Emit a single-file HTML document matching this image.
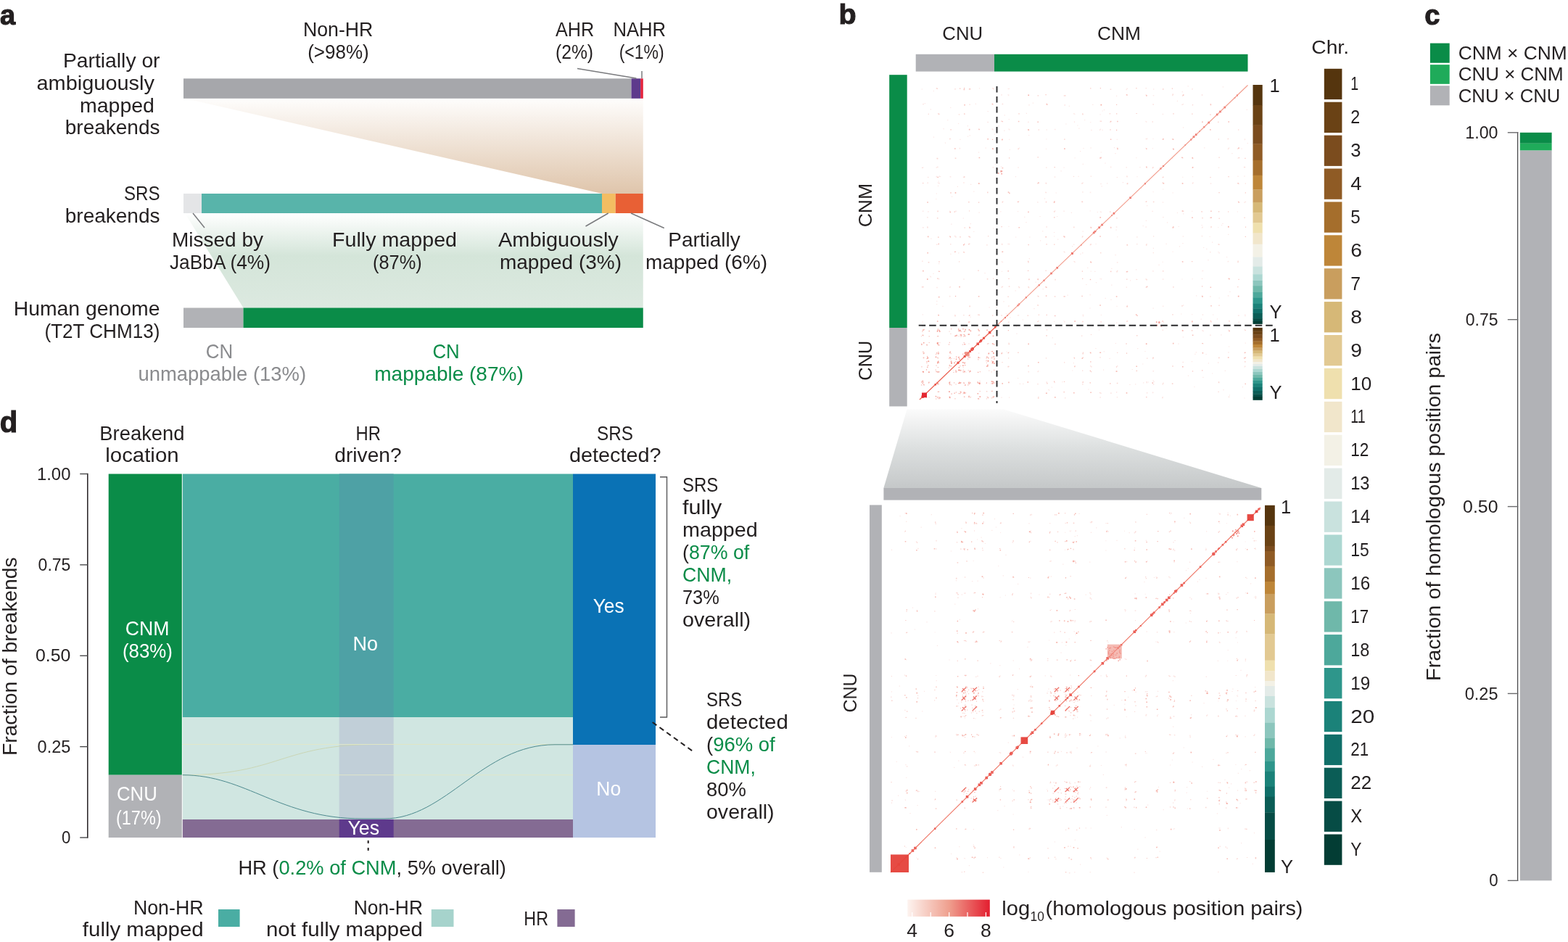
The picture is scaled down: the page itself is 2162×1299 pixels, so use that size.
<!DOCTYPE html>
<html><head><meta charset="utf-8"><title>Figure</title><style>html,body{margin:0;padding:0;background:#fff;width:2162px;height:1299px;overflow:hidden}svg{display:block}text{font-family:"Liberation Sans",Arial,sans-serif}</style></head><body><svg width="2162" height="1299" viewBox="0 0 2162 1299"><rect width="2162" height="1299" fill="#ffffff"/>
<text x="0" y="33.6" text-anchor="start" font-size="38" fill="#231f20" font-weight="bold" stroke="#231f20" stroke-width="1.1">a</text>
<defs><linearGradient id="gBr" x1="0" y1="0" x2="0" y2="1"><stop offset="0" stop-color="#fefdfc"/><stop offset="1" stop-color="#dfc5ab"/></linearGradient><linearGradient id="gGr" x1="0" y1="0" x2="0" y2="1"><stop offset="0" stop-color="#ffffff"/><stop offset="0.45" stop-color="#d4e5d9"/><stop offset="1" stop-color="#dce9e0"/></linearGradient><linearGradient id="gGy" x1="0" y1="0" x2="0" y2="1"><stop offset="0" stop-color="#fbfbfb"/><stop offset="0.5" stop-color="#dcdfdf"/><stop offset="1" stop-color="#c5c8c9"/></linearGradient></defs>
<polygon points="256,136 886.75,136 886.75,267 830,267" fill="url(#gBr)"/>
<polygon points="255,294 886.75,294 886.75,424.5 335.5,424.5" fill="url(#gGr)"/>
<rect x="253.00" y="108.30" width="617.50" height="27.50" fill="#a6a7ab" />
<rect x="870.50" y="108.30" width="12.90" height="27.50" fill="#5e3a8c" />
<rect x="883.25" y="108.30" width="3.50" height="27.50" fill="#e4203a" />
<rect x="253.00" y="267.00" width="25.00" height="27.00" fill="#e4e5e7" />
<rect x="278.00" y="267.00" width="552.00" height="27.00" fill="#58b4aa" />
<rect x="830.00" y="267.00" width="18.75" height="27.00" fill="#f3bd62" />
<rect x="848.75" y="267.00" width="38.00" height="27.00" fill="#e86035" />
<rect x="253.00" y="424.50" width="82.50" height="27.50" fill="#b1b2b6" />
<rect x="335.50" y="424.50" width="551.25" height="27.50" fill="#0a8c48" />
<line x1="796" y1="94.5" x2="877.5" y2="108" stroke="#7a7b7e" stroke-width="1.5" />
<line x1="885" y1="98" x2="885" y2="108" stroke="#7a7b7e" stroke-width="1.5" />
<line x1="838.75" y1="294" x2="807.5" y2="312" stroke="#7a7b7e" stroke-width="1.5" />
<line x1="870" y1="294" x2="915.75" y2="314.5" stroke="#7a7b7e" stroke-width="1.5" />
<line x1="266" y1="294" x2="282" y2="314" stroke="#7a7b7e" stroke-width="1.5" />
<text x="466.2" y="50" text-anchor="middle" font-size="28" fill="#231f20"  textLength="96.40" lengthAdjust="spacingAndGlyphs">Non-HR</text>
<text x="466.4" y="81" text-anchor="middle" font-size="28" fill="#231f20"  textLength="84.54" lengthAdjust="spacingAndGlyphs">(&gt;98%)</text>
<text x="792.5" y="50" text-anchor="middle" font-size="28" fill="#231f20"  textLength="53.11" lengthAdjust="spacingAndGlyphs">AHR</text>
<text x="792" y="81" text-anchor="middle" font-size="28" fill="#231f20"  textLength="52.11" lengthAdjust="spacingAndGlyphs">(2%)</text>
<text x="881.8" y="50" text-anchor="middle" font-size="28" fill="#231f20"  textLength="72.59" lengthAdjust="spacingAndGlyphs">NAHR</text>
<text x="884.7" y="81" text-anchor="middle" font-size="28" fill="#231f20"  textLength="61.98" lengthAdjust="spacingAndGlyphs">(&lt;1%)</text>
<text x="153.75" y="92.5" text-anchor="middle" font-size="28" fill="#231f20"  textLength="133.53" lengthAdjust="spacingAndGlyphs">Partially or</text>
<text x="131.75" y="123.5" text-anchor="middle" font-size="28" fill="#231f20"  textLength="162.46" lengthAdjust="spacingAndGlyphs">ambiguously</text>
<text x="161.5" y="154.5" text-anchor="middle" font-size="28" fill="#231f20"  textLength="102.94" lengthAdjust="spacingAndGlyphs">mapped</text>
<text x="220.5" y="185" text-anchor="end" font-size="28" fill="#231f20" >breakends</text>
<text x="195.75" y="276" text-anchor="middle" font-size="28" fill="#231f20"  textLength="49.56" lengthAdjust="spacingAndGlyphs">SRS</text>
<text x="220.5" y="307" text-anchor="end" font-size="28" fill="#231f20" >breakends</text>
<text x="300" y="340" text-anchor="middle" font-size="28" fill="#231f20" >Missed by</text>
<text x="303.5" y="371" text-anchor="middle" font-size="28" fill="#231f20"  textLength="139.10" lengthAdjust="spacingAndGlyphs">JaBbA (4%)</text>
<text x="544" y="340" text-anchor="middle" font-size="28" fill="#231f20"  textLength="172.10" lengthAdjust="spacingAndGlyphs">Fully mapped</text>
<text x="547.9" y="371" text-anchor="middle" font-size="28" fill="#231f20"  textLength="67.75" lengthAdjust="spacingAndGlyphs">(87%)</text>
<text x="769.9" y="340" text-anchor="middle" font-size="28" fill="#231f20"  textLength="165.87" lengthAdjust="spacingAndGlyphs">Ambiguously</text>
<text x="773" y="371" text-anchor="middle" font-size="28" fill="#231f20" >mapped (3%)</text>
<text x="971" y="340" text-anchor="middle" font-size="28" fill="#231f20" >Partially</text>
<text x="974" y="371" text-anchor="middle" font-size="28" fill="#231f20" >mapped (6%)</text>
<text x="119.6" y="435" text-anchor="middle" font-size="28" fill="#231f20"  textLength="201.75" lengthAdjust="spacingAndGlyphs">Human genome</text>
<text x="140.9" y="466" text-anchor="middle" font-size="28" fill="#231f20"  textLength="158.89" lengthAdjust="spacingAndGlyphs">(T2T CHM13)</text>
<text x="302.5" y="494" text-anchor="middle" font-size="28" fill="#8a8b8e"  textLength="37.45" lengthAdjust="spacingAndGlyphs">CN</text>
<text x="306.25" y="524.5" text-anchor="middle" font-size="28" fill="#8a8b8e"  textLength="231.61" lengthAdjust="spacingAndGlyphs">unmappable (13%)</text>
<text x="615" y="494" text-anchor="middle" font-size="28" fill="#0a8c48"  textLength="37.25" lengthAdjust="spacingAndGlyphs">CN</text>
<text x="619" y="524.5" text-anchor="middle" font-size="28" fill="#0a8c48" >mappable (87%)</text>
<text x="-0.3" y="595.9" text-anchor="start" font-size="40" fill="#231f20" font-weight="bold" stroke="#231f20" stroke-width="1.1">d</text>
<line x1="120.8" y1="652.8" x2="120.8" y2="1155.7" stroke="#231f20" stroke-width="1.5" />
<line x1="110.2" y1="653.5" x2="120.8" y2="653.5" stroke="#4a4a4c" stroke-width="1.4" />
<text x="97.4" y="661.7" text-anchor="end" font-size="23.5" fill="#231f20"  textLength="46.39" lengthAdjust="spacingAndGlyphs">1.00</text>
<line x1="110.2" y1="778.875" x2="120.8" y2="778.875" stroke="#4a4a4c" stroke-width="1.4" />
<text x="97.4" y="787.075" text-anchor="end" font-size="23.5" fill="#231f20"  textLength="44.79" lengthAdjust="spacingAndGlyphs">0.75</text>
<line x1="110.2" y1="904.25" x2="120.8" y2="904.25" stroke="#4a4a4c" stroke-width="1.4" />
<text x="97.4" y="912.45" text-anchor="end" font-size="23.5" fill="#231f20"  textLength="48.39" lengthAdjust="spacingAndGlyphs">0.50</text>
<line x1="110.2" y1="1029.625" x2="120.8" y2="1029.625" stroke="#4a4a4c" stroke-width="1.4" />
<text x="97.4" y="1037.825" text-anchor="end" font-size="23.5" fill="#231f20"  textLength="45.79" lengthAdjust="spacingAndGlyphs">0.25</text>
<line x1="110.2" y1="1155.0" x2="120.8" y2="1155.0" stroke="#4a4a4c" stroke-width="1.4" />
<text x="97.4" y="1163.2" text-anchor="end" font-size="23.5" fill="#231f20"  textLength="12.37" lengthAdjust="spacingAndGlyphs">0</text>
<text x="0" y="0" text-anchor="middle" font-size="28" fill="#231f20" transform="translate(23.4,905.2) rotate(-90)" textLength="273.79" lengthAdjust="spacingAndGlyphs">Fraction of breakends</text>
<rect x="149.70" y="653.50" width="101.10" height="415.20" fill="#0a8c48" />
<rect x="149.70" y="1068.70" width="101.10" height="86.30" fill="#b1b2b6" />
<rect x="251.80" y="653.50" width="538.20" height="335.50" fill="#4aada3" />
<rect x="251.80" y="989.00" width="538.20" height="141.00" fill="#d0e6e1" />
<rect x="251.80" y="1130.00" width="539.80" height="25.00" fill="#846b93" />
<rect x="467.70" y="653.50" width="75.00" height="335.50" fill="#4ea1a5" />
<rect x="467.70" y="989.00" width="75.00" height="141.00" fill="#c1cfd8" />
<rect x="467.70" y="1130.00" width="75.00" height="25.00" fill="#5e3a8c" />
<path d="M251.8,1068.7 C386,1068.7 386,1026.5 520,1026.5 L790,1026.5" fill="none" stroke="#c9d4b0" stroke-width="1" stroke-opacity="0.9"/>
<path d="M251.8,1026.5 L790,1026.5" fill="none" stroke="#e2e8c6" stroke-width="1" stroke-opacity="0.9"/>
<path d="M251.8,1068.7 L790,1068.7" fill="none" stroke="#e2e8c6" stroke-width="1" stroke-opacity="0.9"/>
<path d="M251.8,1068.7 C340,1068.7 385,1129 500,1129 L530,1129 C615,1129 665,1026.8 765,1026.8 L790,1026.8" fill="none" stroke="#4d8a8e" stroke-width="1"/>
<rect x="790.00" y="653.50" width="114.00" height="373.50" fill="#0a72b5" />
<rect x="790.00" y="1027.00" width="114.00" height="128.00" fill="#b5c4e2" />
<text x="195.95" y="606.6" text-anchor="middle" font-size="28" fill="#231f20"  textLength="117.22" lengthAdjust="spacingAndGlyphs">Breakend</text>
<text x="195.95" y="637.2" text-anchor="middle" font-size="28" fill="#231f20"  textLength="101.32" lengthAdjust="spacingAndGlyphs">location</text>
<text x="507.65" y="606.6" text-anchor="middle" font-size="28" fill="#231f20"  textLength="34.45" lengthAdjust="spacingAndGlyphs">HR</text>
<text x="507.5" y="637.2" text-anchor="middle" font-size="28" fill="#231f20"  textLength="92.29" lengthAdjust="spacingAndGlyphs">driven?</text>
<text x="847.9" y="606.6" text-anchor="middle" font-size="28" fill="#231f20"  textLength="49.86" lengthAdjust="spacingAndGlyphs">SRS</text>
<text x="848.3" y="637.2" text-anchor="middle" font-size="28" fill="#231f20"  textLength="126.61" lengthAdjust="spacingAndGlyphs">detected?</text>
<text x="203.15" y="875.5" text-anchor="middle" font-size="28" fill="#ffffff"  textLength="60.72" lengthAdjust="spacingAndGlyphs">CNM</text>
<text x="203.5" y="906.7" text-anchor="middle" font-size="28" fill="#ffffff"  textLength="68.95" lengthAdjust="spacingAndGlyphs">(83%)</text>
<text x="188.9" y="1103.5" text-anchor="middle" font-size="28" fill="#ffffff"  textLength="55.72" lengthAdjust="spacingAndGlyphs">CNU</text>
<text x="191.3" y="1136.5" text-anchor="middle" font-size="28" fill="#ffffff"  textLength="62.55" lengthAdjust="spacingAndGlyphs">(17%)</text>
<text x="503.65" y="897" text-anchor="middle" font-size="28" fill="#ffffff"  textLength="34.55" lengthAdjust="spacingAndGlyphs">No</text>
<text x="839.1" y="845.4" text-anchor="middle" font-size="28" fill="#ffffff"  textLength="42.93" lengthAdjust="spacingAndGlyphs">Yes</text>
<text x="839.2" y="1096.8" text-anchor="middle" font-size="28" fill="#ffffff"  textLength="33.84" lengthAdjust="spacingAndGlyphs">No</text>
<text x="501.3" y="1151" text-anchor="middle" font-size="28" fill="#ffffff"  textLength="43.73" lengthAdjust="spacingAndGlyphs">Yes</text>
<polyline points="910,657.7 919.5,657.7 919.5,989 910,989" fill="none" stroke="#58585a" stroke-width="1.4"/>
<line x1="899.7" y1="996" x2="956" y2="1036.5" stroke="#231f20" stroke-width="2" stroke-dasharray="7,5"/>
<line x1="507.7" y1="1159" x2="507.7" y2="1177" stroke="#231f20" stroke-width="2" stroke-dasharray="4,6"/>
<text x="941" y="677.5" text-anchor="start" font-size="28" fill="#231f20"  textLength="49.26" lengthAdjust="spacingAndGlyphs">SRS</text>
<text x="941" y="708.53" text-anchor="start" font-size="28" fill="#231f20"  textLength="54.36" lengthAdjust="spacingAndGlyphs">fully</text>
<text x="941" y="739.56" text-anchor="start" font-size="28" fill="#231f20"  textLength="103.74" lengthAdjust="spacingAndGlyphs">mapped</text>
<text x="941" y="770.59" text-anchor="start" font-size="28" fill="#231f20"  textLength="92.27" lengthAdjust="spacingAndGlyphs">(<tspan fill="#0a8c48">87% of</tspan></text>
<text x="941" y="801.62" text-anchor="start" font-size="28" fill="#0a8c48"  textLength="68.15" lengthAdjust="spacingAndGlyphs">CNM,</text>
<text x="941" y="832.65" text-anchor="start" font-size="28" fill="#231f20"  textLength="50.74" lengthAdjust="spacingAndGlyphs">73%</text>
<text x="941" y="863.6800000000001" text-anchor="start" font-size="28" fill="#231f20"  textLength="94.07" lengthAdjust="spacingAndGlyphs">overall)</text>
<text x="974" y="973.5" text-anchor="start" font-size="28" fill="#231f20"  textLength="49.36" lengthAdjust="spacingAndGlyphs">SRS</text>
<text x="974" y="1004.5" text-anchor="start" font-size="28" fill="#231f20"  textLength="112.83" lengthAdjust="spacingAndGlyphs">detected</text>
<text x="974" y="1035.5" text-anchor="start" font-size="28" fill="#231f20"  textLength="94.76" lengthAdjust="spacingAndGlyphs">(<tspan fill="#0a8c48">96% of</tspan></text>
<text x="974" y="1066.5" text-anchor="start" font-size="28" fill="#0a8c48"  textLength="67.75" lengthAdjust="spacingAndGlyphs">CNM,</text>
<text x="974" y="1097.5" text-anchor="start" font-size="28" fill="#231f20"  textLength="54.85" lengthAdjust="spacingAndGlyphs">80%</text>
<text x="974" y="1128.5" text-anchor="start" font-size="28" fill="#231f20"  textLength="93.57" lengthAdjust="spacingAndGlyphs">overall)</text>
<text x="513.2" y="1205.8" text-anchor="middle" font-size="28" fill="#231f20"  textLength="369.55" lengthAdjust="spacingAndGlyphs">HR (<tspan fill="#0a8c48">0.2% of CNM</tspan>, 5% overall)</text>
<text x="232.25" y="1260.6" text-anchor="middle" font-size="28" fill="#231f20"  textLength="96.60" lengthAdjust="spacingAndGlyphs">Non-HR</text>
<text x="197.25" y="1291.3" text-anchor="middle" font-size="28" fill="#231f20"  textLength="166.73" lengthAdjust="spacingAndGlyphs">fully mapped</text>
<rect x="301.00" y="1254.00" width="29.60" height="24.00" fill="#4aada3" />
<text x="535.35" y="1260.6" text-anchor="middle" font-size="28" fill="#231f20"  textLength="95.20" lengthAdjust="spacingAndGlyphs">Non-HR</text>
<text x="475" y="1291.3" text-anchor="middle" font-size="28" fill="#231f20"  textLength="215.99" lengthAdjust="spacingAndGlyphs">not fully mapped</text>
<rect x="594.80" y="1254.00" width="30.70" height="24.00" fill="#a6d3cc" />
<text x="739.15" y="1276" text-anchor="middle" font-size="28" fill="#231f20"  textLength="33.65" lengthAdjust="spacingAndGlyphs">HR</text>
<rect x="768.40" y="1254.00" width="24.20" height="24.00" fill="#846b93" />
<text x="1156.6" y="33.4" text-anchor="start" font-size="39.5" fill="#231f20" font-weight="bold" stroke="#231f20" stroke-width="1.1">b</text>
<text x="1327.25" y="55" text-anchor="middle" font-size="26.5" fill="#231f20"  textLength="55.81" lengthAdjust="spacingAndGlyphs">CNU</text>
<text x="1542.9" y="55" text-anchor="middle" font-size="26.5" fill="#231f20"  textLength="59.90" lengthAdjust="spacingAndGlyphs">CNM</text>
<rect x="1262.70" y="74.80" width="108.30" height="23.80" fill="#b1b2b6" />
<rect x="1371.00" y="74.80" width="349.50" height="23.80" fill="#0a8c48" />
<rect x="1226.20" y="103.20" width="24.50" height="348.80" fill="#0a8c48" />
<rect x="1226.20" y="452.00" width="24.50" height="108.40" fill="#b1b2b6" />
<text x="0" y="0" text-anchor="middle" font-size="26.5" fill="#231f20" transform="translate(1201.6,283.15) rotate(-90)" textLength="60.40" lengthAdjust="spacingAndGlyphs">CNM</text>
<text x="0" y="0" text-anchor="middle" font-size="26.5" fill="#231f20" transform="translate(1201.6,497.2) rotate(-90)" textLength="54.91" lengthAdjust="spacingAndGlyphs">CNU</text>
<text x="0" y="0" text-anchor="middle" font-size="26.5" fill="#231f20" transform="translate(1181.3,955.5) rotate(-90)" textLength="54.12" lengthAdjust="spacingAndGlyphs">CNU</text>
<path fill="#e5302e" fill-opacity="0.85" d="M1339.2 480.3h2.5v2.5h-2.5zM1351.9 468.1h2.5v2.5h-2.5zM1288.5 528.9h2.5v2.5h-2.5zM1339.5 479.1h3.5v3.5h-3.5zM1371.0 449.9h2.5v2.5h-2.5zM1351.0 468.5h3v3h-3zM1270.3 545.4h3.5v3.5h-3.5zM1350.0 470.0h2.5v2.5h-2.5zM1346.5 472.4h3.5v3.5h-3.5zM1272.9 542.8h3.5v3.5h-3.5zM1271.9 544.4h3v3h-3zM1350.8 469.3h2.5v2.5h-2.5zM1336.0 482.9h3v3h-3zM1328.7 489.9h3v3h-3zM1338.1 480.4h3.5v3.5h-3.5zM1319.5 498.7h3v3h-3zM1355.0 464.7h3v3h-3zM1362.9 456.7h3.5v3.5h-3.5zM1534.7 293.1h2.5v2.5h-2.5zM1577.9 252.2h2v2h-2zM1506.9 319.7h2.5v2.5h-2.5zM1644.7 187.6h2.5v2.5h-2.5zM1476.9 348.4h2.5v2.5h-2.5zM1557.3 271.4h2.5v2.5h-2.5zM1413.8 409.3h2v2h-2zM1633.6 199.3h1.5v1.5h-1.5zM1456.5 367.9h2.5v2.5h-2.5zM1532.3 296.3h1.5v1.5h-1.5zM1676.9 156.8h2.5v2.5h-2.5zM1687.5 146.7h2.5v2.5h-2.5zM1681.6 153.3h1.5v1.5h-1.5zM1509.3 317.9h2v2h-2zM1647.9 184.6h2.5v2.5h-2.5zM1641.3 191.4h2v2h-2zM1659.3 174.2h2v2h-2zM1701.8 133.9h1.5v1.5h-1.5zM1599.4 231.6h2v2h-2zM1603.1 228.0h2v2h-2zM1648.2 185.3h1.5v1.5h-1.5zM1477.4 347.9h2.5v2.5h-2.5zM1379.7 442.5h1.5v1.5h-1.5zM1677.4 156.8h2v2h-2zM1518.3 308.8h2.5v2.5h-2.5zM1477.6 348.8h1.5v1.5h-1.5zM1490.0 336.9h1.5v1.5h-1.5zM1402.5 420.2h2v2h-2zM1665.5 167.7h2.5v2.5h-2.5zM1385.0 436.9h2v2h-2zM1404.2 418.6h2v2h-2zM1438.5 385.7h2v2h-2zM1514.4 312.5h2.5v2.5h-2.5zM1653.1 180.6h1.5v1.5h-1.5zM1448.3 375.8h2.5v2.5h-2.5zM1388.4 434.2h1.5v1.5h-1.5zM1508.5 318.6h2v2h-2zM1704.9 130.5h2v2h-2zM1431.7 392.2h2v2h-2zM1681.2 152.7h2.5v2.5h-2.5z"/>
<path fill="#e8453a" fill-opacity="0.5" d="M1379.4 235.9h1.6v1.6h-1.6zM1596.9 444.2h1.6v1.6h-1.6zM1379.4 234.9h1.6v1.6h-1.6zM1598.0 444.3h1.6v1.6h-1.6zM1380.4 238.8h1.6v1.6h-1.6zM1593.9 443.3h1.6v1.6h-1.6zM1380.6 235.3h1.6v1.6h-1.6zM1597.5 443.1h1.6v1.6h-1.6zM1375.8 238.1h1.6v1.6h-1.6zM1594.6 447.8h1.6v1.6h-1.6zM1374.3 232.5h1.6v1.6h-1.6zM1600.4 449.2h1.6v1.6h-1.6z"/>
<path fill="#ec5a48" fill-opacity="0.12" d="M1380.9 373.7h1.2v1.2h-1.2zM1453.0 442.8h1.2v1.2h-1.2zM1381.9 361.0h1.2v1.2h-1.2zM1466.3 441.9h1.2v1.2h-1.2zM1380.7 360.2h1.6v1.6h-1.6zM1467.1 443.0h1.6v1.6h-1.6zM1380.9 336.6h1.6v1.6h-1.6zM1491.8 442.8h1.6v1.6h-1.6zM1382.0 277.2h1.6v1.6h-1.6zM1553.8 441.8h1.6v1.6h-1.6zM1380.3 130.1h1.6v1.6h-1.6zM1707.3 443.4h1.6v1.6h-1.6zM1390.2 421.0h1.6v1.6h-1.6zM1403.6 433.9h1.6v1.6h-1.6zM1389.9 421.7h1.6v1.6h-1.6zM1402.9 434.2h1.6v1.6h-1.6zM1390.8 335.8h1.6v1.6h-1.6zM1492.6 433.4h1.6v1.6h-1.6zM1389.3 335.7h1.6v1.6h-1.6zM1492.7 434.8h1.6v1.6h-1.6zM1390.3 311.7h1.2v1.2h-1.2zM1517.8 433.8h1.2v1.2h-1.2zM1391.0 191.7h1.2v1.2h-1.2zM1643.1 433.1h1.2v1.2h-1.2zM1390.3 177.4h1.2v1.2h-1.2zM1658.0 433.9h1.2v1.2h-1.2zM1390.9 177.8h1.6v1.6h-1.6zM1657.6 433.2h1.6v1.6h-1.6zM1389.5 129.9h1.2v1.2h-1.2zM1707.6 434.6h1.2v1.2h-1.2zM1389.8 130.6h1.6v1.6h-1.6zM1706.9 434.3h1.6v1.6h-1.6zM1390.9 121.8h1.2v1.2h-1.2zM1716.1 433.3h1.2v1.2h-1.2zM1389.5 121.7h1.6v1.6h-1.6zM1716.1 434.6h1.6v1.6h-1.6zM1403.0 291.0h1.2v1.2h-1.2zM1539.4 421.7h1.2v1.2h-1.2zM1404.3 277.1h1.2v1.2h-1.2zM1553.9 420.5h1.2v1.2h-1.2zM1403.3 230.2h1.6v1.6h-1.6zM1602.9 421.4h1.6v1.6h-1.6zM1404.6 203.5h1.6v1.6h-1.6zM1630.8 420.2h1.6v1.6h-1.6zM1417.9 395.8h1.6v1.6h-1.6zM1430.1 407.4h1.6v1.6h-1.6zM1418.2 384.3h1.6v1.6h-1.6zM1442.0 407.1h1.6v1.6h-1.6zM1417.1 167.7h1.6v1.6h-1.6zM1668.1 408.2h1.6v1.6h-1.6zM1417.2 167.6h1.2v1.2h-1.2zM1668.2 408.1h1.2v1.2h-1.2zM1418.2 144.0h1.6v1.6h-1.6zM1692.8 407.1h1.6v1.6h-1.6zM1441.4 326.1h1.6v1.6h-1.6zM1502.7 384.9h1.6v1.6h-1.6zM1442.4 311.8h1.6v1.6h-1.6zM1517.7 384.0h1.6v1.6h-1.6zM1442.4 313.0h1.2v1.2h-1.2zM1516.4 383.9h1.2v1.2h-1.2zM1441.9 277.7h1.6v1.6h-1.6zM1553.3 384.4h1.6v1.6h-1.6zM1441.3 264.3h1.2v1.2h-1.2zM1567.3 384.9h1.2v1.2h-1.2zM1442.0 230.3h1.6v1.6h-1.6zM1602.8 384.3h1.6v1.6h-1.6zM1441.9 204.8h1.2v1.2h-1.2zM1629.4 384.4h1.2v1.2h-1.2zM1442.3 191.3h1.2v1.2h-1.2zM1643.5 384.0h1.2v1.2h-1.2zM1453.2 325.3h1.2v1.2h-1.2zM1503.6 373.6h1.2v1.2h-1.2zM1453.0 299.2h1.2v1.2h-1.2zM1530.8 373.8h1.2v1.2h-1.2zM1453.7 243.3h1.6v1.6h-1.6zM1589.1 373.1h1.6v1.6h-1.6zM1453.8 178.1h1.2v1.2h-1.2zM1657.3 373.0h1.2v1.2h-1.2zM1454.1 177.7h1.6v1.6h-1.6zM1657.7 372.7h1.6v1.6h-1.6zM1466.3 290.5h1.6v1.6h-1.6zM1539.9 361.1h1.6v1.6h-1.6zM1466.5 230.5h1.2v1.2h-1.2zM1602.6 360.8h1.2v1.2h-1.2zM1467.4 204.7h1.2v1.2h-1.2zM1629.5 360.0h1.2v1.2h-1.2zM1467.7 143.7h1.2v1.2h-1.2zM1693.2 359.7h1.2v1.2h-1.2zM1467.4 144.4h1.6v1.6h-1.6zM1692.5 359.9h1.6v1.6h-1.6zM1479.9 336.5h1.6v1.6h-1.6zM1491.9 348.0h1.6v1.6h-1.6zM1481.5 217.2h1.2v1.2h-1.2zM1616.5 346.5h1.2v1.2h-1.2zM1481.3 156.9h1.2v1.2h-1.2zM1679.3 346.7h1.2v1.2h-1.2zM1480.0 156.0h1.6v1.6h-1.6zM1680.3 347.9h1.6v1.6h-1.6zM1491.5 326.2h1.6v1.6h-1.6zM1502.6 336.9h1.6v1.6h-1.6zM1491.1 277.3h1.6v1.6h-1.6zM1553.7 337.3h1.6v1.6h-1.6zM1502.7 290.2h1.2v1.2h-1.2zM1540.2 326.1h1.2v1.2h-1.2zM1502.7 264.6h1.6v1.6h-1.6zM1567.0 326.1h1.6v1.6h-1.6zM1504.1 178.7h1.6v1.6h-1.6zM1656.6 324.8h1.6v1.6h-1.6zM1503.1 168.1h1.2v1.2h-1.2zM1667.6 325.7h1.2v1.2h-1.2zM1517.2 299.0h1.2v1.2h-1.2zM1531.0 312.3h1.2v1.2h-1.2zM1517.3 291.7h1.6v1.6h-1.6zM1538.7 312.2h1.6v1.6h-1.6zM1516.6 291.2h1.2v1.2h-1.2zM1539.2 312.8h1.2v1.2h-1.2zM1517.2 252.7h1.6v1.6h-1.6zM1579.4 312.2h1.6v1.6h-1.6zM1516.9 177.5h1.2v1.2h-1.2zM1657.8 312.6h1.2v1.2h-1.2zM1516.5 157.2h1.2v1.2h-1.2zM1679.1 312.9h1.2v1.2h-1.2zM1539.7 191.7h1.2v1.2h-1.2zM1643.1 290.7h1.2v1.2h-1.2zM1539.0 178.0h1.2v1.2h-1.2zM1657.3 291.4h1.2v1.2h-1.2zM1554.0 252.1h1.6v1.6h-1.6zM1580.0 277.0h1.6v1.6h-1.6zM1553.3 242.8h1.6v1.6h-1.6zM1589.7 277.7h1.6v1.6h-1.6zM1552.4 122.7h1.6v1.6h-1.6zM1715.1 278.5h1.6v1.6h-1.6zM1553.4 121.4h1.6v1.6h-1.6zM1716.5 277.6h1.6v1.6h-1.6zM1567.4 243.0h1.2v1.2h-1.2zM1589.5 264.1h1.2v1.2h-1.2zM1566.2 217.0h1.2v1.2h-1.2zM1616.6 265.3h1.2v1.2h-1.2zM1579.4 203.8h1.2v1.2h-1.2zM1630.4 252.7h1.2v1.2h-1.2zM1580.9 190.6h1.6v1.6h-1.6zM1644.2 251.3h1.6v1.6h-1.6zM1579.3 166.7h1.2v1.2h-1.2zM1669.1 252.7h1.2v1.2h-1.2zM1579.9 167.2h1.6v1.6h-1.6zM1668.7 252.2h1.6v1.6h-1.6zM1579.4 130.0h1.6v1.6h-1.6zM1707.4 252.7h1.6v1.6h-1.6zM1588.5 230.8h1.6v1.6h-1.6zM1602.3 243.9h1.6v1.6h-1.6zM1588.7 204.0h1.2v1.2h-1.2zM1630.2 243.7h1.2v1.2h-1.2zM1589.4 190.9h1.2v1.2h-1.2zM1643.9 243.1h1.2v1.2h-1.2zM1590.1 131.2h1.2v1.2h-1.2zM1706.2 242.4h1.2v1.2h-1.2zM1589.7 130.9h1.2v1.2h-1.2zM1706.5 242.8h1.2v1.2h-1.2zM1602.6 156.7h1.6v1.6h-1.6zM1679.6 230.4h1.6v1.6h-1.6zM1603.2 121.4h1.2v1.2h-1.2zM1716.4 229.9h1.2v1.2h-1.2zM1644.1 143.9h1.2v1.2h-1.2zM1692.9 190.7h1.2v1.2h-1.2zM1643.1 122.2h1.6v1.6h-1.6zM1715.6 191.6h1.6v1.6h-1.6zM1643.6 121.8h1.2v1.2h-1.2zM1716.0 191.2h1.2v1.2h-1.2zM1668.5 142.8h1.2v1.2h-1.2zM1694.1 167.4h1.2v1.2h-1.2z"/>
<path fill="#ec5a48" fill-opacity="0.35" d="M1380.8 395.4h1.2v1.2h-1.2zM1430.4 442.9h1.2v1.2h-1.2zM1381.6 346.5h1.6v1.6h-1.6zM1481.5 442.2h1.6v1.6h-1.6zM1380.5 312.0h1.2v1.2h-1.2zM1517.5 443.2h1.2v1.2h-1.2zM1381.6 230.8h1.6v1.6h-1.6zM1602.3 442.2h1.6v1.6h-1.6zM1381.0 191.8h1.6v1.6h-1.6zM1643.0 442.8h1.6v1.6h-1.6zM1380.4 166.5h1.2v1.2h-1.2zM1669.3 443.3h1.2v1.2h-1.2zM1381.8 167.1h1.2v1.2h-1.2zM1668.8 441.9h1.2v1.2h-1.2zM1389.5 408.5h1.2v1.2h-1.2zM1416.7 434.6h1.2v1.2h-1.2zM1390.4 383.7h1.2v1.2h-1.2zM1442.6 433.8h1.2v1.2h-1.2zM1389.4 372.9h1.6v1.6h-1.6zM1453.9 434.7h1.6v1.6h-1.6zM1391.0 265.6h1.6v1.6h-1.6zM1565.9 433.1h1.6v1.6h-1.6zM1389.7 264.3h1.6v1.6h-1.6zM1567.2 434.4h1.6v1.6h-1.6zM1391.0 217.2h1.2v1.2h-1.2zM1616.4 433.2h1.2v1.2h-1.2zM1404.4 313.3h1.2v1.2h-1.2zM1516.1 420.3h1.2v1.2h-1.2zM1404.5 313.0h1.6v1.6h-1.6zM1516.4 420.2h1.6v1.6h-1.6zM1402.9 277.6h1.6v1.6h-1.6zM1553.3 421.8h1.6v1.6h-1.6zM1403.5 204.8h1.2v1.2h-1.2zM1629.4 421.2h1.2v1.2h-1.2zM1403.8 166.7h1.6v1.6h-1.6zM1669.2 420.9h1.6v1.6h-1.6zM1417.0 372.8h1.2v1.2h-1.2zM1454.0 408.3h1.2v1.2h-1.2zM1417.1 359.8h1.2v1.2h-1.2zM1467.6 408.2h1.2v1.2h-1.2zM1417.6 337.0h1.2v1.2h-1.2zM1491.3 407.7h1.2v1.2h-1.2zM1417.5 336.8h1.2v1.2h-1.2zM1491.6 407.8h1.2v1.2h-1.2zM1417.2 291.6h1.6v1.6h-1.6zM1538.8 408.1h1.6v1.6h-1.6zM1417.1 178.1h1.6v1.6h-1.6zM1657.2 408.2h1.6v1.6h-1.6zM1417.4 130.5h1.6v1.6h-1.6zM1706.9 407.8h1.6v1.6h-1.6zM1430.8 385.0h1.2v1.2h-1.2zM1441.3 395.0h1.2v1.2h-1.2zM1430.4 384.3h1.6v1.6h-1.6zM1442.0 395.4h1.6v1.6h-1.6zM1431.2 251.3h1.6v1.6h-1.6zM1580.8 394.6h1.6v1.6h-1.6zM1430.3 252.2h1.2v1.2h-1.2zM1579.8 395.5h1.2v1.2h-1.2zM1430.6 216.3h1.2v1.2h-1.2zM1617.3 395.2h1.2v1.2h-1.2zM1431.7 178.4h1.2v1.2h-1.2zM1657.0 394.2h1.2v1.2h-1.2zM1430.4 167.4h1.6v1.6h-1.6zM1668.5 395.5h1.6v1.6h-1.6zM1430.7 131.2h1.2v1.2h-1.2zM1706.2 395.1h1.2v1.2h-1.2zM1442.5 336.3h1.2v1.2h-1.2zM1492.1 383.8h1.2v1.2h-1.2zM1441.6 326.0h1.2v1.2h-1.2zM1502.9 384.7h1.2v1.2h-1.2zM1442.5 142.7h1.6v1.6h-1.6zM1694.2 383.8h1.6v1.6h-1.6zM1442.9 143.4h1.6v1.6h-1.6zM1693.5 383.4h1.6v1.6h-1.6zM1441.5 130.1h1.2v1.2h-1.2zM1707.4 384.8h1.2v1.2h-1.2zM1453.2 336.6h1.2v1.2h-1.2zM1491.8 373.6h1.2v1.2h-1.2zM1453.1 277.3h1.6v1.6h-1.6zM1553.7 373.7h1.6v1.6h-1.6zM1452.8 278.3h1.6v1.6h-1.6zM1552.7 374.0h1.6v1.6h-1.6zM1453.6 230.0h1.2v1.2h-1.2zM1603.1 373.2h1.2v1.2h-1.2zM1467.0 325.9h1.6v1.6h-1.6zM1503.0 360.4h1.6v1.6h-1.6zM1466.3 325.2h1.6v1.6h-1.6zM1503.7 361.0h1.6v1.6h-1.6zM1467.1 204.3h1.6v1.6h-1.6zM1629.9 360.2h1.6v1.6h-1.6zM1467.3 191.6h1.2v1.2h-1.2zM1643.1 360.1h1.2v1.2h-1.2zM1492.2 325.4h1.2v1.2h-1.2zM1503.5 336.2h1.2v1.2h-1.2zM1503.6 313.2h1.6v1.6h-1.6zM1516.2 325.2h1.6v1.6h-1.6zM1503.4 312.7h1.2v1.2h-1.2zM1516.7 325.4h1.2v1.2h-1.2zM1503.2 121.2h1.2v1.2h-1.2zM1716.7 325.7h1.2v1.2h-1.2zM1516.3 299.1h1.6v1.6h-1.6zM1530.9 313.2h1.6v1.6h-1.6zM1516.3 217.1h1.6v1.6h-1.6zM1616.5 313.1h1.6v1.6h-1.6zM1517.2 216.6h1.6v1.6h-1.6zM1617.0 312.3h1.6v1.6h-1.6zM1517.7 143.8h1.6v1.6h-1.6zM1693.0 311.8h1.6v1.6h-1.6zM1516.8 121.0h1.2v1.2h-1.2zM1716.9 312.6h1.2v1.2h-1.2zM1530.8 191.5h1.6v1.6h-1.6zM1643.2 299.3h1.6v1.6h-1.6zM1530.8 166.7h1.6v1.6h-1.6zM1669.2 299.3h1.6v1.6h-1.6zM1540.2 204.6h1.6v1.6h-1.6zM1629.6 290.2h1.6v1.6h-1.6zM1539.0 179.0h1.2v1.2h-1.2zM1656.3 291.3h1.2v1.2h-1.2zM1540.1 166.7h1.6v1.6h-1.6zM1669.1 290.4h1.6v1.6h-1.6zM1539.1 156.3h1.2v1.2h-1.2zM1680.0 291.3h1.2v1.2h-1.2zM1539.0 143.8h1.2v1.2h-1.2zM1693.0 291.4h1.2v1.2h-1.2zM1553.6 130.5h1.2v1.2h-1.2zM1706.9 277.4h1.2v1.2h-1.2zM1552.7 130.0h1.6v1.6h-1.6zM1707.4 278.2h1.6v1.6h-1.6zM1566.5 155.9h1.2v1.2h-1.2zM1680.4 265.0h1.2v1.2h-1.2zM1566.3 121.1h1.2v1.2h-1.2zM1716.7 265.2h1.2v1.2h-1.2zM1580.5 230.5h1.2v1.2h-1.2zM1602.6 251.6h1.2v1.2h-1.2zM1580.0 229.5h1.6v1.6h-1.6zM1603.6 252.1h1.6v1.6h-1.6zM1580.0 204.5h1.6v1.6h-1.6zM1629.7 252.1h1.6v1.6h-1.6zM1580.1 131.1h1.6v1.6h-1.6zM1706.3 252.0h1.6v1.6h-1.6zM1588.6 167.4h1.2v1.2h-1.2zM1668.4 243.9h1.2v1.2h-1.2zM1589.5 143.4h1.2v1.2h-1.2zM1693.4 243.0h1.2v1.2h-1.2zM1603.2 190.9h1.6v1.6h-1.6zM1643.9 229.9h1.6v1.6h-1.6zM1603.1 122.6h1.2v1.2h-1.2zM1715.2 229.9h1.2v1.2h-1.2zM1617.3 205.1h1.6v1.6h-1.6zM1629.1 216.4h1.6v1.6h-1.6zM1616.8 191.4h1.6v1.6h-1.6zM1643.4 216.8h1.6v1.6h-1.6zM1616.6 129.6h1.2v1.2h-1.2zM1707.8 217.1h1.2v1.2h-1.2zM1615.8 121.6h1.2v1.2h-1.2zM1716.3 217.8h1.2v1.2h-1.2zM1630.9 130.2h1.6v1.6h-1.6zM1707.3 203.3h1.6v1.6h-1.6zM1643.3 156.5h1.2v1.2h-1.2zM1679.8 191.4h1.2v1.2h-1.2zM1657.4 167.6h1.2v1.2h-1.2zM1668.2 178.0h1.2v1.2h-1.2zM1656.9 130.4h1.2v1.2h-1.2zM1707.1 178.4h1.2v1.2h-1.2zM1668.6 143.6h1.6v1.6h-1.6zM1693.3 167.2h1.6v1.6h-1.6z"/>
<path fill="#ec5a48" fill-opacity="0.2" d="M1380.3 434.2h1.6v1.6h-1.6zM1389.9 443.4h1.6v1.6h-1.6zM1381.9 394.6h1.2v1.2h-1.2zM1431.3 441.9h1.2v1.2h-1.2zM1381.3 346.8h1.2v1.2h-1.2zM1481.1 442.5h1.2v1.2h-1.2zM1381.0 335.9h1.2v1.2h-1.2zM1492.5 442.7h1.2v1.2h-1.2zM1381.4 278.0h1.6v1.6h-1.6zM1553.0 442.4h1.6v1.6h-1.6zM1381.7 191.5h1.2v1.2h-1.2zM1643.3 442.0h1.2v1.2h-1.2zM1381.6 142.7h1.6v1.6h-1.6zM1694.2 442.2h1.6v1.6h-1.6zM1382.0 142.8h1.2v1.2h-1.2zM1694.1 441.8h1.2v1.2h-1.2zM1390.8 394.3h1.6v1.6h-1.6zM1431.6 433.4h1.6v1.6h-1.6zM1404.1 394.8h1.2v1.2h-1.2zM1431.1 420.6h1.2v1.2h-1.2zM1404.6 395.7h1.6v1.6h-1.6zM1430.1 420.1h1.6v1.6h-1.6zM1404.2 156.1h1.6v1.6h-1.6zM1680.2 420.5h1.6v1.6h-1.6zM1417.3 394.9h1.6v1.6h-1.6zM1431.0 408.0h1.6v1.6h-1.6zM1418.0 384.6h1.6v1.6h-1.6zM1441.7 407.3h1.6v1.6h-1.6zM1417.2 361.0h1.6v1.6h-1.6zM1466.3 408.0h1.6v1.6h-1.6zM1417.7 178.6h1.6v1.6h-1.6zM1656.8 407.6h1.6v1.6h-1.6zM1417.5 130.6h1.6v1.6h-1.6zM1706.8 407.7h1.6v1.6h-1.6zM1430.3 278.2h1.2v1.2h-1.2zM1552.7 395.5h1.2v1.2h-1.2zM1441.4 372.5h1.6v1.6h-1.6zM1454.3 384.8h1.6v1.6h-1.6zM1441.7 278.1h1.2v1.2h-1.2zM1552.9 384.5h1.2v1.2h-1.2zM1441.6 265.1h1.2v1.2h-1.2zM1566.4 384.7h1.2v1.2h-1.2zM1441.5 251.8h1.6v1.6h-1.6zM1580.3 384.8h1.6v1.6h-1.6zM1442.0 252.6h1.2v1.2h-1.2zM1579.4 384.3h1.2v1.2h-1.2zM1442.6 178.4h1.2v1.2h-1.2zM1656.9 383.7h1.2v1.2h-1.2zM1453.1 299.0h1.6v1.6h-1.6zM1531.0 373.6h1.6v1.6h-1.6zM1454.0 290.2h1.2v1.2h-1.2zM1540.2 372.8h1.2v1.2h-1.2zM1452.9 291.1h1.6v1.6h-1.6zM1539.3 373.8h1.6v1.6h-1.6zM1466.6 346.5h1.2v1.2h-1.2zM1481.4 360.8h1.2v1.2h-1.2zM1467.5 347.4h1.2v1.2h-1.2zM1480.5 359.9h1.2v1.2h-1.2zM1466.7 131.2h1.6v1.6h-1.6zM1706.2 360.6h1.6v1.6h-1.6zM1467.9 131.1h1.6v1.6h-1.6zM1706.3 359.5h1.6v1.6h-1.6zM1480.0 312.6h1.6v1.6h-1.6zM1516.9 347.9h1.6v1.6h-1.6zM1480.1 312.5h1.2v1.2h-1.2zM1517.0 347.8h1.2v1.2h-1.2zM1479.9 242.8h1.2v1.2h-1.2zM1589.7 348.0h1.2v1.2h-1.2zM1480.9 167.6h1.2v1.2h-1.2zM1668.2 347.0h1.2v1.2h-1.2zM1491.6 277.6h1.6v1.6h-1.6zM1553.4 336.8h1.6v1.6h-1.6zM1492.3 264.3h1.2v1.2h-1.2zM1567.2 336.1h1.2v1.2h-1.2zM1492.5 251.6h1.2v1.2h-1.2zM1580.5 335.9h1.2v1.2h-1.2zM1491.2 252.2h1.6v1.6h-1.6zM1579.9 337.1h1.6v1.6h-1.6zM1492.2 156.9h1.6v1.6h-1.6zM1679.4 336.2h1.6v1.6h-1.6zM1492.0 156.3h1.6v1.6h-1.6zM1680.0 336.5h1.6v1.6h-1.6zM1503.7 242.5h1.2v1.2h-1.2zM1590.0 325.2h1.2v1.2h-1.2zM1503.5 203.4h1.2v1.2h-1.2zM1630.8 325.4h1.2v1.2h-1.2zM1516.0 178.5h1.2v1.2h-1.2zM1656.9 313.4h1.2v1.2h-1.2zM1517.5 166.5h1.6v1.6h-1.6zM1669.3 312.0h1.6v1.6h-1.6zM1516.4 166.6h1.2v1.2h-1.2zM1669.3 313.0h1.2v1.2h-1.2zM1517.3 143.8h1.6v1.6h-1.6zM1693.0 312.2h1.6v1.6h-1.6zM1530.0 291.3h1.6v1.6h-1.6zM1539.1 300.0h1.6v1.6h-1.6zM1531.1 229.7h1.2v1.2h-1.2zM1603.3 298.9h1.2v1.2h-1.2zM1530.2 178.1h1.6v1.6h-1.6zM1657.2 299.8h1.6v1.6h-1.6zM1530.2 167.8h1.2v1.2h-1.2zM1668.0 299.8h1.2v1.2h-1.2zM1529.6 155.9h1.6v1.6h-1.6zM1680.4 300.4h1.6v1.6h-1.6zM1530.6 122.5h1.6v1.6h-1.6zM1715.3 299.4h1.6v1.6h-1.6zM1539.7 243.9h1.2v1.2h-1.2zM1588.5 290.8h1.2v1.2h-1.2zM1539.9 203.5h1.6v1.6h-1.6zM1630.8 290.5h1.6v1.6h-1.6zM1553.6 252.6h1.6v1.6h-1.6zM1579.5 277.4h1.6v1.6h-1.6zM1553.2 242.4h1.2v1.2h-1.2zM1590.2 277.8h1.2v1.2h-1.2zM1552.6 230.2h1.2v1.2h-1.2zM1602.9 278.4h1.2v1.2h-1.2zM1579.7 191.1h1.2v1.2h-1.2zM1643.7 252.4h1.2v1.2h-1.2zM1579.6 121.1h1.2v1.2h-1.2zM1716.7 252.5h1.2v1.2h-1.2zM1589.1 230.0h1.6v1.6h-1.6zM1603.1 243.4h1.6v1.6h-1.6zM1590.1 122.4h1.2v1.2h-1.2zM1715.4 242.4h1.2v1.2h-1.2zM1602.5 191.4h1.6v1.6h-1.6zM1643.4 230.5h1.6v1.6h-1.6zM1616.8 204.3h1.6v1.6h-1.6zM1629.9 216.9h1.6v1.6h-1.6zM1615.9 191.0h1.6v1.6h-1.6zM1643.8 217.7h1.6v1.6h-1.6zM1617.2 156.1h1.6v1.6h-1.6zM1680.3 216.5h1.6v1.6h-1.6zM1616.2 131.0h1.2v1.2h-1.2zM1706.4 217.4h1.2v1.2h-1.2zM1630.6 143.0h1.2v1.2h-1.2zM1693.9 203.6h1.2v1.2h-1.2zM1629.4 143.9h1.2v1.2h-1.2zM1692.9 204.8h1.2v1.2h-1.2zM1629.9 131.2h1.6v1.6h-1.6zM1706.2 204.3h1.6v1.6h-1.6zM1643.7 144.3h1.2v1.2h-1.2zM1692.5 191.1h1.2v1.2h-1.2zM1657.0 167.6h1.6v1.6h-1.6zM1668.2 178.3h1.6v1.6h-1.6zM1668.2 157.3h1.6v1.6h-1.6zM1679.0 167.6h1.6v1.6h-1.6z"/>
<path fill="#ec5a48" fill-opacity="0.15" d="M1271.5 443.3h1.2v1.2h-1.2zM1380.4 547.6h1.2v1.2h-1.2zM1271.7 433.2h1.2v1.2h-1.2zM1391.0 547.5h1.2v1.2h-1.2zM1272.4 394.8h1.6v1.6h-1.6zM1431.1 546.7h1.6v1.6h-1.6zM1271.1 359.5h1.6v1.6h-1.6zM1467.9 548.0h1.6v1.6h-1.6zM1272.0 313.0h1.6v1.6h-1.6zM1516.4 547.2h1.6v1.6h-1.6zM1271.9 290.7h1.2v1.2h-1.2zM1539.7 547.3h1.2v1.2h-1.2zM1272.2 290.5h1.2v1.2h-1.2zM1539.9 547.0h1.2v1.2h-1.2zM1272.4 230.4h1.2v1.2h-1.2zM1602.6 546.7h1.2v1.2h-1.2zM1278.1 312.2h1.6v1.6h-1.6zM1517.2 541.4h1.6v1.6h-1.6zM1278.1 298.9h1.6v1.6h-1.6zM1531.1 541.3h1.6v1.6h-1.6zM1279.6 291.3h1.2v1.2h-1.2zM1539.1 539.9h1.2v1.2h-1.2zM1278.9 291.4h1.2v1.2h-1.2zM1539.0 540.5h1.2v1.2h-1.2zM1278.4 251.4h1.6v1.6h-1.6zM1580.8 541.0h1.6v1.6h-1.6zM1278.9 243.7h1.6v1.6h-1.6zM1588.8 540.6h1.6v1.6h-1.6zM1291.2 395.7h1.6v1.6h-1.6zM1430.2 528.8h1.6v1.6h-1.6zM1290.9 336.4h1.6v1.6h-1.6zM1492.0 529.1h1.6v1.6h-1.6zM1290.6 242.8h1.6v1.6h-1.6zM1589.7 529.3h1.6v1.6h-1.6zM1290.7 121.1h1.2v1.2h-1.2zM1716.7 529.2h1.2v1.2h-1.2zM1293.8 383.8h1.6v1.6h-1.6zM1442.5 526.3h1.6v1.6h-1.6zM1293.5 373.4h1.6v1.6h-1.6zM1453.4 526.6h1.6v1.6h-1.6zM1294.6 360.6h1.2v1.2h-1.2zM1466.8 525.5h1.2v1.2h-1.2zM1293.1 336.2h1.2v1.2h-1.2zM1492.2 527.0h1.2v1.2h-1.2zM1294.1 251.8h1.6v1.6h-1.6zM1580.3 526.0h1.6v1.6h-1.6zM1294.4 242.4h1.6v1.6h-1.6zM1590.2 525.7h1.6v1.6h-1.6zM1308.9 407.8h1.6v1.6h-1.6zM1417.5 511.8h1.6v1.6h-1.6zM1309.0 395.5h1.6v1.6h-1.6zM1430.4 511.7h1.6v1.6h-1.6zM1309.8 394.7h1.2v1.2h-1.2zM1431.2 510.9h1.2v1.2h-1.2zM1309.1 290.5h1.2v1.2h-1.2zM1539.9 511.6h1.2v1.2h-1.2zM1309.7 243.0h1.6v1.6h-1.6zM1589.5 511.0h1.6v1.6h-1.6zM1309.2 191.2h1.2v1.2h-1.2zM1643.6 511.5h1.2v1.2h-1.2zM1316.2 433.4h1.2v1.2h-1.2zM1390.7 504.8h1.2v1.2h-1.2zM1317.1 407.7h1.2v1.2h-1.2zM1417.6 503.9h1.2v1.2h-1.2zM1317.1 326.0h1.6v1.6h-1.6zM1502.9 503.9h1.6v1.6h-1.6zM1316.0 324.8h1.6v1.6h-1.6zM1504.1 505.0h1.6v1.6h-1.6zM1317.2 290.6h1.6v1.6h-1.6zM1539.8 503.9h1.6v1.6h-1.6zM1316.6 122.0h1.6v1.6h-1.6zM1715.9 504.4h1.6v1.6h-1.6zM1315.8 122.3h1.2v1.2h-1.2zM1715.5 505.3h1.2v1.2h-1.2zM1322.6 203.8h1.6v1.6h-1.6zM1630.4 498.7h1.6v1.6h-1.6zM1329.0 347.7h1.2v1.2h-1.2zM1480.2 492.6h1.2v1.2h-1.2zM1329.5 313.0h1.2v1.2h-1.2zM1516.4 492.1h1.2v1.2h-1.2zM1329.5 313.3h1.6v1.6h-1.6zM1516.2 492.1h1.6v1.6h-1.6zM1328.2 251.2h1.6v1.6h-1.6zM1580.9 493.3h1.6v1.6h-1.6zM1327.8 243.6h1.6v1.6h-1.6zM1588.8 493.7h1.6v1.6h-1.6zM1336.2 442.9h1.6v1.6h-1.6zM1380.9 485.6h1.6v1.6h-1.6zM1336.0 312.3h1.2v1.2h-1.2zM1517.2 485.8h1.2v1.2h-1.2zM1335.4 122.4h1.2v1.2h-1.2zM1715.4 486.4h1.2v1.2h-1.2zM1349.2 278.5h1.2v1.2h-1.2zM1552.5 473.2h1.2v1.2h-1.2zM1349.1 252.3h1.6v1.6h-1.6zM1579.8 473.3h1.6v1.6h-1.6zM1349.9 121.2h1.2v1.2h-1.2zM1716.6 472.6h1.2v1.2h-1.2zM1361.4 167.7h1.6v1.6h-1.6zM1668.1 461.5h1.6v1.6h-1.6zM1368.4 204.9h1.6v1.6h-1.6zM1629.3 454.8h1.6v1.6h-1.6zM1368.3 178.2h1.2v1.2h-1.2zM1657.2 454.9h1.2v1.2h-1.2zM1367.6 177.3h1.6v1.6h-1.6zM1658.0 455.6h1.6v1.6h-1.6zM1368.6 143.8h1.2v1.2h-1.2zM1693.1 454.6h1.2v1.2h-1.2zM1571.3 230.0h1.2v1.2h-1.2zM1603.1 260.4h1.2v1.2h-1.2zM1449.8 533.4h1.2v1.2h-1.2zM1286.4 376.9h1.2v1.2h-1.2zM1575.6 310.9h1.2v1.2h-1.2zM1518.6 256.3h1.2v1.2h-1.2zM1616.1 217.3h1.2v1.2h-1.2zM1616.4 217.5h1.2v1.2h-1.2zM1321.4 455.3h1.2v1.2h-1.2zM1367.9 499.8h1.2v1.2h-1.2zM1302.9 196.6h1.2v1.2h-1.2zM1637.9 517.6h1.2v1.2h-1.2zM1314.0 512.7h1.2v1.2h-1.2zM1307.9 506.9h1.2v1.2h-1.2zM1608.9 306.3h1.2v1.2h-1.2zM1523.4 224.4h1.2v1.2h-1.2zM1292.9 255.8h1.2v1.2h-1.2zM1576.1 527.2h1.2v1.2h-1.2zM1589.8 341.7h1.2v1.2h-1.2zM1486.5 242.8h1.2v1.2h-1.2zM1292.8 251.4h1.2v1.2h-1.2zM1580.7 527.3h1.2v1.2h-1.2zM1457.1 297.9h1.2v1.2h-1.2zM1532.2 369.8h1.2v1.2h-1.2zM1719.6 196.9h1.2v1.2h-1.2zM1637.6 118.3h1.2v1.2h-1.2zM1662.5 487.9h1.2v1.2h-1.2zM1333.8 173.0h1.2v1.2h-1.2zM1419.3 326.4h1.2v1.2h-1.2zM1502.5 406.1h1.2v1.2h-1.2zM1270.7 122.4h1.2v1.2h-1.2zM1715.4 548.4h1.2v1.2h-1.2zM1392.3 437.3h1.2v1.2h-1.2zM1386.7 431.9h1.2v1.2h-1.2zM1409.7 440.4h1.2v1.2h-1.2zM1383.4 415.3h1.2v1.2h-1.2zM1656.6 310.1h1.2v1.2h-1.2zM1519.5 178.7h1.2v1.2h-1.2zM1499.2 368.8h1.2v1.2h-1.2zM1458.1 329.5h1.2v1.2h-1.2zM1291.1 419.0h1.2v1.2h-1.2zM1405.8 528.8h1.2v1.2h-1.2zM1660.2 203.3h1.2v1.2h-1.2zM1630.9 175.3h1.2v1.2h-1.2zM1655.6 439.6h1.2v1.2h-1.2zM1384.3 179.6h1.2v1.2h-1.2zM1359.4 528.4h1.2v1.2h-1.2zM1291.6 463.4h1.2v1.2h-1.2zM1510.9 389.0h1.2v1.2h-1.2zM1437.1 318.3h1.2v1.2h-1.2zM1478.1 339.0h1.2v1.2h-1.2zM1489.3 349.8h1.2v1.2h-1.2zM1532.2 392.5h1.2v1.2h-1.2zM1433.5 297.9h1.2v1.2h-1.2zM1630.7 464.2h1.2v1.2h-1.2zM1358.6 203.6h1.2v1.2h-1.2zM1684.0 309.9h1.2v1.2h-1.2zM1519.6 152.4h1.2v1.2h-1.2zM1291.2 414.8h1.2v1.2h-1.2zM1410.2 528.8h1.2v1.2h-1.2zM1509.2 373.7h1.2v1.2h-1.2zM1453.0 319.9h1.2v1.2h-1.2zM1523.6 410.7h1.2v1.2h-1.2zM1414.4 306.1h1.2v1.2h-1.2zM1391.8 205.9h1.2v1.2h-1.2zM1628.2 432.4h1.2v1.2h-1.2zM1399.9 243.0h1.2v1.2h-1.2zM1589.5 424.6h1.2v1.2h-1.2zM1631.1 294.3h1.2v1.2h-1.2zM1535.9 203.1h1.2v1.2h-1.2zM1473.7 145.7h1.2v1.2h-1.2zM1691.0 353.9h1.2v1.2h-1.2zM1469.3 170.4h1.2v1.2h-1.2zM1665.3 358.1h1.2v1.2h-1.2zM1294.1 363.0h1.2v1.2h-1.2zM1464.3 526.0h1.2v1.2h-1.2zM1557.3 529.8h1.2v1.2h-1.2zM1290.2 273.9h1.2v1.2h-1.2zM1658.3 519.8h1.2v1.2h-1.2zM1300.5 177.0h1.2v1.2h-1.2zM1537.8 472.9h1.2v1.2h-1.2zM1349.5 292.5h1.2v1.2h-1.2zM1685.4 307.8h1.2v1.2h-1.2zM1521.9 151.1h1.2v1.2h-1.2zM1630.3 335.0h1.2v1.2h-1.2zM1493.4 203.9h1.2v1.2h-1.2zM1572.9 258.4h1.2v1.2h-1.2zM1573.4 258.9h1.2v1.2h-1.2zM1401.4 459.5h1.2v1.2h-1.2zM1363.5 423.2h1.2v1.2h-1.2zM1647.3 487.8h1.2v1.2h-1.2zM1334.0 187.6h1.2v1.2h-1.2zM1683.3 461.3h1.2v1.2h-1.2zM1361.6 153.1h1.2v1.2h-1.2zM1313.6 509.7h1.2v1.2h-1.2zM1311.1 507.3h1.2v1.2h-1.2zM1622.9 138.8h1.2v1.2h-1.2zM1698.3 211.0h1.2v1.2h-1.2zM1455.6 265.4h1.2v1.2h-1.2zM1566.1 371.2h1.2v1.2h-1.2zM1384.6 158.3h1.2v1.2h-1.2zM1677.9 439.3h1.2v1.2h-1.2zM1578.4 483.9h1.2v1.2h-1.2zM1338.1 253.7h1.2v1.2h-1.2zM1293.6 249.4h1.2v1.2h-1.2zM1582.8 526.4h1.2v1.2h-1.2zM1286.9 188.5h1.2v1.2h-1.2zM1646.3 532.9h1.2v1.2h-1.2zM1400.9 450.1h1.2v1.2h-1.2zM1373.3 423.7h1.2v1.2h-1.2zM1531.4 412.8h1.2v1.2h-1.2zM1412.2 298.7h1.2v1.2h-1.2zM1521.7 484.2h1.2v1.2h-1.2zM1337.7 308.0h1.2v1.2h-1.2zM1680.6 410.4h1.2v1.2h-1.2zM1414.8 155.7h1.2v1.2h-1.2zM1648.7 485.2h1.2v1.2h-1.2zM1336.7 186.3h1.2v1.2h-1.2zM1629.7 126.1h1.2v1.2h-1.2zM1711.5 204.5h1.2v1.2h-1.2zM1445.2 536.7h1.2v1.2h-1.2zM1282.9 381.3h1.2v1.2h-1.2zM1439.9 273.2h1.2v1.2h-1.2zM1558.0 386.3h1.2v1.2h-1.2zM1369.1 314.4h1.2v1.2h-1.2zM1514.9 454.2h1.2v1.2h-1.2zM1310.3 349.7h1.2v1.2h-1.2zM1478.2 510.4h1.2v1.2h-1.2zM1597.5 364.7h1.2v1.2h-1.2zM1462.5 235.3h1.2v1.2h-1.2zM1575.2 501.4h1.2v1.2h-1.2zM1319.8 256.7h1.2v1.2h-1.2zM1642.9 498.1h1.2v1.2h-1.2zM1323.3 191.8h1.2v1.2h-1.2zM1685.8 119.2h1.2v1.2h-1.2zM1718.7 150.7h1.2v1.2h-1.2zM1693.1 322.8h1.2v1.2h-1.2zM1506.2 143.8h1.2v1.2h-1.2zM1399.6 400.2h1.2v1.2h-1.2zM1425.4 425.0h1.2v1.2h-1.2zM1607.5 335.7h1.2v1.2h-1.2zM1492.7 225.7h1.2v1.2h-1.2zM1688.7 510.7h1.2v1.2h-1.2zM1310.1 147.9h1.2v1.2h-1.2zM1487.3 176.5h1.2v1.2h-1.2zM1659.0 340.9h1.2v1.2h-1.2zM1538.5 316.6h1.2v1.2h-1.2zM1512.7 291.9h1.2v1.2h-1.2zM1308.0 490.4h1.2v1.2h-1.2zM1331.2 512.7h1.2v1.2h-1.2zM1390.7 163.9h1.2v1.2h-1.2zM1672.1 433.4h1.2v1.2h-1.2zM1650.5 452.5h1.2v1.2h-1.2zM1370.8 184.5h1.2v1.2h-1.2zM1686.4 537.0h1.2v1.2h-1.2zM1282.7 150.2h1.2v1.2h-1.2zM1539.0 131.7h1.2v1.2h-1.2zM1705.7 291.4h1.2v1.2h-1.2zM1423.8 141.6h1.2v1.2h-1.2zM1695.3 401.7h1.2v1.2h-1.2zM1565.1 529.3h1.2v1.2h-1.2zM1290.7 266.4h1.2v1.2h-1.2zM1418.7 356.1h1.2v1.2h-1.2zM1471.5 406.6h1.2v1.2h-1.2zM1379.9 229.2h1.2v1.2h-1.2zM1603.9 443.8h1.2v1.2h-1.2zM1348.9 209.5h1.2v1.2h-1.2zM1624.4 473.5h1.2v1.2h-1.2zM1403.0 520.9h1.2v1.2h-1.2zM1299.4 421.7h1.2v1.2h-1.2zM1521.0 509.5h1.2v1.2h-1.2zM1311.3 308.6h1.2v1.2h-1.2zM1517.6 209.4h1.2v1.2h-1.2zM1624.6 311.9h1.2v1.2h-1.2zM1537.5 351.0h1.2v1.2h-1.2zM1476.8 292.8h1.2v1.2h-1.2zM1283.3 328.5h1.2v1.2h-1.2zM1500.3 536.4h1.2v1.2h-1.2zM1312.0 270.6h1.2v1.2h-1.2zM1560.7 508.9h1.2v1.2h-1.2zM1327.7 300.4h1.2v1.2h-1.2zM1529.5 493.8h1.2v1.2h-1.2zM1427.7 388.6h1.2v1.2h-1.2zM1437.6 398.0h1.2v1.2h-1.2zM1568.1 480.0h1.2v1.2h-1.2zM1342.2 263.5h1.2v1.2h-1.2zM1344.8 142.8h1.2v1.2h-1.2zM1694.0 477.4h1.2v1.2h-1.2zM1418.1 185.9h1.2v1.2h-1.2zM1649.1 407.2h1.2v1.2h-1.2zM1663.2 342.8h1.2v1.2h-1.2zM1485.3 172.4h1.2v1.2h-1.2zM1335.4 510.2h1.2v1.2h-1.2zM1310.5 486.4h1.2v1.2h-1.2zM1665.8 500.2h1.2v1.2h-1.2zM1321.0 169.9h1.2v1.2h-1.2zM1492.5 318.6h1.2v1.2h-1.2zM1510.5 335.9h1.2v1.2h-1.2zM1321.2 348.2h1.2v1.2h-1.2zM1479.7 500.0h1.2v1.2h-1.2zM1342.2 318.9h1.2v1.2h-1.2zM1510.3 479.9h1.2v1.2h-1.2zM1497.3 391.9h1.2v1.2h-1.2zM1434.0 331.3h1.2v1.2h-1.2zM1357.5 376.0h1.2v1.2h-1.2zM1450.7 465.3h1.2v1.2h-1.2zM1360.1 495.9h1.2v1.2h-1.2zM1325.5 462.8h1.2v1.2h-1.2zM1376.5 173.2h1.2v1.2h-1.2zM1662.4 447.0h1.2v1.2h-1.2zM1495.1 164.9h1.2v1.2h-1.2zM1671.0 333.5h1.2v1.2h-1.2zM1274.8 142.1h1.2v1.2h-1.2zM1694.8 544.4h1.2v1.2h-1.2zM1489.0 208.1h1.2v1.2h-1.2zM1625.9 339.3h1.2v1.2h-1.2zM1526.1 252.3h1.2v1.2h-1.2zM1579.8 303.7h1.2v1.2h-1.2zM1371.7 225.9h1.2v1.2h-1.2zM1607.4 451.6h1.2v1.2h-1.2zM1337.5 436.5h1.2v1.2h-1.2zM1387.5 484.4h1.2v1.2h-1.2zM1282.0 380.5h1.2v1.2h-1.2zM1446.0 537.6h1.2v1.2h-1.2zM1502.4 424.4h1.2v1.2h-1.2zM1400.1 326.4h1.2v1.2h-1.2zM1671.0 514.4h1.2v1.2h-1.2zM1306.2 165.0h1.2v1.2h-1.2zM1529.8 449.6h1.2v1.2h-1.2zM1373.8 300.2h1.2v1.2h-1.2zM1537.4 211.1h1.2v1.2h-1.2zM1622.8 292.9h1.2v1.2h-1.2zM1589.6 524.1h1.2v1.2h-1.2zM1296.1 242.9h1.2v1.2h-1.2zM1379.2 291.3h1.2v1.2h-1.2zM1539.1 444.5h1.2v1.2h-1.2zM1712.8 533.1h1.2v1.2h-1.2zM1286.7 124.9h1.2v1.2h-1.2zM1547.8 251.1h1.2v1.2h-1.2zM1581.1 283.0h1.2v1.2h-1.2z"/>
<path fill="#ec5a48" fill-opacity="0.55" d="M1273.0 529.9h1.2v1.2h-1.2zM1290.0 546.3h1.2v1.2h-1.2zM1271.8 528.0h1.2v1.2h-1.2zM1292.0 547.3h1.2v1.2h-1.2zM1272.4 512.1h1.6v1.6h-1.6zM1308.6 546.8h1.6v1.6h-1.6zM1272.9 472.0h1.6v1.6h-1.6zM1350.5 546.3h1.6v1.6h-1.6zM1280.1 512.5h1.6v1.6h-1.6zM1308.2 539.4h1.6v1.6h-1.6zM1276.9 509.3h1.2v1.2h-1.2zM1311.5 542.5h1.2v1.2h-1.2zM1279.0 503.3h1.2v1.2h-1.2zM1317.8 540.4h1.2v1.2h-1.2zM1279.5 497.3h1.6v1.6h-1.6zM1324.0 540.0h1.6v1.6h-1.6zM1277.4 498.1h1.2v1.2h-1.2zM1323.2 542.0h1.2v1.2h-1.2zM1279.0 493.0h1.2v1.2h-1.2zM1328.6 540.5h1.2v1.2h-1.2zM1278.1 491.1h1.2v1.2h-1.2zM1330.6 541.3h1.2v1.2h-1.2zM1278.0 492.9h1.6v1.6h-1.6zM1328.7 541.5h1.6v1.6h-1.6zM1291.2 528.0h1.6v1.6h-1.6zM1292.0 528.7h1.6v1.6h-1.6zM1292.2 527.1h1.2v1.2h-1.2zM1292.9 527.8h1.2v1.2h-1.2zM1292.1 500.2h1.2v1.2h-1.2zM1321.1 528.0h1.2v1.2h-1.2zM1292.4 498.6h1.6v1.6h-1.6zM1322.7 527.6h1.6v1.6h-1.6zM1289.7 491.6h1.6v1.6h-1.6zM1330.0 530.2h1.6v1.6h-1.6zM1292.3 492.9h1.2v1.2h-1.2zM1328.7 527.7h1.2v1.2h-1.2zM1291.0 486.2h1.2v1.2h-1.2zM1335.7 528.9h1.2v1.2h-1.2zM1292.7 472.4h1.2v1.2h-1.2zM1350.0 527.3h1.2v1.2h-1.2zM1292.8 472.1h1.2v1.2h-1.2zM1350.4 527.3h1.2v1.2h-1.2zM1291.9 455.4h1.6v1.6h-1.6zM1367.8 528.1h1.6v1.6h-1.6zM1292.4 512.4h1.2v1.2h-1.2zM1308.3 527.6h1.2v1.2h-1.2zM1292.9 487.0h1.6v1.6h-1.6zM1334.9 527.2h1.6v1.6h-1.6zM1291.9 472.6h1.6v1.6h-1.6zM1349.9 528.1h1.6v1.6h-1.6zM1292.7 463.1h1.2v1.2h-1.2zM1359.8 527.4h1.2v1.2h-1.2zM1294.3 454.7h1.6v1.6h-1.6zM1368.6 525.8h1.6v1.6h-1.6zM1294.9 456.3h1.6v1.6h-1.6zM1366.8 525.3h1.6v1.6h-1.6zM1311.4 499.8h1.6v1.6h-1.6zM1321.5 509.4h1.6v1.6h-1.6zM1309.3 492.3h1.6v1.6h-1.6zM1329.2 511.5h1.6v1.6h-1.6zM1309.5 484.4h1.2v1.2h-1.2zM1337.5 511.3h1.2v1.2h-1.2zM1307.9 474.4h1.2v1.2h-1.2zM1348.0 512.8h1.2v1.2h-1.2zM1315.1 499.6h1.6v1.6h-1.6zM1321.6 505.9h1.6v1.6h-1.6zM1318.0 491.6h1.2v1.2h-1.2zM1330.0 503.1h1.2v1.2h-1.2zM1317.8 494.4h1.6v1.6h-1.6zM1327.1 503.3h1.6v1.6h-1.6zM1316.4 463.0h1.2v1.2h-1.2zM1359.9 504.6h1.2v1.2h-1.2zM1318.4 461.8h1.6v1.6h-1.6zM1361.1 502.7h1.6v1.6h-1.6zM1322.2 494.4h1.6v1.6h-1.6zM1327.0 499.1h1.6v1.6h-1.6zM1324.4 461.3h1.6v1.6h-1.6zM1361.6 497.0h1.6v1.6h-1.6zM1323.2 454.7h1.6v1.6h-1.6zM1368.5 498.1h1.6v1.6h-1.6zM1321.4 455.5h1.6v1.6h-1.6zM1367.7 499.8h1.6v1.6h-1.6zM1320.9 453.2h1.6v1.6h-1.6zM1370.0 500.3h1.6v1.6h-1.6zM1322.9 455.3h1.6v1.6h-1.6zM1367.9 498.4h1.6v1.6h-1.6zM1329.7 487.1h1.2v1.2h-1.2zM1334.7 491.9h1.2v1.2h-1.2zM1327.1 487.8h1.2v1.2h-1.2zM1334.0 494.4h1.2v1.2h-1.2zM1329.5 473.9h1.6v1.6h-1.6zM1348.5 492.1h1.6v1.6h-1.6zM1329.7 462.3h1.2v1.2h-1.2zM1360.6 491.8h1.2v1.2h-1.2zM1328.9 460.9h1.2v1.2h-1.2zM1362.1 492.7h1.2v1.2h-1.2zM1329.9 463.0h1.2v1.2h-1.2zM1359.9 491.7h1.2v1.2h-1.2zM1330.4 453.7h1.6v1.6h-1.6zM1369.5 491.2h1.6v1.6h-1.6zM1334.5 460.6h1.2v1.2h-1.2zM1362.4 487.3h1.2v1.2h-1.2zM1335.3 460.3h1.6v1.6h-1.6zM1362.6 486.6h1.6v1.6h-1.6zM1335.9 454.2h1.6v1.6h-1.6zM1369.0 485.9h1.6v1.6h-1.6zM1337.9 456.0h1.2v1.2h-1.2zM1367.2 484.1h1.2v1.2h-1.2zM1360.3 454.5h1.6v1.6h-1.6zM1368.7 462.6h1.6v1.6h-1.6z"/>
<path fill="#ec5a48" fill-opacity="0.25" d="M1272.0 539.0h1.2v1.2h-1.2zM1280.5 547.2h1.2v1.2h-1.2zM1269.9 530.1h1.6v1.6h-1.6zM1289.9 549.2h1.6v1.6h-1.6zM1272.1 526.7h1.6v1.6h-1.6zM1293.4 547.0h1.6v1.6h-1.6zM1270.1 527.0h1.2v1.2h-1.2zM1293.0 549.0h1.2v1.2h-1.2zM1272.0 525.7h1.6v1.6h-1.6zM1294.4 547.2h1.6v1.6h-1.6zM1270.1 504.9h1.6v1.6h-1.6zM1316.1 549.0h1.6v1.6h-1.6zM1271.6 484.8h1.2v1.2h-1.2zM1337.1 547.5h1.2v1.2h-1.2zM1273.4 486.1h1.2v1.2h-1.2zM1335.8 545.8h1.2v1.2h-1.2zM1272.5 484.5h1.6v1.6h-1.6zM1337.5 546.7h1.6v1.6h-1.6zM1269.9 473.6h1.6v1.6h-1.6zM1348.8 549.2h1.6v1.6h-1.6zM1272.4 462.2h1.2v1.2h-1.2zM1360.7 546.8h1.2v1.2h-1.2zM1269.9 463.1h1.2v1.2h-1.2zM1359.8 549.2h1.2v1.2h-1.2zM1271.8 454.3h1.6v1.6h-1.6zM1368.9 547.4h1.6v1.6h-1.6zM1271.2 456.3h1.6v1.6h-1.6zM1366.8 547.9h1.6v1.6h-1.6zM1270.9 395.0h1.6v1.6h-1.6zM1430.9 548.2h1.6v1.6h-1.6zM1271.1 230.7h1.2v1.2h-1.2zM1602.3 548.0h1.2v1.2h-1.2zM1272.4 143.0h1.2v1.2h-1.2zM1693.9 546.8h1.2v1.2h-1.2zM1279.8 527.6h1.2v1.2h-1.2zM1292.4 539.7h1.2v1.2h-1.2zM1280.6 512.5h1.2v1.2h-1.2zM1308.2 538.9h1.2v1.2h-1.2zM1279.9 512.5h1.2v1.2h-1.2zM1308.2 539.6h1.2v1.2h-1.2zM1280.0 498.1h1.2v1.2h-1.2zM1323.2 539.5h1.2v1.2h-1.2zM1277.1 494.1h1.2v1.2h-1.2zM1327.4 542.3h1.2v1.2h-1.2zM1277.1 474.4h1.2v1.2h-1.2zM1347.9 542.3h1.2v1.2h-1.2zM1280.5 463.0h1.6v1.6h-1.6zM1359.8 539.0h1.6v1.6h-1.6zM1280.4 456.1h1.2v1.2h-1.2zM1367.1 539.1h1.2v1.2h-1.2zM1279.7 360.9h1.6v1.6h-1.6zM1466.4 539.8h1.6v1.6h-1.6zM1278.4 313.4h1.2v1.2h-1.2zM1516.0 541.0h1.2v1.2h-1.2zM1279.7 156.8h1.2v1.2h-1.2zM1679.5 539.8h1.2v1.2h-1.2zM1291.0 511.8h1.6v1.6h-1.6zM1308.9 529.0h1.6v1.6h-1.6zM1289.8 487.8h1.6v1.6h-1.6zM1334.0 530.1h1.6v1.6h-1.6zM1292.6 454.3h1.2v1.2h-1.2zM1368.9 527.4h1.2v1.2h-1.2zM1292.1 383.3h1.6v1.6h-1.6zM1443.1 527.9h1.6v1.6h-1.6zM1291.9 300.0h1.6v1.6h-1.6zM1530.0 528.1h1.6v1.6h-1.6zM1292.3 290.6h1.6v1.6h-1.6zM1539.8 527.7h1.6v1.6h-1.6zM1290.7 230.4h1.2v1.2h-1.2zM1602.7 529.2h1.2v1.2h-1.2zM1292.3 229.8h1.2v1.2h-1.2zM1603.3 527.7h1.2v1.2h-1.2zM1291.8 217.8h1.6v1.6h-1.6zM1615.8 528.2h1.6v1.6h-1.6zM1291.5 217.7h1.6v1.6h-1.6zM1615.9 528.4h1.6v1.6h-1.6zM1291.4 121.4h1.6v1.6h-1.6zM1716.4 528.5h1.6v1.6h-1.6zM1294.4 511.9h1.6v1.6h-1.6zM1308.8 525.7h1.6v1.6h-1.6zM1292.3 499.7h1.2v1.2h-1.2zM1321.5 527.7h1.2v1.2h-1.2zM1293.1 493.4h1.2v1.2h-1.2zM1328.1 527.0h1.2v1.2h-1.2zM1294.1 486.5h1.2v1.2h-1.2zM1335.3 526.0h1.2v1.2h-1.2zM1295.2 471.9h1.2v1.2h-1.2zM1350.5 524.9h1.2v1.2h-1.2zM1292.1 453.7h1.2v1.2h-1.2zM1369.6 527.9h1.2v1.2h-1.2zM1292.7 453.1h1.6v1.6h-1.6zM1370.2 527.3h1.6v1.6h-1.6zM1294.2 360.3h1.2v1.2h-1.2zM1467.1 525.9h1.2v1.2h-1.2zM1293.0 326.4h1.2v1.2h-1.2zM1502.4 527.1h1.2v1.2h-1.2zM1293.0 326.3h1.6v1.6h-1.6zM1502.5 527.1h1.6v1.6h-1.6zM1293.1 243.9h1.2v1.2h-1.2zM1588.5 527.0h1.2v1.2h-1.2zM1293.0 156.2h1.2v1.2h-1.2zM1680.1 527.0h1.2v1.2h-1.2zM1293.9 156.6h1.6v1.6h-1.6zM1679.7 526.2h1.6v1.6h-1.6zM1307.8 506.4h1.2v1.2h-1.2zM1314.5 512.9h1.2v1.2h-1.2zM1311.3 498.0h1.2v1.2h-1.2zM1323.3 509.5h1.2v1.2h-1.2zM1310.8 496.9h1.6v1.6h-1.6zM1324.4 510.0h1.6v1.6h-1.6zM1307.9 494.1h1.2v1.2h-1.2zM1327.4 512.8h1.2v1.2h-1.2zM1309.8 494.2h1.6v1.6h-1.6zM1327.3 510.9h1.6v1.6h-1.6zM1311.6 493.8h1.2v1.2h-1.2zM1327.7 509.2h1.2v1.2h-1.2zM1308.0 492.9h1.6v1.6h-1.6zM1328.6 512.7h1.6v1.6h-1.6zM1310.6 487.1h1.2v1.2h-1.2zM1334.6 510.2h1.2v1.2h-1.2zM1310.3 459.8h1.2v1.2h-1.2zM1363.2 510.5h1.2v1.2h-1.2zM1308.5 456.5h1.2v1.2h-1.2zM1366.6 512.2h1.2v1.2h-1.2zM1310.2 336.3h1.2v1.2h-1.2zM1492.1 510.6h1.2v1.2h-1.2zM1309.0 325.2h1.6v1.6h-1.6zM1503.7 511.7h1.6v1.6h-1.6zM1310.2 265.1h1.6v1.6h-1.6zM1566.5 510.6h1.6v1.6h-1.6zM1309.4 190.8h1.2v1.2h-1.2zM1644.0 511.3h1.2v1.2h-1.2zM1314.9 493.9h1.2v1.2h-1.2zM1327.6 506.1h1.2v1.2h-1.2zM1316.2 434.7h1.6v1.6h-1.6zM1389.4 504.8h1.6v1.6h-1.6zM1316.9 346.5h1.2v1.2h-1.2zM1481.5 504.1h1.2v1.2h-1.2zM1316.8 217.4h1.6v1.6h-1.6zM1616.2 504.2h1.6v1.6h-1.6zM1316.6 217.4h1.2v1.2h-1.2zM1616.2 504.5h1.2v1.2h-1.2zM1321.6 492.6h1.2v1.2h-1.2zM1329.0 499.6h1.2v1.2h-1.2zM1322.2 491.6h1.2v1.2h-1.2zM1330.0 499.1h1.2v1.2h-1.2zM1324.5 460.8h1.2v1.2h-1.2zM1362.2 496.8h1.2v1.2h-1.2zM1321.5 463.0h1.2v1.2h-1.2zM1359.8 499.8h1.2v1.2h-1.2zM1323.2 461.1h1.2v1.2h-1.2zM1361.9 498.1h1.2v1.2h-1.2zM1324.4 456.4h1.6v1.6h-1.6zM1366.7 496.9h1.6v1.6h-1.6zM1322.3 442.4h1.2v1.2h-1.2zM1381.4 499.0h1.2v1.2h-1.2zM1322.0 360.2h1.2v1.2h-1.2zM1467.1 499.3h1.2v1.2h-1.2zM1323.2 325.9h1.6v1.6h-1.6zM1503.0 498.1h1.6v1.6h-1.6zM1321.9 157.2h1.2v1.2h-1.2zM1679.1 499.4h1.2v1.2h-1.2zM1330.4 487.5h1.2v1.2h-1.2zM1334.3 491.2h1.2v1.2h-1.2zM1329.2 486.1h1.2v1.2h-1.2zM1335.8 492.4h1.2v1.2h-1.2zM1326.7 474.4h1.6v1.6h-1.6zM1348.0 494.8h1.6v1.6h-1.6zM1327.4 460.7h1.2v1.2h-1.2zM1362.3 494.1h1.2v1.2h-1.2zM1327.7 453.0h1.6v1.6h-1.6zM1370.3 493.8h1.6v1.6h-1.6zM1330.4 455.8h1.2v1.2h-1.2zM1367.4 491.2h1.2v1.2h-1.2zM1328.3 434.1h1.2v1.2h-1.2zM1390.0 493.3h1.2v1.2h-1.2zM1328.4 384.4h1.2v1.2h-1.2zM1441.9 493.2h1.2v1.2h-1.2zM1329.0 243.2h1.6v1.6h-1.6zM1589.3 492.6h1.6v1.6h-1.6zM1329.0 156.3h1.6v1.6h-1.6zM1680.0 492.6h1.6v1.6h-1.6zM1335.4 473.4h1.2v1.2h-1.2zM1349.0 486.4h1.2v1.2h-1.2zM1335.2 453.8h1.6v1.6h-1.6zM1369.4 486.6h1.6v1.6h-1.6zM1336.7 433.9h1.2v1.2h-1.2zM1390.2 485.2h1.2v1.2h-1.2zM1336.4 421.6h1.6v1.6h-1.6zM1403.1 485.4h1.6v1.6h-1.6zM1336.2 335.6h1.2v1.2h-1.2zM1492.9 485.6h1.2v1.2h-1.2zM1335.0 336.0h1.6v1.6h-1.6zM1492.4 486.8h1.6v1.6h-1.6zM1336.6 326.2h1.6v1.6h-1.6zM1502.7 485.3h1.6v1.6h-1.6zM1336.0 290.3h1.2v1.2h-1.2zM1540.1 485.8h1.2v1.2h-1.2zM1336.5 143.6h1.2v1.2h-1.2zM1693.3 485.4h1.2v1.2h-1.2zM1348.5 462.0h1.2v1.2h-1.2zM1360.9 473.9h1.2v1.2h-1.2zM1349.6 461.2h1.2v1.2h-1.2zM1361.8 472.9h1.2v1.2h-1.2zM1349.4 461.0h1.6v1.6h-1.6zM1362.0 473.0h1.6v1.6h-1.6zM1349.0 461.8h1.2v1.2h-1.2zM1361.2 473.4h1.2v1.2h-1.2zM1349.9 433.7h1.2v1.2h-1.2zM1390.5 472.6h1.2v1.2h-1.2zM1348.9 278.6h1.2v1.2h-1.2zM1552.4 473.5h1.2v1.2h-1.2zM1349.2 177.3h1.2v1.2h-1.2zM1658.0 473.2h1.2v1.2h-1.2zM1360.8 384.0h1.6v1.6h-1.6zM1442.3 462.1h1.6v1.6h-1.6zM1360.3 337.3h1.2v1.2h-1.2zM1491.1 462.5h1.2v1.2h-1.2zM1362.0 325.0h1.2v1.2h-1.2zM1503.9 460.9h1.2v1.2h-1.2zM1361.0 264.6h1.6v1.6h-1.6zM1566.9 461.9h1.6v1.6h-1.6zM1369.0 383.5h1.2v1.2h-1.2zM1442.9 454.2h1.2v1.2h-1.2zM1368.8 230.3h1.2v1.2h-1.2zM1602.8 454.5h1.2v1.2h-1.2zM1368.3 121.1h1.2v1.2h-1.2zM1716.8 454.9h1.2v1.2h-1.2zM1369.1 122.1h1.2v1.2h-1.2zM1715.7 454.2h1.2v1.2h-1.2z"/>
<path fill="#ec5a48" fill-opacity="0.4" d="M1271.2 542.4h1.2v1.2h-1.2zM1277.0 547.9h1.2v1.2h-1.2zM1273.6 530.2h1.2v1.2h-1.2zM1289.7 545.7h1.2v1.2h-1.2zM1270.4 525.6h1.6v1.6h-1.6zM1294.5 548.7h1.6v1.6h-1.6zM1271.5 524.6h1.6v1.6h-1.6zM1295.5 547.7h1.6v1.6h-1.6zM1271.6 511.7h1.6v1.6h-1.6zM1309.0 547.6h1.6v1.6h-1.6zM1272.7 492.6h1.6v1.6h-1.6zM1328.9 546.5h1.6v1.6h-1.6zM1272.6 486.7h1.6v1.6h-1.6zM1335.1 546.6h1.6v1.6h-1.6zM1273.4 486.5h1.2v1.2h-1.2zM1335.3 545.8h1.2v1.2h-1.2zM1270.1 474.4h1.6v1.6h-1.6zM1348.0 549.0h1.6v1.6h-1.6zM1271.6 461.4h1.6v1.6h-1.6zM1361.6 547.6h1.6v1.6h-1.6zM1272.4 454.7h1.2v1.2h-1.2zM1368.5 546.8h1.2v1.2h-1.2zM1273.2 453.7h1.6v1.6h-1.6zM1369.6 546.0h1.6v1.6h-1.6zM1272.1 372.8h1.6v1.6h-1.6zM1454.0 547.1h1.6v1.6h-1.6zM1272.1 251.9h1.2v1.2h-1.2zM1580.2 547.0h1.2v1.2h-1.2zM1280.1 526.6h1.6v1.6h-1.6zM1293.5 539.4h1.6v1.6h-1.6zM1278.0 505.6h1.6v1.6h-1.6zM1315.4 541.4h1.6v1.6h-1.6zM1277.4 499.9h1.2v1.2h-1.2zM1321.3 542.0h1.2v1.2h-1.2zM1278.9 492.7h1.2v1.2h-1.2zM1328.9 540.6h1.2v1.2h-1.2zM1280.6 471.9h1.2v1.2h-1.2zM1350.6 538.9h1.2v1.2h-1.2zM1277.4 474.9h1.6v1.6h-1.6zM1347.5 542.0h1.6v1.6h-1.6zM1280.8 455.9h1.2v1.2h-1.2zM1367.3 538.8h1.2v1.2h-1.2zM1278.0 384.0h1.6v1.6h-1.6zM1442.3 541.4h1.6v1.6h-1.6zM1278.0 384.4h1.6v1.6h-1.6zM1441.9 541.4h1.6v1.6h-1.6zM1278.4 347.9h1.6v1.6h-1.6zM1480.0 541.0h1.6v1.6h-1.6zM1278.9 325.6h1.6v1.6h-1.6zM1503.3 540.5h1.6v1.6h-1.6zM1278.3 278.2h1.6v1.6h-1.6zM1552.7 541.1h1.6v1.6h-1.6zM1290.7 526.4h1.2v1.2h-1.2zM1293.6 529.3h1.2v1.2h-1.2zM1289.6 509.6h1.2v1.2h-1.2zM1311.2 530.3h1.2v1.2h-1.2zM1290.2 511.8h1.2v1.2h-1.2zM1309.0 529.7h1.2v1.2h-1.2zM1290.5 503.5h1.2v1.2h-1.2zM1317.5 529.4h1.2v1.2h-1.2zM1292.8 506.0h1.2v1.2h-1.2zM1315.0 527.2h1.2v1.2h-1.2zM1293.1 497.4h1.6v1.6h-1.6zM1323.9 526.9h1.6v1.6h-1.6zM1292.3 473.4h1.2v1.2h-1.2zM1349.0 527.8h1.2v1.2h-1.2zM1291.6 472.4h1.6v1.6h-1.6zM1350.0 528.4h1.6v1.6h-1.6zM1292.6 474.5h1.6v1.6h-1.6zM1347.9 527.5h1.6v1.6h-1.6zM1291.8 456.7h1.2v1.2h-1.2zM1366.5 528.2h1.2v1.2h-1.2zM1291.9 442.3h1.6v1.6h-1.6zM1381.4 528.1h1.6v1.6h-1.6zM1292.3 243.7h1.2v1.2h-1.2zM1588.7 527.7h1.2v1.2h-1.2zM1292.9 512.1h1.6v1.6h-1.6zM1308.6 527.1h1.6v1.6h-1.6zM1293.6 499.2h1.6v1.6h-1.6zM1322.1 526.5h1.6v1.6h-1.6zM1293.3 485.0h1.2v1.2h-1.2zM1336.9 526.7h1.2v1.2h-1.2zM1292.9 485.0h1.6v1.6h-1.6zM1336.9 527.2h1.6v1.6h-1.6zM1293.8 475.1h1.6v1.6h-1.6zM1347.3 526.3h1.6v1.6h-1.6zM1293.3 433.8h1.2v1.2h-1.2zM1390.4 526.8h1.2v1.2h-1.2zM1293.4 434.0h1.6v1.6h-1.6zM1390.1 526.6h1.6v1.6h-1.6zM1293.9 408.8h1.6v1.6h-1.6zM1416.5 526.2h1.6v1.6h-1.6zM1294.6 373.7h1.2v1.2h-1.2zM1453.0 525.6h1.2v1.2h-1.2zM1293.8 335.7h1.2v1.2h-1.2zM1492.7 526.3h1.2v1.2h-1.2zM1308.6 503.7h1.6v1.6h-1.6zM1317.4 512.1h1.6v1.6h-1.6zM1308.7 502.8h1.2v1.2h-1.2zM1318.3 512.0h1.2v1.2h-1.2zM1310.6 503.9h1.6v1.6h-1.6zM1317.2 510.2h1.6v1.6h-1.6zM1311.0 500.1h1.6v1.6h-1.6zM1321.2 509.8h1.6v1.6h-1.6zM1310.7 498.1h1.6v1.6h-1.6zM1323.2 510.1h1.6v1.6h-1.6zM1309.8 484.9h1.2v1.2h-1.2zM1337.0 511.0h1.2v1.2h-1.2zM1308.8 485.7h1.6v1.6h-1.6zM1336.1 511.9h1.6v1.6h-1.6zM1308.7 471.8h1.2v1.2h-1.2zM1350.7 512.0h1.2v1.2h-1.2zM1311.0 453.1h1.2v1.2h-1.2zM1370.1 509.8h1.2v1.2h-1.2zM1309.9 326.2h1.2v1.2h-1.2zM1502.7 510.8h1.2v1.2h-1.2zM1309.5 291.7h1.6v1.6h-1.6zM1538.6 511.3h1.6v1.6h-1.6zM1310.5 178.2h1.2v1.2h-1.2zM1657.1 510.3h1.2v1.2h-1.2zM1316.9 498.1h1.2v1.2h-1.2zM1323.2 504.1h1.2v1.2h-1.2zM1316.8 462.0h1.6v1.6h-1.6zM1360.9 504.3h1.6v1.6h-1.6zM1316.9 407.9h1.2v1.2h-1.2zM1417.3 504.1h1.2v1.2h-1.2zM1316.0 346.7h1.2v1.2h-1.2zM1481.2 505.0h1.2v1.2h-1.2zM1315.6 291.5h1.2v1.2h-1.2zM1538.9 505.4h1.2v1.2h-1.2zM1316.7 265.1h1.6v1.6h-1.6zM1566.4 504.4h1.6v1.6h-1.6zM1316.0 204.2h1.6v1.6h-1.6zM1630.0 505.0h1.6v1.6h-1.6zM1320.8 491.7h1.2v1.2h-1.2zM1329.9 500.4h1.2v1.2h-1.2zM1321.1 492.4h1.6v1.6h-1.6zM1329.2 500.1h1.6v1.6h-1.6zM1324.4 463.5h1.2v1.2h-1.2zM1359.4 497.0h1.2v1.2h-1.2zM1322.3 394.8h1.6v1.6h-1.6zM1431.0 499.0h1.6v1.6h-1.6zM1323.1 121.6h1.2v1.2h-1.2zM1716.2 498.2h1.2v1.2h-1.2zM1329.8 485.4h1.6v1.6h-1.6zM1336.5 491.8h1.6v1.6h-1.6zM1328.7 472.0h1.2v1.2h-1.2zM1350.4 492.9h1.2v1.2h-1.2zM1328.0 463.3h1.2v1.2h-1.2zM1359.6 493.5h1.2v1.2h-1.2zM1328.9 456.3h1.6v1.6h-1.6zM1366.8 492.7h1.6v1.6h-1.6zM1327.0 453.1h1.2v1.2h-1.2zM1370.2 494.5h1.2v1.2h-1.2zM1328.3 347.0h1.2v1.2h-1.2zM1480.9 493.2h1.2v1.2h-1.2zM1329.1 335.9h1.2v1.2h-1.2zM1492.6 492.5h1.2v1.2h-1.2zM1328.0 336.9h1.6v1.6h-1.6zM1491.5 493.5h1.6v1.6h-1.6zM1329.3 144.0h1.6v1.6h-1.6zM1692.9 492.2h1.6v1.6h-1.6zM1328.6 122.7h1.6v1.6h-1.6zM1715.1 492.9h1.6v1.6h-1.6zM1329.0 121.1h1.2v1.2h-1.2zM1716.8 492.6h1.2v1.2h-1.2zM1337.8 455.3h1.2v1.2h-1.2zM1367.9 484.1h1.2v1.2h-1.2zM1335.1 443.4h1.6v1.6h-1.6zM1380.4 486.7h1.6v1.6h-1.6zM1335.8 434.5h1.2v1.2h-1.2zM1389.6 486.0h1.2v1.2h-1.2zM1335.5 325.6h1.2v1.2h-1.2zM1503.3 486.3h1.2v1.2h-1.2zM1336.4 313.2h1.6v1.6h-1.6zM1516.2 485.5h1.6v1.6h-1.6zM1335.3 278.1h1.2v1.2h-1.2zM1552.9 486.5h1.2v1.2h-1.2zM1335.9 177.8h1.6v1.6h-1.6zM1657.6 485.9h1.6v1.6h-1.6zM1336.5 121.9h1.6v1.6h-1.6zM1715.9 485.4h1.6v1.6h-1.6zM1349.5 455.4h1.6v1.6h-1.6zM1367.8 472.9h1.6v1.6h-1.6zM1348.9 454.7h1.2v1.2h-1.2zM1368.6 473.5h1.2v1.2h-1.2zM1348.7 455.1h1.2v1.2h-1.2zM1368.1 473.7h1.2v1.2h-1.2zM1348.2 453.5h1.6v1.6h-1.6zM1369.8 474.2h1.6v1.6h-1.6zM1348.4 433.6h1.2v1.2h-1.2zM1390.6 473.9h1.2v1.2h-1.2zM1348.8 407.9h1.6v1.6h-1.6zM1417.4 473.6h1.6v1.6h-1.6zM1348.4 372.5h1.2v1.2h-1.2zM1454.3 473.9h1.2v1.2h-1.2zM1348.9 252.2h1.6v1.6h-1.6zM1579.9 473.5h1.6v1.6h-1.6zM1349.6 216.7h1.6v1.6h-1.6zM1616.9 472.8h1.6v1.6h-1.6zM1349.5 178.1h1.2v1.2h-1.2zM1657.2 472.9h1.2v1.2h-1.2zM1361.4 190.9h1.6v1.6h-1.6zM1643.8 461.5h1.6v1.6h-1.6zM1368.1 434.4h1.2v1.2h-1.2zM1389.8 455.1h1.2v1.2h-1.2zM1368.0 204.1h1.6v1.6h-1.6zM1630.1 455.2h1.6v1.6h-1.6zM1367.9 191.7h1.2v1.2h-1.2zM1643.0 455.3h1.2v1.2h-1.2zM1367.6 142.7h1.6v1.6h-1.6zM1694.2 455.6h1.6v1.6h-1.6z"/>
<line x1="1268.0" y1="551.0" x2="1374.8" y2="448.7" stroke="#ea5a4a" stroke-width="1.2"/>
<line x1="1374.8" y1="448.7" x2="1720.5" y2="117.5" stroke="#f29c8c" stroke-width="1.1"/>
<rect x="1271.0" y="541.5" width="7.0" height="6.7" fill="#e4262f" fill-opacity="1.0"/>
<rect x="1330.4" y="485.1" width="6.3" height="6.1" fill="#ec7a6c" fill-opacity="0.8"/>
<line x1="1374.5" y1="119" x2="1374.5" y2="556" stroke="#2a2a2c" stroke-width="1.9" stroke-dasharray="8.5,5.5"/>
<line x1="1266.7" y1="448.7" x2="1759.7" y2="448.7" stroke="#2a2a2c" stroke-width="1.9" stroke-dasharray="9.5,5"/>
<rect x="1727.50" y="117.00" width="13.20" height="28.30" fill="#55350e" />
<rect x="1727.50" y="145.00" width="13.20" height="27.90" fill="#6a4215" />
<rect x="1727.50" y="172.60" width="13.20" height="26.20" fill="#7b4c1e" />
<rect x="1727.50" y="198.50" width="13.20" height="22.60" fill="#8f5b25" />
<rect x="1727.50" y="220.80" width="13.20" height="21.20" fill="#a56e2c" />
<rect x="1727.50" y="241.70" width="13.20" height="19.80" fill="#be8639" />
<rect x="1727.50" y="261.20" width="13.20" height="18.00" fill="#c99e5e" />
<rect x="1727.50" y="278.90" width="13.20" height="14.50" fill="#d6b877" />
<rect x="1727.50" y="293.10" width="13.20" height="14.50" fill="#e2c992" />
<rect x="1727.50" y="307.30" width="13.20" height="14.50" fill="#efe0ae" />
<rect x="1727.50" y="321.50" width="13.20" height="15.50" fill="#f1e6cb" />
<rect x="1727.50" y="336.70" width="13.20" height="18.00" fill="#f3f1e6" />
<rect x="1727.50" y="354.40" width="13.20" height="13.40" fill="#e3ebe8" />
<rect x="1727.50" y="367.50" width="13.20" height="11.00" fill="#c9e2de" />
<rect x="1727.50" y="378.20" width="13.20" height="9.10" fill="#acd7d1" />
<rect x="1727.50" y="387.00" width="13.20" height="7.40" fill="#8cc6bd" />
<rect x="1727.50" y="394.10" width="13.20" height="9.20" fill="#6fb8aa" />
<rect x="1727.50" y="403.00" width="13.20" height="8.10" fill="#4da89b" />
<rect x="1727.50" y="410.80" width="13.20" height="8.40" fill="#2e968b" />
<rect x="1727.50" y="418.90" width="13.20" height="6.70" fill="#1b8279" />
<rect x="1727.50" y="425.30" width="13.20" height="7.00" fill="#106f69" />
<rect x="1727.50" y="432.00" width="13.20" height="7.40" fill="#0b5d56" />
<rect x="1727.50" y="439.10" width="13.20" height="4.20" fill="#064c45" />
<rect x="1727.50" y="443.00" width="13.20" height="3.90" fill="#033d34" />
<rect x="1727.50" y="451.90" width="13.20" height="4.90" fill="#55350e" />
<rect x="1727.50" y="456.50" width="13.20" height="5.30" fill="#6a4215" />
<rect x="1727.50" y="461.50" width="13.20" height="4.80" fill="#7b4c1e" />
<rect x="1727.50" y="466.00" width="13.20" height="4.80" fill="#8f5b25" />
<rect x="1727.50" y="470.50" width="13.20" height="4.80" fill="#a56e2c" />
<rect x="1727.50" y="475.00" width="13.20" height="4.80" fill="#be8639" />
<rect x="1727.50" y="479.50" width="13.20" height="4.30" fill="#c99e5e" />
<rect x="1727.50" y="483.50" width="13.20" height="4.30" fill="#d6b877" />
<rect x="1727.50" y="487.50" width="13.20" height="4.30" fill="#e2c992" />
<rect x="1727.50" y="491.50" width="13.20" height="4.30" fill="#efe0ae" />
<rect x="1727.50" y="495.50" width="13.20" height="3.80" fill="#f1e6cb" />
<rect x="1727.50" y="499.00" width="13.20" height="3.30" fill="#f3f1e6" />
<rect x="1727.50" y="502.00" width="13.20" height="3.30" fill="#e3ebe8" />
<rect x="1727.50" y="505.00" width="13.20" height="4.30" fill="#c9e2de" />
<rect x="1727.50" y="509.00" width="13.20" height="4.30" fill="#acd7d1" />
<rect x="1727.50" y="513.00" width="13.20" height="4.30" fill="#8cc6bd" />
<rect x="1727.50" y="517.00" width="13.20" height="4.30" fill="#6fb8aa" />
<rect x="1727.50" y="521.00" width="13.20" height="4.30" fill="#4da89b" />
<rect x="1727.50" y="525.00" width="13.20" height="4.30" fill="#2e968b" />
<rect x="1727.50" y="529.00" width="13.20" height="5.30" fill="#1b8279" />
<rect x="1727.50" y="534.00" width="13.20" height="5.30" fill="#106f69" />
<rect x="1727.50" y="539.00" width="13.20" height="4.80" fill="#0b5d56" />
<rect x="1727.50" y="543.50" width="13.20" height="3.80" fill="#064c45" />
<rect x="1727.50" y="547.00" width="13.20" height="4.80" fill="#033d34" />
<text x="1750.5" y="127.2" text-anchor="start" font-size="25.5" fill="#231f20" >1</text>
<text x="1750.5" y="438.7" text-anchor="start" font-size="25.5" fill="#231f20" >Y</text>
<text x="1750.5" y="471" text-anchor="start" font-size="25.5" fill="#231f20" >1</text>
<text x="1750.5" y="550" text-anchor="start" font-size="25.5" fill="#231f20" >Y</text>
<polygon points="1250.5,564.4 1384,564.4 1739.3,673 1218.4,673" fill="url(#gGy)"/>
<rect x="1218.40" y="673.00" width="520.90" height="16.60" fill="#b1b2b6" />
<rect x="1199.00" y="696.40" width="16.80" height="506.40" fill="#b1b2b6" />
<path fill="#ec5a48" fill-opacity="0.45" d="M1330.2 1035.7h1.2v1.2h-1.2zM1397.6 1102.2h1.2v1.2h-1.2zM1328.9 1013.5h1.2v1.2h-1.2zM1420.2 1103.5h1.2v1.2h-1.2zM1326.3 1013.0h1.2v1.2h-1.2zM1420.6 1106.0h1.2v1.2h-1.2zM1330.7 1012.0h1.6v1.6h-1.6zM1421.7 1101.7h1.6v1.6h-1.6zM1324.4 987.6h1.6v1.6h-1.6zM1446.4 1107.9h1.6v1.6h-1.6zM1325.8 964.9h1.2v1.2h-1.2zM1469.4 1106.5h1.2v1.2h-1.2zM1327.8 954.8h1.6v1.6h-1.6zM1479.6 1104.6h1.6v1.6h-1.6zM1330.2 882.9h1.2v1.2h-1.2zM1552.6 1102.2h1.2v1.2h-1.2zM1331.2 872.1h1.6v1.6h-1.6zM1563.5 1101.3h1.6v1.6h-1.6zM1325.2 746.6h1.6v1.6h-1.6zM1690.7 1107.1h1.6v1.6h-1.6zM1326.9 747.0h1.2v1.2h-1.2zM1690.3 1105.4h1.2v1.2h-1.2zM1339.8 1181.4h1.6v1.6h-1.6zM1249.9 1092.7h1.6v1.6h-1.6zM1345.1 1103.1h1.6v1.6h-1.6zM1329.3 1087.5h1.6v1.6h-1.6zM1340.6 1089.3h1.2v1.2h-1.2zM1343.3 1092.0h1.2v1.2h-1.2zM1340.5 1015.0h1.6v1.6h-1.6zM1418.6 1092.1h1.6v1.6h-1.6zM1346.6 1012.2h1.2v1.2h-1.2zM1421.4 1086.0h1.2v1.2h-1.2zM1348.5 1013.3h1.2v1.2h-1.2zM1420.4 1084.1h1.2v1.2h-1.2zM1339.0 1012.6h1.2v1.2h-1.2zM1421.0 1093.5h1.2v1.2h-1.2zM1348.2 955.1h1.6v1.6h-1.6zM1479.3 1084.5h1.6v1.6h-1.6zM1345.5 883.4h1.6v1.6h-1.6zM1552.0 1087.1h1.6v1.6h-1.6zM1345.2 884.9h1.2v1.2h-1.2zM1550.5 1087.4h1.2v1.2h-1.2zM1341.4 841.2h1.6v1.6h-1.6zM1594.8 1091.2h1.6v1.6h-1.6zM1339.1 746.6h1.2v1.2h-1.2zM1690.8 1093.4h1.2v1.2h-1.2zM1340.1 706.9h1.2v1.2h-1.2zM1731.0 1092.5h1.2v1.2h-1.2zM1461.1 1088.4h1.2v1.2h-1.2zM1344.2 973.1h1.2v1.2h-1.2zM1458.8 1011.3h1.6v1.6h-1.6zM1422.3 975.4h1.6v1.6h-1.6zM1458.4 1013.1h1.6v1.6h-1.6zM1420.5 975.7h1.6v1.6h-1.6zM1452.9 1011.5h1.6v1.6h-1.6zM1422.2 981.2h1.6v1.6h-1.6zM1459.0 987.8h1.2v1.2h-1.2zM1446.2 975.1h1.2v1.2h-1.2zM1454.2 985.1h1.6v1.6h-1.6zM1449.0 979.9h1.6v1.6h-1.6zM1456.1 885.1h1.6v1.6h-1.6zM1550.3 978.1h1.6v1.6h-1.6zM1456.6 841.1h1.6v1.6h-1.6zM1594.9 977.5h1.6v1.6h-1.6zM1454.5 745.7h1.2v1.2h-1.2zM1691.6 979.6h1.2v1.2h-1.2zM1459.1 706.9h1.6v1.6h-1.6zM1731.0 975.1h1.6v1.6h-1.6zM1470.5 1078.3h1.2v1.2h-1.2zM1354.4 963.8h1.2v1.2h-1.2zM1466.9 855.4h1.6v1.6h-1.6zM1580.4 967.4h1.6v1.6h-1.6zM1471.7 856.3h1.6v1.6h-1.6zM1579.5 962.7h1.6v1.6h-1.6zM1470.2 823.0h1.6v1.6h-1.6zM1613.3 964.1h1.6v1.6h-1.6zM1475.8 755.8h1.2v1.2h-1.2zM1681.4 958.6h1.2v1.2h-1.2zM1472.2 756.7h1.2v1.2h-1.2zM1680.5 962.2h1.2v1.2h-1.2zM1471.5 757.2h1.2v1.2h-1.2zM1680.0 962.8h1.2v1.2h-1.2zM1470.0 745.1h1.6v1.6h-1.6zM1692.3 964.3h1.6v1.6h-1.6zM1470.9 720.2h1.2v1.2h-1.2zM1717.5 963.5h1.2v1.2h-1.2zM1479.7 1168.0h1.6v1.6h-1.6zM1263.5 954.8h1.6v1.6h-1.6zM1487.9 1141.4h1.2v1.2h-1.2zM1290.4 946.7h1.2v1.2h-1.2zM1487.7 1113.0h1.6v1.6h-1.6zM1319.2 946.8h1.6v1.6h-1.6zM1488.5 1101.0h1.2v1.2h-1.2zM1331.4 946.1h1.2v1.2h-1.2zM1479.6 1090.6h1.6v1.6h-1.6zM1342.0 954.8h1.6v1.6h-1.6zM1486.0 1077.4h1.6v1.6h-1.6zM1355.3 948.5h1.6v1.6h-1.6zM1488.3 1013.2h1.2v1.2h-1.2zM1420.4 946.3h1.2v1.2h-1.2zM1488.2 1011.0h1.6v1.6h-1.6zM1422.7 946.4h1.6v1.6h-1.6zM1487.5 964.1h1.6v1.6h-1.6zM1470.2 947.0h1.6v1.6h-1.6zM1486.8 931.1h1.2v1.2h-1.2zM1503.7 947.8h1.2v1.2h-1.2zM1486.6 930.9h1.2v1.2h-1.2zM1503.9 947.9h1.2v1.2h-1.2zM1484.0 872.4h1.6v1.6h-1.6zM1563.2 950.5h1.6v1.6h-1.6zM1486.3 870.7h1.2v1.2h-1.2zM1564.9 948.2h1.2v1.2h-1.2zM1479.1 772.8h1.6v1.6h-1.6zM1664.2 955.4h1.6v1.6h-1.6zM1483.4 746.2h1.6v1.6h-1.6zM1691.2 951.1h1.6v1.6h-1.6zM1480.9 709.3h1.2v1.2h-1.2zM1728.6 953.5h1.2v1.2h-1.2z"/>
<path fill="#ec5a48" fill-opacity="0.2" d="M1325.8 1202.1h1.2v1.2h-1.2zM1228.9 1106.5h1.2v1.2h-1.2zM1326.7 1013.6h1.2v1.2h-1.2zM1420.0 1105.6h1.2v1.2h-1.2zM1327.2 987.3h1.2v1.2h-1.2zM1446.7 1105.1h1.2v1.2h-1.2zM1325.8 819.4h1.2v1.2h-1.2zM1617.0 1106.5h1.2v1.2h-1.2zM1332.3 773.1h1.6v1.6h-1.6zM1663.9 1100.1h1.6v1.6h-1.6zM1342.4 1182.6h1.6v1.6h-1.6zM1248.7 1090.2h1.6v1.6h-1.6zM1344.9 1053.9h1.2v1.2h-1.2zM1379.2 1087.7h1.2v1.2h-1.2zM1343.0 1015.4h1.6v1.6h-1.6zM1418.2 1089.6h1.6v1.6h-1.6zM1347.4 931.8h1.2v1.2h-1.2zM1503.0 1085.2h1.2v1.2h-1.2zM1345.2 932.8h1.2v1.2h-1.2zM1501.9 1087.4h1.2v1.2h-1.2zM1347.4 910.3h1.6v1.6h-1.6zM1524.8 1085.3h1.6v1.6h-1.6zM1342.4 842.6h1.6v1.6h-1.6zM1593.5 1090.2h1.6v1.6h-1.6zM1345.3 720.7h1.6v1.6h-1.6zM1717.0 1087.3h1.6v1.6h-1.6zM1453.8 1181.4h1.6v1.6h-1.6zM1249.9 980.3h1.6v1.6h-1.6zM1455.3 1184.0h1.2v1.2h-1.2zM1247.3 978.8h1.2v1.2h-1.2zM1461.1 1112.1h1.2v1.2h-1.2zM1320.2 973.1h1.2v1.2h-1.2zM1454.3 1088.3h1.6v1.6h-1.6zM1344.3 979.8h1.6v1.6h-1.6zM1455.1 1079.3h1.6v1.6h-1.6zM1353.5 979.0h1.6v1.6h-1.6zM1452.5 1078.2h1.2v1.2h-1.2zM1354.5 981.6h1.2v1.2h-1.2zM1457.0 1054.2h1.6v1.6h-1.6zM1378.9 977.2h1.6v1.6h-1.6zM1455.7 1055.6h1.2v1.2h-1.2zM1377.5 978.5h1.2v1.2h-1.2zM1453.8 960.2h1.2v1.2h-1.2zM1474.2 980.3h1.2v1.2h-1.2zM1456.7 909.3h1.6v1.6h-1.6zM1525.8 977.5h1.6v1.6h-1.6zM1457.2 909.4h1.6v1.6h-1.6zM1525.7 977.0h1.6v1.6h-1.6zM1457.7 885.2h1.2v1.2h-1.2zM1550.2 976.4h1.2v1.2h-1.2zM1457.6 885.3h1.2v1.2h-1.2zM1550.1 976.6h1.2v1.2h-1.2zM1453.2 871.6h1.2v1.2h-1.2zM1564.0 980.8h1.2v1.2h-1.2zM1460.1 855.2h1.6v1.6h-1.6zM1580.6 974.1h1.6v1.6h-1.6zM1460.1 819.7h1.6v1.6h-1.6zM1616.6 974.1h1.6v1.6h-1.6zM1457.2 747.2h1.6v1.6h-1.6zM1690.2 976.9h1.6v1.6h-1.6zM1457.7 732.6h1.6v1.6h-1.6zM1705.0 976.5h1.6v1.6h-1.6zM1455.8 709.1h1.6v1.6h-1.6zM1728.8 978.4h1.6v1.6h-1.6zM1475.6 1166.4h1.2v1.2h-1.2zM1265.1 958.8h1.2v1.2h-1.2zM1467.1 1168.1h1.6v1.6h-1.6zM1263.4 967.1h1.6v1.6h-1.6zM1469.0 1143.8h1.2v1.2h-1.2zM1288.0 965.3h1.2v1.2h-1.2zM1470.2 1113.1h1.2v1.2h-1.2zM1319.1 964.2h1.2v1.2h-1.2zM1470.3 1037.1h1.6v1.6h-1.6zM1396.2 964.0h1.6v1.6h-1.6zM1476.1 1036.7h1.2v1.2h-1.2zM1396.6 958.3h1.2v1.2h-1.2zM1467.9 1013.0h1.6v1.6h-1.6zM1420.7 966.4h1.6v1.6h-1.6zM1470.8 909.0h1.6v1.6h-1.6zM1526.1 963.5h1.6v1.6h-1.6zM1474.4 842.4h1.2v1.2h-1.2zM1593.6 960.0h1.2v1.2h-1.2zM1474.7 823.6h1.6v1.6h-1.6zM1612.7 959.7h1.6v1.6h-1.6zM1467.8 745.9h1.6v1.6h-1.6zM1691.5 966.5h1.6v1.6h-1.6zM1483.8 1143.7h1.6v1.6h-1.6zM1288.1 950.7h1.6v1.6h-1.6zM1488.5 1113.5h1.2v1.2h-1.2zM1318.7 946.0h1.2v1.2h-1.2zM1488.3 1077.6h1.6v1.6h-1.6zM1355.1 946.3h1.6v1.6h-1.6zM1487.9 964.8h1.2v1.2h-1.2zM1469.5 946.6h1.2v1.2h-1.2zM1482.4 965.5h1.6v1.6h-1.6zM1468.8 952.1h1.6v1.6h-1.6zM1485.8 958.1h1.6v1.6h-1.6zM1476.3 948.7h1.6v1.6h-1.6zM1485.4 953.9h1.2v1.2h-1.2zM1480.6 949.2h1.2v1.2h-1.2zM1478.4 954.3h1.2v1.2h-1.2zM1480.1 956.0h1.2v1.2h-1.2zM1479.3 756.8h1.6v1.6h-1.6zM1680.4 955.1h1.6v1.6h-1.6z"/>
<path fill="#ec5a48" fill-opacity="0.3" d="M1328.5 1088.5h1.2v1.2h-1.2zM1344.1 1103.9h1.2v1.2h-1.2zM1335.0 1088.0h1.2v1.2h-1.2zM1344.6 1097.5h1.2v1.2h-1.2zM1334.5 1090.6h1.2v1.2h-1.2zM1342.0 1097.9h1.2v1.2h-1.2zM1332.1 1093.9h1.2v1.2h-1.2zM1338.6 1100.3h1.2v1.2h-1.2zM1331.3 974.9h1.2v1.2h-1.2zM1459.3 1101.1h1.2v1.2h-1.2zM1333.0 978.6h1.2v1.2h-1.2zM1455.5 1099.4h1.2v1.2h-1.2zM1326.2 978.9h1.2v1.2h-1.2zM1455.3 1106.1h1.2v1.2h-1.2zM1329.4 982.9h1.2v1.2h-1.2zM1451.2 1103.0h1.2v1.2h-1.2zM1330.9 966.8h1.2v1.2h-1.2zM1467.5 1101.5h1.2v1.2h-1.2zM1326.7 958.1h1.2v1.2h-1.2zM1476.3 1105.7h1.2v1.2h-1.2zM1334.3 965.6h1.2v1.2h-1.2zM1468.7 1098.2h1.2v1.2h-1.2zM1325.0 967.2h1.2v1.2h-1.2zM1467.1 1107.3h1.2v1.2h-1.2zM1332.6 948.1h1.2v1.2h-1.2zM1486.4 1099.9h1.2v1.2h-1.2zM1326.1 951.1h1.2v1.2h-1.2zM1483.4 1106.3h1.2v1.2h-1.2zM1331.4 956.7h1.2v1.2h-1.2zM1477.7 1101.0h1.2v1.2h-1.2zM1332.9 946.7h1.2v1.2h-1.2zM1487.9 1099.6h1.2v1.2h-1.2zM1346.3 1101.0h1.2v1.2h-1.2zM1331.4 1086.4h1.2v1.2h-1.2zM1341.8 1098.8h1.2v1.2h-1.2zM1333.6 1090.8h1.2v1.2h-1.2zM1340.3 1103.7h1.2v1.2h-1.2zM1328.7 1092.2h1.2v1.2h-1.2zM1341.5 1104.1h1.2v1.2h-1.2zM1328.3 1091.1h1.2v1.2h-1.2zM1344.6 975.8h1.2v1.2h-1.2zM1458.3 1088.0h1.2v1.2h-1.2zM1349.7 980.5h1.2v1.2h-1.2zM1453.6 1082.9h1.2v1.2h-1.2zM1340.4 975.7h1.2v1.2h-1.2zM1458.5 1092.2h1.2v1.2h-1.2zM1339.5 971.5h1.2v1.2h-1.2zM1462.7 1093.0h1.2v1.2h-1.2zM1343.0 963.4h1.2v1.2h-1.2zM1470.9 1089.5h1.2v1.2h-1.2zM1347.8 957.6h1.2v1.2h-1.2zM1476.9 1084.9h1.2v1.2h-1.2zM1345.9 966.5h1.2v1.2h-1.2zM1467.8 1086.7h1.2v1.2h-1.2zM1342.0 960.1h1.2v1.2h-1.2zM1474.3 1090.6h1.2v1.2h-1.2zM1348.5 946.5h1.2v1.2h-1.2zM1488.1 1084.2h1.2v1.2h-1.2zM1340.4 952.6h1.2v1.2h-1.2zM1481.8 1092.1h1.2v1.2h-1.2zM1340.4 948.4h1.2v1.2h-1.2zM1486.2 1092.1h1.2v1.2h-1.2zM1338.2 948.6h1.2v1.2h-1.2zM1485.9 1094.3h1.2v1.2h-1.2zM1461.2 1102.9h1.2v1.2h-1.2zM1329.5 973.0h1.2v1.2h-1.2zM1458.0 1108.3h1.2v1.2h-1.2zM1324.0 976.1h1.2v1.2h-1.2zM1451.4 1105.2h1.2v1.2h-1.2zM1327.2 982.7h1.2v1.2h-1.2zM1462.9 1102.2h1.2v1.2h-1.2zM1330.2 971.3h1.2v1.2h-1.2zM1451.6 1093.6h1.2v1.2h-1.2zM1338.9 982.4h1.2v1.2h-1.2zM1451.1 1086.4h1.2v1.2h-1.2zM1346.2 982.9h1.2v1.2h-1.2zM1453.0 1091.6h1.2v1.2h-1.2zM1341.0 981.1h1.2v1.2h-1.2zM1459.0 1086.5h1.2v1.2h-1.2zM1346.2 975.1h1.2v1.2h-1.2zM1456.6 965.1h1.2v1.2h-1.2zM1469.2 977.5h1.2v1.2h-1.2zM1457.7 964.3h1.2v1.2h-1.2zM1470.0 976.4h1.2v1.2h-1.2zM1455.3 965.6h1.2v1.2h-1.2zM1468.7 978.8h1.2v1.2h-1.2zM1454.4 965.5h1.2v1.2h-1.2zM1468.9 979.7h1.2v1.2h-1.2zM1454.7 949.9h1.2v1.2h-1.2zM1484.6 979.4h1.2v1.2h-1.2zM1454.2 955.7h1.2v1.2h-1.2zM1478.8 979.9h1.2v1.2h-1.2zM1461.2 951.4h1.2v1.2h-1.2zM1483.1 973.0h1.2v1.2h-1.2zM1457.1 953.3h1.2v1.2h-1.2zM1481.2 977.0h1.2v1.2h-1.2zM1474.9 1101.9h1.2v1.2h-1.2zM1330.5 959.5h1.2v1.2h-1.2zM1473.7 1101.1h1.2v1.2h-1.2zM1331.3 960.6h1.2v1.2h-1.2zM1471.8 1104.5h1.2v1.2h-1.2zM1327.9 962.6h1.2v1.2h-1.2zM1470.4 1103.4h1.2v1.2h-1.2zM1329.0 963.9h1.2v1.2h-1.2zM1472.1 1088.4h1.2v1.2h-1.2zM1344.2 962.2h1.2v1.2h-1.2zM1475.3 1084.1h1.2v1.2h-1.2zM1348.6 959.1h1.2v1.2h-1.2zM1468.4 1094.6h1.2v1.2h-1.2zM1337.9 965.9h1.2v1.2h-1.2zM1469.3 1094.5h1.2v1.2h-1.2zM1338.0 965.0h1.2v1.2h-1.2zM1473.3 979.7h1.2v1.2h-1.2zM1454.4 961.1h1.2v1.2h-1.2zM1468.0 972.7h1.2v1.2h-1.2zM1461.5 966.3h1.2v1.2h-1.2zM1475.9 974.9h1.2v1.2h-1.2zM1459.2 958.5h1.2v1.2h-1.2zM1474.1 974.2h1.2v1.2h-1.2zM1460.0 960.3h1.2v1.2h-1.2zM1470.5 950.4h1.2v1.2h-1.2zM1484.2 963.8h1.2v1.2h-1.2zM1476.4 945.1h1.2v1.2h-1.2zM1489.5 958.0h1.2v1.2h-1.2zM1476.9 946.9h1.2v1.2h-1.2zM1487.6 957.5h1.2v1.2h-1.2zM1466.6 954.1h1.2v1.2h-1.2zM1480.4 967.7h1.2v1.2h-1.2zM1484.0 1103.2h1.2v1.2h-1.2zM1329.2 950.5h1.2v1.2h-1.2zM1481.2 1099.0h1.2v1.2h-1.2zM1333.4 953.3h1.2v1.2h-1.2zM1483.7 1097.5h1.2v1.2h-1.2zM1335.0 950.8h1.2v1.2h-1.2zM1478.3 1097.5h1.2v1.2h-1.2zM1335.0 956.1h1.2v1.2h-1.2zM1479.2 1090.2h1.2v1.2h-1.2zM1342.4 955.2h1.2v1.2h-1.2zM1485.2 1093.5h1.2v1.2h-1.2zM1339.0 949.3h1.2v1.2h-1.2zM1484.3 1083.5h1.2v1.2h-1.2zM1349.1 950.2h1.2v1.2h-1.2zM1482.7 1085.7h1.2v1.2h-1.2zM1347.0 951.8h1.2v1.2h-1.2zM1484.5 981.1h1.2v1.2h-1.2zM1453.0 950.0h1.2v1.2h-1.2zM1483.1 972.3h1.2v1.2h-1.2zM1461.9 951.4h1.2v1.2h-1.2zM1485.6 980.6h1.2v1.2h-1.2zM1453.5 948.9h1.2v1.2h-1.2zM1482.9 976.6h1.2v1.2h-1.2zM1457.5 951.6h1.2v1.2h-1.2zM1484.5 961.0h1.2v1.2h-1.2zM1473.4 950.1h1.2v1.2h-1.2zM1477.6 965.9h1.2v1.2h-1.2zM1468.4 956.8h1.2v1.2h-1.2zM1485.4 966.0h1.2v1.2h-1.2zM1468.3 949.1h1.2v1.2h-1.2zM1478.3 959.4h1.2v1.2h-1.2zM1475.0 956.2h1.2v1.2h-1.2zM1329.2 1201.6h1.2v1.2h-1.2zM1229.5 1103.2h1.2v1.2h-1.2zM1326.5 1014.2h1.2v1.2h-1.2zM1419.4 1105.9h1.2v1.2h-1.2zM1327.1 1013.9h1.6v1.6h-1.6zM1419.8 1105.2h1.6v1.6h-1.6zM1330.6 965.1h1.2v1.2h-1.2zM1469.2 1101.8h1.2v1.2h-1.2zM1331.6 930.7h1.2v1.2h-1.2zM1504.1 1100.8h1.2v1.2h-1.2zM1329.1 757.2h1.6v1.6h-1.6zM1680.0 1103.3h1.6v1.6h-1.6zM1324.3 756.5h1.2v1.2h-1.2zM1680.7 1108.0h1.2v1.2h-1.2zM1333.4 757.1h1.6v1.6h-1.6zM1680.1 1099.0h1.6v1.6h-1.6zM1325.0 745.8h1.6v1.6h-1.6zM1691.5 1107.4h1.6v1.6h-1.6zM1343.7 1103.6h1.2v1.2h-1.2zM1328.7 1088.9h1.2v1.2h-1.2zM1343.2 1088.2h1.2v1.2h-1.2zM1344.4 1089.3h1.2v1.2h-1.2zM1345.7 1054.2h1.6v1.6h-1.6zM1378.8 1086.9h1.6v1.6h-1.6zM1348.8 1054.2h1.2v1.2h-1.2zM1378.9 1083.9h1.2v1.2h-1.2zM1347.1 884.6h1.2v1.2h-1.2zM1550.9 1085.6h1.2v1.2h-1.2zM1341.6 870.2h1.6v1.6h-1.6zM1565.4 1091.0h1.6v1.6h-1.6zM1340.8 871.2h1.6v1.6h-1.6zM1564.4 1091.7h1.6v1.6h-1.6zM1343.3 841.3h1.6v1.6h-1.6zM1594.7 1089.3h1.6v1.6h-1.6zM1343.0 719.8h1.2v1.2h-1.2zM1717.9 1089.6h1.2v1.2h-1.2zM1346.1 721.6h1.2v1.2h-1.2zM1716.1 1086.5h1.2v1.2h-1.2zM1461.2 1113.9h1.6v1.6h-1.6zM1318.3 973.0h1.6v1.6h-1.6zM1454.0 1102.0h1.2v1.2h-1.2zM1330.4 980.1h1.2v1.2h-1.2zM1461.3 1101.0h1.2v1.2h-1.2zM1331.4 972.9h1.2v1.2h-1.2zM1455.3 1078.5h1.2v1.2h-1.2zM1354.2 978.8h1.2v1.2h-1.2zM1458.0 1036.7h1.6v1.6h-1.6zM1396.6 976.2h1.6v1.6h-1.6zM1454.3 1035.6h1.6v1.6h-1.6zM1397.8 979.8h1.6v1.6h-1.6zM1453.1 1037.8h1.6v1.6h-1.6zM1395.5 980.9h1.6v1.6h-1.6zM1456.7 987.1h1.6v1.6h-1.6zM1446.9 977.4h1.6v1.6h-1.6zM1452.2 958.6h1.6v1.6h-1.6zM1475.8 981.9h1.6v1.6h-1.6zM1461.6 870.2h1.2v1.2h-1.2zM1565.4 972.6h1.2v1.2h-1.2zM1460.2 855.2h1.2v1.2h-1.2zM1580.7 974.0h1.2v1.2h-1.2zM1461.1 819.1h1.6v1.6h-1.6zM1617.3 973.1h1.6v1.6h-1.6zM1454.0 709.2h1.2v1.2h-1.2zM1728.7 980.1h1.2v1.2h-1.2zM1473.3 1182.2h1.6v1.6h-1.6zM1249.1 961.1h1.6v1.6h-1.6zM1476.5 1184.3h1.6v1.6h-1.6zM1247.0 957.9h1.6v1.6h-1.6zM1472.3 1166.6h1.2v1.2h-1.2zM1264.9 962.1h1.2v1.2h-1.2zM1472.7 1141.6h1.6v1.6h-1.6zM1290.2 961.7h1.6v1.6h-1.6zM1475.5 965.6h1.2v1.2h-1.2zM1468.8 958.9h1.2v1.2h-1.2zM1469.6 966.2h1.6v1.6h-1.6zM1468.1 964.7h1.6v1.6h-1.6zM1469.8 884.8h1.6v1.6h-1.6zM1550.6 964.5h1.6v1.6h-1.6zM1474.9 841.1h1.2v1.2h-1.2zM1595.0 959.5h1.2v1.2h-1.2zM1472.0 825.2h1.2v1.2h-1.2zM1611.1 962.3h1.2v1.2h-1.2zM1485.3 1169.0h1.6v1.6h-1.6zM1262.5 949.3h1.6v1.6h-1.6zM1485.5 959.4h1.2v1.2h-1.2zM1474.9 949.0h1.2v1.2h-1.2zM1482.0 909.7h1.2v1.2h-1.2zM1525.3 952.5h1.2v1.2h-1.2zM1483.4 872.3h1.6v1.6h-1.6zM1563.3 951.1h1.6v1.6h-1.6zM1478.5 854.9h1.6v1.6h-1.6zM1580.9 956.0h1.6v1.6h-1.6zM1482.5 775.4h1.6v1.6h-1.6zM1661.5 952.0h1.6v1.6h-1.6zM1479.0 773.7h1.6v1.6h-1.6zM1663.2 955.4h1.6v1.6h-1.6zM1480.4 746.2h1.2v1.2h-1.2zM1691.2 954.1h1.2v1.2h-1.2zM1478.6 746.9h1.6v1.6h-1.6zM1690.5 955.9h1.6v1.6h-1.6zM1482.6 731.5h1.2v1.2h-1.2zM1706.1 951.9h1.2v1.2h-1.2z"/>
<path fill="#e5302e" fill-opacity="0.85" d="M1617.7 816.7h2v2h-2zM1540.8 892.5h2v2h-2zM1507.9 924.5h2.5v2.5h-2.5zM1627.7 805.3h3.5v3.5h-3.5zM1597.4 836.2h2.5v2.5h-2.5zM1363.0 1066.4h3.5v3.5h-3.5zM1248.2 1181.1h2v2h-2zM1459.6 972.1h2.5v2.5h-2.5zM1724.4 710.9h2.5v2.5h-2.5zM1325.6 1104.2h2.5v2.5h-2.5zM1680.1 755.1h2v2h-2zM1507.7 925.2h2v2h-2zM1363.7 1065.7h3.5v3.5h-3.5zM1540.6 892.7h2v2h-2zM1734.3 701.1h2.5v2.5h-2.5zM1518.6 912.9h3.5v3.5h-3.5zM1351.1 1078.1h3.5v3.5h-3.5zM1348.6 1080.6h3.5v3.5h-3.5zM1435.5 996.3h2v2h-2zM1589.4 844.6h2v2h-2zM1351.3 1077.9h3.5v3.5h-3.5zM1468.6 963.7h2v2h-2zM1421.7 1008.5h3.5v3.5h-3.5zM1426.2 1005.1h2.5v2.5h-2.5zM1542.7 890.6h2v2h-2zM1712.6 721.5h3.5v3.5h-3.5zM1474.4 956.5h3.5v3.5h-3.5zM1671.9 761.7h3.5v3.5h-3.5zM1287.9 1141.4h2.5v2.5h-2.5zM1237.5 1190.2h3.5v3.5h-3.5zM1486.2 945.8h2.5v2.5h-2.5zM1604.0 830.2h2v2h-2zM1358.3 1072.5h2v2h-2zM1587.9 845.6h2.5v2.5h-2.5zM1331.8 1097.1h3.5v3.5h-3.5zM1449.5 982.0h2.5v2.5h-2.5zM1448.9 983.1h2v2h-2zM1544.9 888.0h2.5v2.5h-2.5zM1671.2 762.4h3.5v3.5h-3.5zM1620.9 813.1h2.5v2.5h-2.5zM1601.1 831.5h3.5v3.5h-3.5zM1675.3 759.3h2.5v2.5h-2.5zM1562.5 869.6h3.5v3.5h-3.5zM1684.7 750.1h2.5v2.5h-2.5zM1678.9 756.3h2v2h-2zM1604.6 829.1h2.5v2.5h-2.5zM1342.9 1086.2h3.5v3.5h-3.5zM1710.6 723.5h3.5v3.5h-3.5zM1735.0 700.5h2.5v2.5h-2.5zM1448.2 982.4h3.5v3.5h-3.5zM1378.4 1051.1h3.5v3.5h-3.5zM1619.1 813.8h3.5v3.5h-3.5zM1525.5 906.1h3.5v3.5h-3.5zM1400.5 1029.4h3.5v3.5h-3.5zM1426.3 1004.9h2.5v2.5h-2.5zM1402.4 1028.5h2.5v2.5h-2.5zM1358.6 1070.7h3.5v3.5h-3.5zM1420.4 1010.7h2.5v2.5h-2.5zM1379.8 1051.3h2v2h-2zM1607.9 825.8h2.5v2.5h-2.5zM1256.7 1171.2h3.5v3.5h-3.5zM1253.3 1176.0h2v2h-2zM1653.8 780.6h2.5v2.5h-2.5zM1260.2 1167.8h3.5v3.5h-3.5zM1590.0 843.5h2.5v2.5h-2.5zM1607.0 825.7h3.5v3.5h-3.5zM1470.6 961.2h2.5v2.5h-2.5zM1585.9 846.5h3.5v3.5h-3.5zM1434.9 997.0h2v2h-2zM1730.4 705.5h2v2h-2zM1610.1 822.6h3.5v3.5h-3.5zM1391.9 1037.9h3.5v3.5h-3.5zM1486.6 946.0h2v2h-2zM1366.2 1063.2h3.5v3.5h-3.5zM1401.8 1029.1h2.5v2.5h-2.5zM1393.0 1036.8h3.5v3.5h-3.5zM1631.4 802.7h2.5v2.5h-2.5zM1565.0 868.1h2.5v2.5h-2.5zM1688.9 745.9h2.5v2.5h-2.5zM1571.8 862.0h2v2h-2z"/>
<path fill="#e8453a" fill-opacity="0.45" d="M1527.6 898.2h1.6v1.6h-1.6zM1537.0 907.5h1.6v1.6h-1.6zM1537.8 892.3h1.6v1.6h-1.6zM1543.0 897.5h1.6v1.6h-1.6zM1530.5 892.6h1.6v1.6h-1.6zM1542.7 904.6h1.6v1.6h-1.6zM1542.4 905.4h1.6v1.6h-1.6zM1529.7 892.9h1.6v1.6h-1.6zM1543.2 898.8h1.6v1.6h-1.6zM1536.4 892.1h1.6v1.6h-1.6zM1543.4 895.7h1.6v1.6h-1.6zM1539.6 891.9h1.6v1.6h-1.6zM1530.6 905.6h1.6v1.6h-1.6zM1529.5 904.6h1.6v1.6h-1.6zM1534.5 901.4h1.6v1.6h-1.6zM1533.8 900.7h1.6v1.6h-1.6zM1524.5 893.9h1.6v1.6h-1.6zM1541.4 910.5h1.6v1.6h-1.6zM1534.7 901.7h1.6v1.6h-1.6zM1533.4 900.5h1.6v1.6h-1.6zM1539.0 906.2h1.6v1.6h-1.6zM1528.9 896.3h1.6v1.6h-1.6zM1527.9 899.6h1.6v1.6h-1.6zM1535.6 907.3h1.6v1.6h-1.6zM1528.7 904.7h1.6v1.6h-1.6zM1530.5 906.4h1.6v1.6h-1.6zM1525.2 910.2h1.6v1.6h-1.6zM1524.9 909.9h1.6v1.6h-1.6zM1531.0 900.7h1.6v1.6h-1.6zM1534.5 904.1h1.6v1.6h-1.6zM1543.2 898.4h1.6v1.6h-1.6zM1536.8 892.2h1.6v1.6h-1.6zM1532.3 903.1h1.6v1.6h-1.6zM1532.1 902.9h1.6v1.6h-1.6zM1528.6 901.7h1.6v1.6h-1.6zM1533.5 906.5h1.6v1.6h-1.6zM1543.4 908.8h1.6v1.6h-1.6zM1526.3 892.0h1.6v1.6h-1.6zM1532.6 897.5h1.6v1.6h-1.6zM1537.8 902.5h1.6v1.6h-1.6zM1539.4 900.1h1.6v1.6h-1.6zM1535.1 895.9h1.6v1.6h-1.6zM1536.9 892.4h1.6v1.6h-1.6zM1542.9 898.4h1.6v1.6h-1.6zM1542.2 906.2h1.6v1.6h-1.6zM1528.9 893.1h1.6v1.6h-1.6zM1534.8 891.2h1.6v1.6h-1.6zM1544.1 900.4h1.6v1.6h-1.6zM1534.6 907.4h1.6v1.6h-1.6zM1527.7 900.6h1.6v1.6h-1.6z"/>
<path fill="#e8453a" fill-opacity="0.6" d="M1706.8 732.0h1.6v1.6h-1.6zM1705.6 730.8h1.6v1.6h-1.6zM1705.8 730.7h1.6v1.6h-1.6zM1706.9 731.8h1.6v1.6h-1.6zM1703.1 729.9h1.6v1.6h-1.6zM1707.7 734.4h1.6v1.6h-1.6zM1704.0 735.3h1.6v1.6h-1.6zM1702.2 733.5h1.6v1.6h-1.6zM1700.9 737.0h1.6v1.6h-1.6zM1700.5 736.6h1.6v1.6h-1.6zM1696.5 739.3h1.6v1.6h-1.6zM1698.2 741.0h1.6v1.6h-1.6zM1705.9 738.5h1.6v1.6h-1.6zM1699.0 731.6h1.6v1.6h-1.6zM1704.2 731.9h1.6v1.6h-1.6zM1705.7 733.4h1.6v1.6h-1.6zM1704.7 735.0h1.6v1.6h-1.6zM1702.5 732.9h1.6v1.6h-1.6zM1700.0 738.0h1.6v1.6h-1.6zM1699.5 737.4h1.6v1.6h-1.6z"/>
<path fill="#ec5a48" fill-opacity="0.4" d="M1247.0 1166.4h1v1h-1zM1265.1 1184.3h1v1h-1zM1247.3 1113.0h1.6v1.6h-1.6zM1319.2 1184.0h1.6v1.6h-1.6zM1248.7 1113.6h1v1h-1zM1318.6 1182.5h1v1h-1zM1249.9 1088.8h1.6v1.6h-1.6zM1343.7 1181.4h1.6v1.6h-1.6zM1248.0 1016.3h1.6v1.6h-1.6zM1417.3 1183.3h1.6v1.6h-1.6zM1249.0 931.5h1.3v1.3h-1.3zM1503.3 1182.3h1.3v1.3h-1.3zM1248.7 931.4h1v1h-1zM1503.3 1182.6h1v1h-1zM1247.8 908.7h1v1h-1zM1526.4 1183.5h1v1h-1zM1248.4 854.9h1v1h-1zM1580.9 1182.9h1v1h-1zM1249.7 840.3h1.3v1.3h-1.3zM1595.7 1181.6h1.3v1.3h-1.3zM1247.7 746.0h1.6v1.6h-1.6zM1691.4 1183.5h1.6v1.6h-1.6zM1247.8 731.8h1v1h-1zM1705.7 1183.5h1v1h-1zM1248.9 707.1h1v1h-1zM1730.8 1182.4h1v1h-1zM1249.1 707.3h1.6v1.6h-1.6zM1730.6 1182.2h1.6v1.6h-1.6zM1263.0 1143.1h1.6v1.6h-1.6zM1288.7 1168.5h1.6v1.6h-1.6zM1263.8 842.0h1.6v1.6h-1.6zM1594.0 1167.7h1.6v1.6h-1.6zM1263.1 757.9h1.6v1.6h-1.6zM1679.3 1168.4h1.6v1.6h-1.6zM1264.0 747.7h1v1h-1zM1689.6 1167.5h1v1h-1zM1289.0 1101.4h1.3v1.3h-1.3zM1331.0 1142.8h1.3v1.3h-1.3zM1288.4 1036.4h1.3v1.3h-1.3zM1396.9 1143.5h1.3v1.3h-1.3zM1289.0 822.4h1.6v1.6h-1.6zM1613.9 1142.8h1.6v1.6h-1.6zM1287.7 756.0h1.6v1.6h-1.6zM1681.2 1144.1h1.6v1.6h-1.6zM1318.9 1102.8h1v1h-1zM1329.6 1113.4h1v1h-1zM1320.3 1012.6h1.3v1.3h-1.3zM1421.0 1112.0h1.3v1.3h-1.3zM1318.1 957.9h1.6v1.6h-1.6zM1476.5 1114.2h1.6v1.6h-1.6zM1319.3 954.0h1v1h-1zM1480.4 1112.9h1v1h-1zM1320.0 932.1h1.3v1.3h-1.3zM1502.7 1112.2h1.3v1.3h-1.3zM1319.4 884.1h1.6v1.6h-1.6zM1551.4 1112.8h1.6v1.6h-1.6zM1320.3 885.3h1.3v1.3h-1.3zM1550.1 1111.9h1.3v1.3h-1.3zM1318.9 869.6h1.3v1.3h-1.3zM1566.0 1113.3h1.3v1.3h-1.3zM1319.8 855.7h1.3v1.3h-1.3zM1580.1 1112.5h1.3v1.3h-1.3zM1319.2 733.4h1.6v1.6h-1.6zM1704.1 1113.1h1.6v1.6h-1.6zM1330.0 1089.9h1.6v1.6h-1.6zM1342.7 1102.4h1.6v1.6h-1.6zM1330.0 1054.2h1v1h-1zM1378.9 1102.4h1v1h-1zM1328.5 1037.7h1v1h-1zM1395.6 1103.9h1v1h-1zM1330.1 1016.2h1v1h-1zM1417.4 1102.3h1v1h-1zM1329.7 987.3h1v1h-1zM1446.7 1102.7h1v1h-1zM1331.0 985.9h1.3v1.3h-1.3zM1448.1 1101.4h1.3v1.3h-1.3zM1330.3 930.8h1.3v1.3h-1.3zM1504.0 1102.1h1.3v1.3h-1.3zM1330.1 795.4h1v1h-1zM1641.3 1102.3h1v1h-1zM1328.5 756.4h1v1h-1zM1680.8 1103.8h1v1h-1zM1330.5 732.7h1.6v1.6h-1.6zM1704.8 1101.9h1.6v1.6h-1.6zM1344.5 1055.4h1v1h-1zM1377.7 1088.1h1v1h-1zM1342.3 990.1h1v1h-1zM1443.9 1090.3h1v1h-1zM1344.5 959.3h1.3v1.3h-1.3zM1475.1 1088.1h1.3v1.3h-1.3zM1344.2 840.5h1v1h-1zM1595.5 1088.4h1v1h-1zM1343.1 842.1h1.3v1.3h-1.3zM1593.9 1089.5h1.3v1.3h-1.3zM1343.7 816.7h1.3v1.3h-1.3zM1619.7 1088.9h1.3v1.3h-1.3zM1343.6 756.8h1.3v1.3h-1.3zM1680.5 1089.0h1.3v1.3h-1.3zM1343.2 755.5h1.6v1.6h-1.6zM1681.8 1089.4h1.6v1.6h-1.6zM1343.8 721.4h1v1h-1zM1716.3 1088.8h1v1h-1zM1342.9 708.2h1v1h-1zM1729.7 1089.6h1v1h-1zM1343.1 707.0h1.6v1.6h-1.6zM1731.0 1089.5h1.6v1.6h-1.6zM1355.5 966.8h1v1h-1zM1467.5 1077.3h1v1h-1zM1354.8 871.6h1v1h-1zM1564.0 1077.9h1v1h-1zM1354.0 823.3h1v1h-1zM1613.0 1078.7h1v1h-1zM1354.0 818.8h1v1h-1zM1617.5 1078.8h1v1h-1zM1354.6 818.6h1.6v1.6h-1.6zM1617.7 1078.1h1.6v1.6h-1.6zM1353.6 794.3h1.6v1.6h-1.6zM1642.4 1079.2h1.6v1.6h-1.6zM1355.5 796.5h1v1h-1zM1640.2 1077.2h1v1h-1zM1353.5 745.5h1.3v1.3h-1.3zM1691.8 1079.3h1.3v1.3h-1.3zM1354.1 721.1h1.6v1.6h-1.6zM1716.6 1078.7h1.6v1.6h-1.6zM1355.5 706.8h1.6v1.6h-1.6zM1731.1 1077.2h1.6v1.6h-1.6zM1378.8 989.3h1.3v1.3h-1.3zM1444.7 1054.3h1.3v1.3h-1.3zM1377.7 883.1h1v1h-1zM1552.4 1055.4h1v1h-1zM1378.2 755.9h1v1h-1zM1681.3 1054.9h1v1h-1zM1378.5 758.0h1.6v1.6h-1.6zM1679.2 1054.6h1.6v1.6h-1.6zM1379.4 720.4h1.3v1.3h-1.3zM1717.3 1053.7h1.3v1.3h-1.3zM1397.5 1013.8h1.6v1.6h-1.6zM1419.8 1035.8h1.6v1.6h-1.6zM1395.3 958.0h1v1h-1zM1476.5 1038.0h1v1h-1zM1395.9 930.9h1v1h-1zM1503.9 1037.4h1v1h-1zM1396.3 929.9h1v1h-1zM1504.9 1037.0h1v1h-1zM1397.2 857.0h1v1h-1zM1578.8 1036.1h1v1h-1zM1395.8 818.3h1v1h-1zM1618.1 1037.6h1v1h-1zM1396.6 794.8h1v1h-1zM1641.9 1036.7h1v1h-1zM1396.6 707.7h1.3v1.3h-1.3zM1730.2 1036.7h1.3v1.3h-1.3zM1417.3 986.8h1.6v1.6h-1.6zM1447.2 1016.3h1.6v1.6h-1.6zM1420.2 932.5h1.3v1.3h-1.3zM1502.3 1013.4h1.3v1.3h-1.3zM1419.9 932.5h1.3v1.3h-1.3zM1502.3 1013.7h1.3v1.3h-1.3zM1420.1 907.8h1.6v1.6h-1.6zM1527.3 1013.6h1.6v1.6h-1.6zM1417.9 796.0h1v1h-1zM1640.6 1015.7h1v1h-1zM1418.9 746.5h1v1h-1zM1690.8 1014.8h1v1h-1zM1418.8 732.5h1.6v1.6h-1.6zM1705.1 1014.8h1.6v1.6h-1.6zM1420.5 960.4h1v1h-1zM1473.9 1013.2h1v1h-1zM1421.1 958.9h1v1h-1zM1475.5 1012.6h1v1h-1zM1420.4 910.6h1v1h-1zM1524.4 1013.2h1v1h-1zM1421.8 910.6h1v1h-1zM1524.5 1011.9h1v1h-1zM1446.1 966.0h1.6v1.6h-1.6zM1468.3 987.9h1.6v1.6h-1.6zM1444.3 907.8h1v1h-1zM1527.3 989.6h1v1h-1zM1444.3 822.6h1.3v1.3h-1.3zM1613.7 989.7h1.3v1.3h-1.3zM1444.5 796.0h1.6v1.6h-1.6zM1640.7 989.5h1.6v1.6h-1.6zM1448.5 954.8h1.6v1.6h-1.6zM1479.7 985.6h1.6v1.6h-1.6zM1447.5 773.6h1v1h-1zM1663.4 986.5h1v1h-1zM1446.7 734.2h1.3v1.3h-1.3zM1703.3 987.3h1.3v1.3h-1.3zM1468.4 960.4h1.6v1.6h-1.6zM1474.0 965.9h1.6v1.6h-1.6zM1470.1 957.9h1.3v1.3h-1.3zM1476.5 964.3h1.3v1.3h-1.3zM1468.4 817.6h1.3v1.3h-1.3zM1618.8 965.9h1.3v1.3h-1.3zM1468.7 796.2h1.3v1.3h-1.3zM1640.4 965.6h1.3v1.3h-1.3zM1468.2 707.3h1v1h-1zM1730.6 966.1h1v1h-1zM1475.4 910.7h1.6v1.6h-1.6zM1524.3 959.0h1.6v1.6h-1.6zM1475.7 854.8h1.6v1.6h-1.6zM1581.1 958.7h1.6v1.6h-1.6zM1475.4 824.1h1.6v1.6h-1.6zM1612.2 959.0h1.6v1.6h-1.6zM1474.0 822.5h1.6v1.6h-1.6zM1613.8 960.4h1.6v1.6h-1.6zM1475.6 794.3h1v1h-1zM1642.4 958.8h1v1h-1zM1481.6 885.0h1.3v1.3h-1.3zM1550.4 952.9h1.3v1.3h-1.3zM1480.8 825.2h1.6v1.6h-1.6zM1611.1 953.7h1.6v1.6h-1.6zM1479.5 747.4h1.6v1.6h-1.6zM1689.9 955.0h1.6v1.6h-1.6zM1482.0 707.5h1.6v1.6h-1.6zM1730.4 952.5h1.6v1.6h-1.6zM1504.2 910.2h1v1h-1zM1524.9 930.6h1v1h-1zM1503.4 882.8h1.3v1.3h-1.3zM1552.7 931.4h1.3v1.3h-1.3zM1526.3 883.2h1v1h-1zM1552.2 908.8h1v1h-1zM1524.3 854.5h1.6v1.6h-1.6zM1581.3 910.7h1.6v1.6h-1.6zM1527.4 732.5h1v1h-1zM1705.0 907.7h1v1h-1zM1525.0 732.2h1.6v1.6h-1.6zM1705.3 910.0h1.6v1.6h-1.6zM1551.1 796.8h1.3v1.3h-1.3zM1639.8 884.4h1.3v1.3h-1.3zM1550.8 774.0h1.6v1.6h-1.6zM1663.0 884.6h1.6v1.6h-1.6zM1566.0 824.1h1.6v1.6h-1.6zM1612.1 869.6h1.6v1.6h-1.6zM1564.2 824.3h1.6v1.6h-1.6zM1611.9 871.4h1.6v1.6h-1.6zM1563.9 773.0h1.3v1.3h-1.3zM1663.9 871.7h1.3v1.3h-1.3zM1565.7 774.2h1.3v1.3h-1.3zM1662.7 869.9h1.3v1.3h-1.3zM1563.5 757.9h1.3v1.3h-1.3zM1679.3 872.1h1.3v1.3h-1.3zM1564.8 745.0h1.6v1.6h-1.6zM1692.4 870.9h1.6v1.6h-1.6zM1565.4 732.5h1v1h-1zM1705.1 870.3h1v1h-1zM1579.6 823.2h1.6v1.6h-1.6zM1613.1 856.2h1.6v1.6h-1.6zM1579.9 774.0h1.6v1.6h-1.6zM1663.0 855.9h1.6v1.6h-1.6zM1580.4 757.2h1.6v1.6h-1.6zM1680.0 855.5h1.6v1.6h-1.6zM1580.8 708.8h1v1h-1zM1729.1 855.0h1v1h-1zM1593.4 824.7h1.3v1.3h-1.3zM1611.6 842.7h1.3v1.3h-1.3zM1595.5 824.9h1.3v1.3h-1.3zM1611.3 840.6h1.3v1.3h-1.3zM1595.5 746.0h1.3v1.3h-1.3zM1691.3 840.5h1.3v1.3h-1.3zM1596.1 732.0h1.3v1.3h-1.3zM1705.5 840.0h1.3v1.3h-1.3zM1612.1 819.2h1.3v1.3h-1.3zM1617.1 824.2h1.3v1.3h-1.3zM1613.6 756.5h1.6v1.6h-1.6zM1680.7 822.7h1.6v1.6h-1.6zM1611.5 756.1h1.6v1.6h-1.6zM1681.1 824.8h1.6v1.6h-1.6zM1612.0 706.9h1v1h-1zM1731.0 824.3h1v1h-1zM1618.4 772.5h1.6v1.6h-1.6zM1664.5 818.0h1.6v1.6h-1.6zM1617.7 756.8h1v1h-1zM1680.4 818.6h1v1h-1zM1619.1 718.6h1.6v1.6h-1.6zM1719.1 817.3h1.6v1.6h-1.6zM1642.1 756.3h1.6v1.6h-1.6zM1680.9 794.6h1.6v1.6h-1.6zM1640.4 707.8h1.6v1.6h-1.6zM1730.1 796.3h1.6v1.6h-1.6zM1679.6 733.3h1.3v1.3h-1.3zM1704.2 757.6h1.3v1.3h-1.3zM1681.1 732.2h1v1h-1zM1705.4 756.2h1v1h-1zM1680.1 718.6h1.3v1.3h-1.3zM1719.1 757.1h1.3v1.3h-1.3zM1705.5 708.8h1.6v1.6h-1.6zM1729.0 732.1h1.6v1.6h-1.6z"/>
<path fill="#ec5a48" fill-opacity="0.15" d="M1229.0 1016.2h1v1h-1zM1417.4 1202.0h1v1h-1zM1228.0 960.5h1.6v1.6h-1.6zM1473.9 1203.0h1.6v1.6h-1.6zM1228.4 872.2h1.3v1.3h-1.3zM1563.4 1202.6h1.3v1.3h-1.3zM1248.7 1168.0h1v1h-1zM1263.5 1182.6h1v1h-1zM1248.4 1112.9h1.6v1.6h-1.6zM1319.4 1182.9h1.6v1.6h-1.6zM1248.1 1103.2h1v1h-1zM1329.2 1183.1h1v1h-1zM1247.7 1102.3h1v1h-1zM1330.1 1183.5h1v1h-1zM1248.7 1090.4h1v1h-1zM1342.2 1182.6h1v1h-1zM1249.8 1056.1h1.6v1.6h-1.6zM1377.0 1181.5h1.6v1.6h-1.6zM1248.3 1053.9h1.3v1.3h-1.3zM1379.2 1182.9h1.3v1.3h-1.3zM1248.7 988.9h1v1h-1zM1445.1 1182.6h1v1h-1zM1248.9 871.9h1.3v1.3h-1.3zM1563.7 1182.4h1.3v1.3h-1.3zM1247.5 707.1h1.3v1.3h-1.3zM1730.8 1183.8h1.3v1.3h-1.3zM1262.6 1089.5h1.6v1.6h-1.6zM1343.1 1168.9h1.6v1.6h-1.6zM1264.8 1036.1h1.6v1.6h-1.6zM1397.2 1166.7h1.6v1.6h-1.6zM1265.1 755.7h1.6v1.6h-1.6zM1681.5 1166.4h1.6v1.6h-1.6zM1262.8 746.2h1.6v1.6h-1.6zM1691.2 1168.7h1.6v1.6h-1.6zM1289.0 1090.7h1.3v1.3h-1.3zM1341.8 1142.9h1.3v1.3h-1.3zM1289.2 1014.9h1.6v1.6h-1.6zM1418.7 1142.6h1.6v1.6h-1.6zM1290.3 1014.5h1.6v1.6h-1.6zM1419.1 1141.6h1.6v1.6h-1.6zM1290.3 931.0h1v1h-1zM1503.7 1141.6h1v1h-1zM1288.6 871.6h1v1h-1zM1564.0 1143.2h1v1h-1zM1288.1 842.1h1.6v1.6h-1.6zM1593.9 1143.7h1.6v1.6h-1.6zM1289.6 817.3h1v1h-1zM1619.1 1142.3h1v1h-1zM1289.4 818.6h1.3v1.3h-1.3zM1617.7 1142.4h1.3v1.3h-1.3zM1290.2 755.9h1.3v1.3h-1.3zM1681.3 1141.6h1.3v1.3h-1.3zM1290.4 756.9h1v1h-1zM1680.3 1141.4h1v1h-1zM1290.2 744.8h1.6v1.6h-1.6zM1692.6 1141.6h1.6v1.6h-1.6zM1289.1 720.1h1.3v1.3h-1.3zM1717.6 1142.7h1.3v1.3h-1.3zM1289.5 721.6h1.6v1.6h-1.6zM1716.1 1142.3h1.6v1.6h-1.6zM1318.6 1013.5h1.6v1.6h-1.6zM1420.1 1113.6h1.6v1.6h-1.6zM1318.1 954.3h1.6v1.6h-1.6zM1480.1 1114.1h1.6v1.6h-1.6zM1319.8 869.6h1.3v1.3h-1.3zM1566.0 1112.5h1.3v1.3h-1.3zM1320.1 823.5h1.6v1.6h-1.6zM1612.8 1112.1h1.6v1.6h-1.6zM1317.9 816.7h1.3v1.3h-1.3zM1619.6 1114.3h1.3v1.3h-1.3zM1319.0 731.9h1.6v1.6h-1.6zM1705.7 1113.2h1.6v1.6h-1.6zM1330.6 1054.4h1.6v1.6h-1.6zM1378.6 1101.8h1.6v1.6h-1.6zM1330.4 1053.9h1v1h-1zM1379.2 1102.0h1v1h-1zM1330.0 990.3h1v1h-1zM1443.6 1102.4h1v1h-1zM1329.6 955.2h1.3v1.3h-1.3zM1479.2 1102.8h1.3v1.3h-1.3zM1331.0 954.1h1v1h-1zM1480.3 1101.4h1v1h-1zM1330.8 931.9h1v1h-1zM1502.9 1101.6h1v1h-1zM1329.6 930.7h1.3v1.3h-1.3zM1504.1 1102.8h1.3v1.3h-1.3zM1331.4 883.4h1.6v1.6h-1.6zM1552.0 1101.0h1.6v1.6h-1.6zM1330.1 817.2h1.6v1.6h-1.6zM1619.2 1102.3h1.6v1.6h-1.6zM1329.0 817.4h1.3v1.3h-1.3zM1618.9 1103.4h1.3v1.3h-1.3zM1328.7 756.1h1.3v1.3h-1.3zM1681.1 1103.7h1.3v1.3h-1.3zM1344.0 1037.6h1v1h-1zM1395.7 1088.6h1v1h-1zM1344.5 990.6h1v1h-1zM1443.3 1088.1h1v1h-1zM1344.5 884.6h1.6v1.6h-1.6zM1550.9 1088.1h1.6v1.6h-1.6zM1343.2 884.9h1v1h-1zM1550.5 1089.4h1v1h-1zM1342.2 817.0h1.6v1.6h-1.6zM1619.4 1090.4h1.6v1.6h-1.6zM1341.7 773.0h1v1h-1zM1664.0 1090.8h1v1h-1zM1353.1 959.2h1.6v1.6h-1.6zM1475.2 1079.7h1.6v1.6h-1.6zM1354.0 953.0h1.6v1.6h-1.6zM1481.4 1078.7h1.6v1.6h-1.6zM1355.0 794.7h1v1h-1zM1641.9 1077.8h1v1h-1zM1354.4 758.0h1.6v1.6h-1.6zM1679.2 1078.4h1.6v1.6h-1.6zM1355.4 720.3h1.3v1.3h-1.3zM1717.5 1077.3h1.3v1.3h-1.3zM1355.3 718.8h1.6v1.6h-1.6zM1718.9 1077.4h1.6v1.6h-1.6zM1354.9 707.3h1v1h-1zM1730.6 1077.8h1v1h-1zM1377.5 1037.0h1.3v1.3h-1.3zM1396.4 1055.6h1.3v1.3h-1.3zM1378.7 1037.5h1.6v1.6h-1.6zM1395.8 1054.4h1.6v1.6h-1.6zM1379.2 884.7h1.6v1.6h-1.6zM1550.7 1053.9h1.6v1.6h-1.6zM1378.6 823.3h1v1h-1zM1613.0 1054.5h1v1h-1zM1379.2 756.6h1v1h-1zM1680.6 1053.9h1v1h-1zM1379.1 734.1h1v1h-1zM1703.4 1053.9h1v1h-1zM1395.2 1014.0h1.3v1.3h-1.3zM1419.6 1038.1h1.3v1.3h-1.3zM1395.4 1013.8h1.6v1.6h-1.6zM1419.8 1037.9h1.6v1.6h-1.6zM1397.8 1013.3h1.6v1.6h-1.6zM1420.4 1035.5h1.6v1.6h-1.6zM1397.7 958.2h1.3v1.3h-1.3zM1476.2 1035.6h1.3v1.3h-1.3zM1396.9 959.7h1.6v1.6h-1.6zM1474.6 1036.4h1.6v1.6h-1.6zM1395.0 856.6h1v1h-1zM1579.2 1038.3h1v1h-1zM1395.3 855.2h1v1h-1zM1580.6 1038.0h1v1h-1zM1396.9 795.5h1.6v1.6h-1.6zM1641.2 1036.5h1.6v1.6h-1.6zM1395.6 747.2h1.6v1.6h-1.6zM1690.2 1037.7h1.6v1.6h-1.6zM1419.8 1013.8h1v1h-1zM1419.9 1013.8h1v1h-1zM1419.0 1012.2h1.6v1.6h-1.6zM1421.4 1014.7h1.6v1.6h-1.6zM1419.3 964.6h1.3v1.3h-1.3zM1469.7 1014.3h1.3v1.3h-1.3zM1418.2 965.7h1.6v1.6h-1.6zM1468.6 1015.4h1.6v1.6h-1.6zM1419.8 884.3h1v1h-1zM1551.1 1013.8h1v1h-1zM1418.3 884.6h1.6v1.6h-1.6zM1550.8 1015.3h1.6v1.6h-1.6zM1417.3 884.4h1.6v1.6h-1.6zM1551.0 1016.3h1.6v1.6h-1.6zM1420.1 796.4h1.3v1.3h-1.3zM1640.2 1013.6h1.3v1.3h-1.3zM1420.2 745.7h1.3v1.3h-1.3zM1691.6 1013.4h1.3v1.3h-1.3zM1418.3 721.2h1.3v1.3h-1.3zM1716.5 1015.3h1.3v1.3h-1.3zM1420.5 964.4h1.6v1.6h-1.6zM1469.9 1013.1h1.6v1.6h-1.6zM1420.8 817.6h1.6v1.6h-1.6zM1618.8 1012.8h1.6v1.6h-1.6zM1420.7 731.4h1.3v1.3h-1.3zM1706.1 1012.9h1.3v1.3h-1.3zM1421.5 708.8h1.6v1.6h-1.6zM1729.1 1012.2h1.6v1.6h-1.6zM1446.1 964.8h1.6v1.6h-1.6zM1469.6 987.9h1.6v1.6h-1.6zM1444.4 952.8h1v1h-1zM1481.7 989.6h1v1h-1zM1443.8 910.1h1.6v1.6h-1.6zM1525.0 990.2h1.6v1.6h-1.6zM1446.1 882.6h1v1h-1zM1552.8 987.9h1v1h-1zM1443.9 824.1h1v1h-1zM1612.2 990.1h1v1h-1zM1447.8 958.5h1v1h-1zM1475.9 986.2h1v1h-1zM1448.2 959.3h1.3v1.3h-1.3zM1475.1 985.8h1.3v1.3h-1.3zM1448.9 932.3h1.6v1.6h-1.6zM1502.5 985.1h1.6v1.6h-1.6zM1448.0 931.6h1.6v1.6h-1.6zM1503.2 986.0h1.6v1.6h-1.6zM1448.2 856.6h1.6v1.6h-1.6zM1579.3 985.8h1.6v1.6h-1.6zM1449.3 856.0h1.6v1.6h-1.6zM1579.8 984.8h1.6v1.6h-1.6zM1449.1 839.9h1v1h-1zM1596.2 984.9h1v1h-1zM1446.9 818.6h1.6v1.6h-1.6zM1617.7 987.1h1.6v1.6h-1.6zM1448.7 772.9h1.3v1.3h-1.3zM1664.1 985.3h1.3v1.3h-1.3zM1446.9 732.5h1.6v1.6h-1.6zM1705.0 987.1h1.6v1.6h-1.6zM1469.2 958.7h1.3v1.3h-1.3zM1475.7 965.1h1.3v1.3h-1.3zM1470.1 909.1h1.6v1.6h-1.6zM1526.0 964.2h1.6v1.6h-1.6zM1469.1 796.0h1.3v1.3h-1.3zM1640.7 965.2h1.3v1.3h-1.3zM1468.0 757.7h1v1h-1zM1679.5 966.3h1v1h-1zM1468.3 733.7h1v1h-1zM1703.9 966.0h1v1h-1zM1468.4 720.7h1.6v1.6h-1.6zM1717.1 965.9h1.6v1.6h-1.6zM1475.1 854.5h1v1h-1zM1581.3 959.3h1v1h-1zM1475.3 732.5h1v1h-1zM1705.0 959.1h1v1h-1zM1476.1 731.5h1v1h-1zM1706.1 958.3h1v1h-1zM1474.4 731.4h1v1h-1zM1706.1 960.0h1v1h-1zM1480.6 870.2h1.3v1.3h-1.3zM1565.5 953.8h1.3v1.3h-1.3zM1481.5 855.1h1.6v1.6h-1.6zM1580.7 952.9h1.6v1.6h-1.6zM1481.4 857.0h1.3v1.3h-1.3zM1578.8 953.1h1.3v1.3h-1.3zM1479.6 773.6h1.6v1.6h-1.6zM1663.4 954.9h1.6v1.6h-1.6zM1480.6 772.4h1.3v1.3h-1.3zM1664.5 953.8h1.3v1.3h-1.3zM1502.2 857.1h1.3v1.3h-1.3zM1578.7 932.5h1.3v1.3h-1.3zM1503.9 825.2h1.6v1.6h-1.6zM1611.0 930.9h1.6v1.6h-1.6zM1503.2 818.7h1.6v1.6h-1.6zM1617.7 931.6h1.6v1.6h-1.6zM1502.1 774.4h1.3v1.3h-1.3zM1662.6 932.6h1.3v1.3h-1.3zM1502.8 719.6h1.6v1.6h-1.6zM1718.1 931.9h1.6v1.6h-1.6zM1504.4 719.7h1.6v1.6h-1.6zM1718.1 930.4h1.6v1.6h-1.6zM1527.3 885.0h1.3v1.3h-1.3zM1550.5 907.8h1.3v1.3h-1.3zM1524.4 745.2h1v1h-1zM1692.2 910.7h1v1h-1zM1524.5 721.0h1.3v1.3h-1.3zM1716.7 910.6h1.3v1.3h-1.3zM1550.3 839.9h1.6v1.6h-1.6zM1596.1 885.1h1.6v1.6h-1.6zM1551.1 841.0h1.6v1.6h-1.6zM1595.0 884.4h1.6v1.6h-1.6zM1551.1 842.8h1v1h-1zM1593.2 884.4h1v1h-1zM1552.7 773.7h1.6v1.6h-1.6zM1663.2 882.8h1.6v1.6h-1.6zM1550.0 731.7h1v1h-1zM1705.9 885.5h1v1h-1zM1564.7 841.3h1.6v1.6h-1.6zM1594.8 871.0h1.6v1.6h-1.6zM1564.6 818.2h1.3v1.3h-1.3zM1618.2 871.0h1.3v1.3h-1.3zM1563.9 755.3h1.3v1.3h-1.3zM1681.9 871.7h1.3v1.3h-1.3zM1564.5 733.2h1.6v1.6h-1.6zM1704.3 871.1h1.6v1.6h-1.6zM1563.6 734.0h1.6v1.6h-1.6zM1703.6 872.0h1.6v1.6h-1.6zM1578.7 818.7h1v1h-1zM1617.6 857.1h1v1h-1zM1581.0 773.1h1.3v1.3h-1.3zM1663.9 854.9h1.3v1.3h-1.3zM1580.2 746.4h1.6v1.6h-1.6zM1691.0 855.7h1.6v1.6h-1.6zM1579.8 744.8h1.3v1.3h-1.3zM1692.6 856.0h1.3v1.3h-1.3zM1594.6 823.8h1v1h-1zM1612.5 841.5h1v1h-1zM1593.5 794.7h1v1h-1zM1642.0 842.6h1v1h-1zM1611.1 794.7h1.6v1.6h-1.6zM1642.0 825.2h1.6v1.6h-1.6zM1612.7 733.2h1v1h-1zM1704.4 823.5h1v1h-1zM1613.3 708.6h1v1h-1zM1729.2 823.0h1v1h-1zM1618.3 774.1h1.6v1.6h-1.6zM1662.8 818.1h1.6v1.6h-1.6zM1616.9 757.9h1v1h-1zM1679.3 819.4h1v1h-1zM1618.7 758.3h1.6v1.6h-1.6zM1678.9 817.6h1.6v1.6h-1.6zM1617.4 747.1h1.3v1.3h-1.3zM1690.2 818.9h1.3v1.3h-1.3zM1619.4 720.7h1v1h-1zM1717.0 817.0h1v1h-1zM1639.9 774.6h1.3v1.3h-1.3zM1662.4 796.7h1.3v1.3h-1.3zM1639.8 719.2h1.3v1.3h-1.3zM1718.5 796.9h1.3v1.3h-1.3zM1662.6 756.4h1.3v1.3h-1.3zM1680.8 774.4h1.3v1.3h-1.3zM1662.2 755.6h1v1h-1zM1681.7 774.8h1v1h-1zM1681.2 720.9h1v1h-1zM1716.8 756.0h1v1h-1zM1679.9 718.9h1.3v1.3h-1.3zM1718.9 757.3h1.3v1.3h-1.3zM1681.6 707.9h1.6v1.6h-1.6zM1730.0 755.6h1.6v1.6h-1.6zM1680.3 707.1h1v1h-1zM1730.8 756.9h1v1h-1zM1690.9 721.2h1v1h-1zM1716.6 746.5h1v1h-1zM1692.5 706.7h1.3v1.3h-1.3zM1731.2 744.9h1.3v1.3h-1.3zM1417.9 1142.6h1.2v1.2h-1.2zM1289.3 1015.7h1.2v1.2h-1.2zM1367.2 730.7h1.2v1.2h-1.2zM1706.8 1065.7h1.2v1.2h-1.2zM1264.5 1110.0h1.2v1.2h-1.2zM1322.3 1167.0h1.2v1.2h-1.2zM1405.2 1178.2h1.2v1.2h-1.2zM1253.1 1028.2h1.2v1.2h-1.2zM1384.5 1111.0h1.2v1.2h-1.2zM1321.2 1048.6h1.2v1.2h-1.2zM1290.6 938.0h1.2v1.2h-1.2zM1496.7 1141.2h1.2v1.2h-1.2zM1503.6 917.4h1.2v1.2h-1.2zM1517.5 931.2h1.2v1.2h-1.2zM1616.8 938.1h1.2v1.2h-1.2zM1496.6 819.6h1.2v1.2h-1.2zM1711.0 1162.0h1.2v1.2h-1.2zM1269.6 726.6h1.2v1.2h-1.2zM1341.7 1164.4h1.2v1.2h-1.2zM1267.1 1090.9h1.2v1.2h-1.2zM1385.8 820.4h1.2v1.2h-1.2zM1615.9 1047.4h1.2v1.2h-1.2zM1699.3 949.6h1.2v1.2h-1.2zM1484.9 738.1h1.2v1.2h-1.2zM1309.8 1036.8h1.2v1.2h-1.2zM1396.5 1122.4h1.2v1.2h-1.2zM1517.9 1054.9h1.2v1.2h-1.2zM1378.2 917.1h1.2v1.2h-1.2zM1632.3 713.8h1.2v1.2h-1.2zM1724.0 804.2h1.2v1.2h-1.2zM1462.5 899.6h1.2v1.2h-1.2zM1535.6 971.7h1.2v1.2h-1.2zM1659.5 969.1h1.2v1.2h-1.2zM1465.2 777.5h1.2v1.2h-1.2zM1325.3 728.1h1.2v1.2h-1.2zM1709.5 1107.0h1.2v1.2h-1.2zM1726.7 1190.7h1.2v1.2h-1.2zM1240.5 711.1h1.2v1.2h-1.2zM1617.0 1001.5h1.2v1.2h-1.2zM1432.3 819.4h1.2v1.2h-1.2zM1254.5 1121.1h1.2v1.2h-1.2zM1311.0 1176.9h1.2v1.2h-1.2zM1316.2 832.6h1.2v1.2h-1.2zM1603.6 1116.0h1.2v1.2h-1.2zM1335.9 1193.1h1.2v1.2h-1.2zM1238.0 1096.6h1.2v1.2h-1.2zM1340.1 801.0h1.2v1.2h-1.2zM1635.6 1092.5h1.2v1.2h-1.2zM1482.6 874.6h1.2v1.2h-1.2zM1560.9 951.9h1.2v1.2h-1.2zM1465.2 1111.2h1.2v1.2h-1.2zM1321.1 969.1h1.2v1.2h-1.2zM1235.7 1049.9h1.2v1.2h-1.2zM1383.2 1195.4h1.2v1.2h-1.2zM1249.2 1071.9h1.2v1.2h-1.2zM1360.9 1182.1h1.2v1.2h-1.2zM1543.6 1017.2h1.2v1.2h-1.2zM1416.4 891.8h1.2v1.2h-1.2zM1469.2 889.2h1.2v1.2h-1.2zM1546.2 965.1h1.2v1.2h-1.2zM1389.7 1023.6h1.2v1.2h-1.2zM1409.9 1043.5h1.2v1.2h-1.2zM1678.8 910.8h1.2v1.2h-1.2zM1524.3 758.4h1.2v1.2h-1.2zM1440.7 931.3h1.2v1.2h-1.2zM1503.5 993.3h1.2v1.2h-1.2zM1462.8 1035.8h1.2v1.2h-1.2zM1397.5 971.4h1.2v1.2h-1.2zM1694.0 1085.6h1.2v1.2h-1.2zM1347.0 743.4h1.2v1.2h-1.2zM1705.3 774.0h1.2v1.2h-1.2zM1663.0 732.3h1.2v1.2h-1.2zM1677.8 1121.2h1.2v1.2h-1.2zM1310.9 759.4h1.2v1.2h-1.2zM1487.5 707.8h1.2v1.2h-1.2zM1730.1 947.0h1.2v1.2h-1.2zM1375.2 1117.0h1.2v1.2h-1.2zM1315.2 1057.8h1.2v1.2h-1.2zM1596.9 1084.7h1.2v1.2h-1.2zM1347.9 839.1h1.2v1.2h-1.2zM1525.7 1123.7h1.2v1.2h-1.2zM1308.4 909.4h1.2v1.2h-1.2zM1711.2 1060.1h1.2v1.2h-1.2zM1372.9 726.4h1.2v1.2h-1.2zM1277.4 857.3h1.2v1.2h-1.2zM1578.5 1154.2h1.2v1.2h-1.2zM1405.0 921.7h1.2v1.2h-1.2zM1513.3 1028.4h1.2v1.2h-1.2zM1481.6 739.0h1.2v1.2h-1.2zM1698.5 952.9h1.2v1.2h-1.2zM1490.2 1012.4h1.2v1.2h-1.2zM1421.3 944.4h1.2v1.2h-1.2zM1228.8 953.3h1.2v1.2h-1.2zM1481.2 1202.2h1.2v1.2h-1.2zM1365.2 914.2h1.2v1.2h-1.2zM1520.8 1067.7h1.2v1.2h-1.2zM1550.3 970.5h1.2v1.2h-1.2zM1463.8 885.2h1.2v1.2h-1.2zM1273.9 952.8h1.2v1.2h-1.2zM1481.7 1157.8h1.2v1.2h-1.2zM1473.7 880.4h1.2v1.2h-1.2zM1555.1 960.7h1.2v1.2h-1.2zM1722.8 1062.1h1.2v1.2h-1.2zM1370.9 715.0h1.2v1.2h-1.2zM1453.8 1160.4h1.2v1.2h-1.2zM1271.2 980.3h1.2v1.2h-1.2zM1636.0 1085.1h1.2v1.2h-1.2zM1347.6 800.6h1.2v1.2h-1.2zM1650.8 801.6h1.2v1.2h-1.2zM1635.0 786.0h1.2v1.2h-1.2zM1357.9 748.9h1.2v1.2h-1.2zM1688.4 1074.9h1.2v1.2h-1.2zM1485.0 988.6h1.2v1.2h-1.2zM1445.4 949.5h1.2v1.2h-1.2zM1511.1 727.2h1.2v1.2h-1.2zM1710.4 923.7h1.2v1.2h-1.2zM1477.8 960.5h1.2v1.2h-1.2zM1473.9 956.6h1.2v1.2h-1.2zM1376.2 779.9h1.2v1.2h-1.2zM1657.0 1056.8h1.2v1.2h-1.2zM1484.5 1030.7h1.2v1.2h-1.2zM1402.7 950.0h1.2v1.2h-1.2zM1328.2 1094.8h1.2v1.2h-1.2zM1337.7 1104.2h1.2v1.2h-1.2zM1653.4 798.8h1.2v1.2h-1.2zM1637.8 783.4h1.2v1.2h-1.2zM1727.1 741.7h1.2v1.2h-1.2zM1695.7 710.7h1.2v1.2h-1.2zM1577.4 801.9h1.2v1.2h-1.2zM1634.7 858.4h1.2v1.2h-1.2zM1590.9 795.8h1.2v1.2h-1.2zM1640.9 845.0h1.2v1.2h-1.2zM1636.7 1114.4h1.2v1.2h-1.2zM1317.9 800.0h1.2v1.2h-1.2zM1643.5 1050.4h1.2v1.2h-1.2zM1382.7 793.2h1.2v1.2h-1.2zM1352.5 740.5h1.2v1.2h-1.2zM1697.0 1080.2h1.2v1.2h-1.2zM1239.7 945.6h1.2v1.2h-1.2zM1489.0 1191.5h1.2v1.2h-1.2zM1403.0 804.7h1.2v1.2h-1.2zM1631.8 1030.4h1.2v1.2h-1.2zM1539.4 744.7h1.2v1.2h-1.2zM1692.6 895.9h1.2v1.2h-1.2zM1703.6 878.9h1.2v1.2h-1.2zM1556.6 734.0h1.2v1.2h-1.2zM1260.9 867.4h1.2v1.2h-1.2zM1568.3 1170.6h1.2v1.2h-1.2zM1283.8 709.0h1.2v1.2h-1.2zM1728.9 1148.0h1.2v1.2h-1.2zM1672.4 1046.8h1.2v1.2h-1.2zM1386.4 764.7h1.2v1.2h-1.2zM1322.8 853.8h1.2v1.2h-1.2zM1582.1 1109.5h1.2v1.2h-1.2zM1614.6 707.5h1.2v1.2h-1.2zM1730.4 821.7h1.2v1.2h-1.2zM1545.7 1140.0h1.2v1.2h-1.2zM1291.9 889.7h1.2v1.2h-1.2zM1598.6 1173.5h1.2v1.2h-1.2zM1257.9 837.5h1.2v1.2h-1.2z"/>
<path fill="#ec5a48" fill-opacity="0.25" d="M1228.4 1078.0h1.3v1.3h-1.3zM1354.8 1202.6h1.3v1.3h-1.3zM1229.0 965.5h1.6v1.6h-1.6zM1468.8 1202.0h1.6v1.6h-1.6zM1228.9 932.1h1v1h-1zM1502.7 1202.2h1v1h-1zM1229.1 757.8h1v1h-1zM1679.4 1201.9h1v1h-1zM1249.0 1014.0h1.3v1.3h-1.3zM1419.6 1182.3h1.3v1.3h-1.3zM1247.1 1015.0h1v1h-1zM1418.7 1184.1h1v1h-1zM1248.6 988.8h1.3v1.3h-1.3zM1445.1 1182.7h1.3v1.3h-1.3zM1247.1 930.6h1v1h-1zM1504.2 1184.1h1v1h-1zM1248.9 909.3h1v1h-1zM1525.8 1182.4h1v1h-1zM1247.4 908.0h1.6v1.6h-1.6zM1527.1 1183.9h1.6v1.6h-1.6zM1249.6 871.4h1.6v1.6h-1.6zM1564.2 1181.7h1.6v1.6h-1.6zM1249.4 842.5h1.3v1.3h-1.3zM1593.5 1181.9h1.3v1.3h-1.3zM1247.3 732.8h1v1h-1zM1704.7 1184.0h1v1h-1zM1249.3 718.7h1v1h-1zM1719.1 1182.0h1v1h-1zM1264.9 1090.6h1.6v1.6h-1.6zM1342.0 1166.6h1.6v1.6h-1.6zM1263.3 1089.1h1.6v1.6h-1.6zM1343.5 1168.2h1.6v1.6h-1.6zM1262.8 1035.8h1v1h-1zM1397.5 1168.7h1v1h-1zM1263.8 1036.1h1.3v1.3h-1.3zM1397.2 1167.7h1.3v1.3h-1.3zM1262.3 989.7h1.3v1.3h-1.3zM1444.3 1169.2h1.3v1.3h-1.3zM1263.5 967.0h1.6v1.6h-1.6zM1467.3 1168.0h1.6v1.6h-1.6zM1263.9 840.8h1v1h-1zM1595.3 1167.6h1v1h-1zM1289.8 1114.3h1.6v1.6h-1.6zM1318.0 1142.1h1.6v1.6h-1.6zM1288.5 1102.5h1v1h-1zM1329.9 1143.3h1v1h-1zM1289.8 1013.7h1v1h-1zM1419.9 1142.0h1v1h-1zM1289.1 719.3h1.3v1.3h-1.3zM1718.4 1142.8h1.3v1.3h-1.3zM1318.3 1102.4h1v1h-1zM1330.0 1114.0h1v1h-1zM1318.3 1012.1h1.3v1.3h-1.3zM1421.5 1113.9h1.3v1.3h-1.3zM1318.3 958.1h1.3v1.3h-1.3zM1476.3 1113.9h1.3v1.3h-1.3zM1317.9 959.7h1.6v1.6h-1.6zM1474.7 1114.3h1.6v1.6h-1.6zM1319.0 955.0h1v1h-1zM1479.5 1113.2h1v1h-1zM1319.7 910.7h1.3v1.3h-1.3zM1524.3 1112.5h1.3v1.3h-1.3zM1319.6 872.4h1.3v1.3h-1.3zM1563.2 1112.6h1.3v1.3h-1.3zM1319.6 856.3h1.3v1.3h-1.3zM1579.5 1112.7h1.3v1.3h-1.3zM1319.0 817.0h1.6v1.6h-1.6zM1619.4 1113.3h1.6v1.6h-1.6zM1320.2 819.0h1.6v1.6h-1.6zM1617.3 1112.1h1.6v1.6h-1.6zM1317.9 796.8h1.6v1.6h-1.6zM1639.9 1114.3h1.6v1.6h-1.6zM1319.6 775.1h1.6v1.6h-1.6zM1661.9 1112.7h1.6v1.6h-1.6zM1318.9 747.3h1.3v1.3h-1.3zM1690.0 1113.4h1.3v1.3h-1.3zM1330.4 1012.7h1.3v1.3h-1.3zM1420.9 1102.0h1.3v1.3h-1.3zM1329.8 988.3h1v1h-1zM1445.7 1102.6h1v1h-1zM1330.1 954.2h1.6v1.6h-1.6zM1480.2 1102.3h1.6v1.6h-1.6zM1330.2 908.0h1.6v1.6h-1.6zM1527.1 1102.2h1.6v1.6h-1.6zM1329.8 908.3h1.3v1.3h-1.3zM1526.8 1102.6h1.3v1.3h-1.3zM1328.7 883.1h1v1h-1zM1552.3 1103.7h1v1h-1zM1330.1 756.0h1v1h-1zM1681.3 1102.3h1v1h-1zM1329.1 731.9h1.6v1.6h-1.6zM1705.7 1103.2h1.6v1.6h-1.6zM1330.8 733.0h1.3v1.3h-1.3zM1704.5 1101.6h1.3v1.3h-1.3zM1331.3 720.4h1.6v1.6h-1.6zM1717.3 1101.1h1.6v1.6h-1.6zM1331.1 719.2h1v1h-1zM1718.5 1101.3h1v1h-1zM1331.4 719.7h1.6v1.6h-1.6zM1718.0 1101.0h1.6v1.6h-1.6zM1342.9 1055.6h1v1h-1zM1377.4 1089.7h1v1h-1zM1342.6 1035.8h1.3v1.3h-1.3zM1397.5 1090.0h1.3v1.3h-1.3zM1344.6 840.2h1.3v1.3h-1.3zM1595.9 1088.0h1.3v1.3h-1.3zM1343.0 731.4h1v1h-1zM1706.1 1089.6h1v1h-1zM1343.0 720.1h1.3v1.3h-1.3zM1717.6 1089.6h1.3v1.3h-1.3zM1342.7 721.4h1.3v1.3h-1.3zM1716.3 1089.9h1.3v1.3h-1.3zM1343.2 708.7h1v1h-1zM1729.2 1089.4h1v1h-1zM1354.1 986.1h1.3v1.3h-1.3zM1447.9 1078.6h1.3v1.3h-1.3zM1355.3 986.0h1v1h-1zM1448.0 1077.5h1v1h-1zM1353.5 986.6h1v1h-1zM1447.4 1079.2h1v1h-1zM1354.7 964.9h1.3v1.3h-1.3zM1469.4 1078.1h1.3v1.3h-1.3zM1354.9 960.0h1v1h-1zM1474.4 1077.9h1v1h-1zM1353.3 960.5h1v1h-1zM1473.9 1079.5h1v1h-1zM1355.8 870.6h1.6v1.6h-1.6zM1565.0 1077.0h1.6v1.6h-1.6zM1355.1 818.9h1.6v1.6h-1.6zM1617.4 1077.6h1.6v1.6h-1.6zM1354.0 755.5h1.3v1.3h-1.3zM1681.7 1078.8h1.3v1.3h-1.3zM1354.6 746.1h1.6v1.6h-1.6zM1691.3 1078.1h1.6v1.6h-1.6zM1353.4 745.0h1v1h-1zM1692.4 1079.3h1v1h-1zM1354.2 709.5h1.6v1.6h-1.6zM1728.4 1078.5h1.6v1.6h-1.6zM1379.7 989.0h1.3v1.3h-1.3zM1444.9 1053.4h1.3v1.3h-1.3zM1377.3 932.5h1.6v1.6h-1.6zM1502.2 1055.8h1.6v1.6h-1.6zM1378.5 931.6h1v1h-1zM1503.2 1054.5h1v1h-1zM1379.7 883.4h1.6v1.6h-1.6zM1552.0 1053.4h1.6v1.6h-1.6zM1378.7 721.5h1v1h-1zM1716.2 1054.4h1v1h-1zM1396.8 989.8h1.3v1.3h-1.3zM1444.2 1036.6h1.3v1.3h-1.3zM1396.7 910.5h1v1h-1zM1524.6 1036.6h1v1h-1zM1394.8 870.8h1.6v1.6h-1.6zM1564.9 1038.5h1.6v1.6h-1.6zM1395.0 819.5h1.6v1.6h-1.6zM1616.8 1038.3h1.6v1.6h-1.6zM1396.1 795.1h1.6v1.6h-1.6zM1641.6 1037.2h1.6v1.6h-1.6zM1396.4 745.2h1.6v1.6h-1.6zM1692.2 1036.9h1.6v1.6h-1.6zM1418.8 986.9h1.6v1.6h-1.6zM1447.1 1014.8h1.6v1.6h-1.6zM1417.7 966.3h1v1h-1zM1468.0 1015.9h1v1h-1zM1419.5 932.8h1v1h-1zM1502.0 1014.1h1v1h-1zM1419.5 908.5h1v1h-1zM1526.6 1014.1h1v1h-1zM1418.6 746.9h1.3v1.3h-1.3zM1690.5 1015.0h1.3v1.3h-1.3zM1419.1 732.6h1.6v1.6h-1.6zM1704.9 1014.5h1.6v1.6h-1.6zM1422.3 965.7h1.3v1.3h-1.3zM1468.6 1011.3h1.3v1.3h-1.3zM1421.6 960.5h1.3v1.3h-1.3zM1473.9 1012.1h1.3v1.3h-1.3zM1421.1 931.8h1v1h-1zM1503.0 1012.5h1v1h-1zM1421.4 931.5h1v1h-1zM1503.2 1012.3h1v1h-1zM1421.3 931.8h1v1h-1zM1503.0 1012.3h1v1h-1zM1421.7 909.0h1.6v1.6h-1.6zM1526.0 1012.0h1.6v1.6h-1.6zM1420.6 822.8h1v1h-1zM1613.5 1013.1h1v1h-1zM1421.3 823.8h1.3v1.3h-1.3zM1612.5 1012.4h1.3v1.3h-1.3zM1421.3 824.4h1v1h-1zM1611.9 1012.4h1v1h-1zM1420.9 734.0h1.3v1.3h-1.3zM1703.5 1012.8h1.3v1.3h-1.3zM1419.9 732.7h1.6v1.6h-1.6zM1704.8 1013.7h1.6v1.6h-1.6zM1420.0 709.5h1.3v1.3h-1.3zM1728.4 1013.7h1.3v1.3h-1.3zM1443.4 955.3h1.3v1.3h-1.3zM1479.1 990.5h1.3v1.3h-1.3zM1445.9 823.2h1.3v1.3h-1.3zM1613.1 988.1h1.3v1.3h-1.3zM1445.3 794.6h1.3v1.3h-1.3zM1642.0 988.7h1.3v1.3h-1.3zM1444.7 795.1h1.3v1.3h-1.3zM1641.5 989.2h1.3v1.3h-1.3zM1447.8 953.1h1.3v1.3h-1.3zM1481.4 986.2h1.3v1.3h-1.3zM1447.6 840.9h1.3v1.3h-1.3zM1595.1 986.5h1.3v1.3h-1.3zM1448.8 794.5h1v1h-1zM1642.2 985.2h1v1h-1zM1446.9 757.5h1v1h-1zM1679.7 987.1h1v1h-1zM1446.8 758.0h1.3v1.3h-1.3zM1679.2 987.2h1.3v1.3h-1.3zM1447.6 757.9h1v1h-1zM1679.3 986.4h1v1h-1zM1447.5 733.2h1v1h-1zM1704.3 986.5h1v1h-1zM1447.3 721.2h1v1h-1zM1716.5 986.7h1v1h-1zM1469.5 884.7h1.6v1.6h-1.6zM1550.8 964.8h1.6v1.6h-1.6zM1467.4 871.4h1.6v1.6h-1.6zM1564.2 966.9h1.6v1.6h-1.6zM1469.7 817.4h1v1h-1zM1619.0 964.6h1v1h-1zM1467.3 818.0h1v1h-1zM1618.4 967.0h1v1h-1zM1468.9 745.7h1v1h-1zM1691.6 965.4h1v1h-1zM1475.3 930.5h1v1h-1zM1504.3 959.0h1v1h-1zM1476.7 909.8h1v1h-1zM1525.3 957.7h1v1h-1zM1476.4 855.4h1.3v1.3h-1.3zM1580.5 958.0h1.3v1.3h-1.3zM1481.1 910.0h1.3v1.3h-1.3zM1525.1 953.4h1.3v1.3h-1.3zM1481.8 840.0h1v1h-1zM1596.1 952.7h1v1h-1zM1481.4 773.3h1.6v1.6h-1.6zM1663.6 953.1h1.6v1.6h-1.6zM1479.7 720.6h1.6v1.6h-1.6zM1717.1 954.7h1.6v1.6h-1.6zM1502.7 909.6h1.6v1.6h-1.6zM1525.5 932.1h1.6v1.6h-1.6zM1503.9 856.1h1.3v1.3h-1.3zM1579.8 930.8h1.3v1.3h-1.3zM1502.5 856.2h1v1h-1zM1579.6 932.3h1v1h-1zM1502.7 823.9h1.3v1.3h-1.3zM1612.4 932.0h1.3v1.3h-1.3zM1502.3 817.0h1.3v1.3h-1.3zM1619.4 932.5h1.3v1.3h-1.3zM1503.9 733.7h1v1h-1zM1703.8 930.9h1v1h-1zM1504.8 718.7h1.3v1.3h-1.3zM1719.1 930.0h1.3v1.3h-1.3zM1526.0 731.3h1v1h-1zM1706.3 909.1h1v1h-1zM1526.7 720.9h1.3v1.3h-1.3zM1716.8 908.4h1.3v1.3h-1.3zM1551.7 795.9h1.3v1.3h-1.3zM1640.8 883.7h1.3v1.3h-1.3zM1552.6 795.4h1v1h-1zM1641.2 882.9h1v1h-1zM1550.6 756.5h1v1h-1zM1680.7 884.8h1v1h-1zM1550.1 756.0h1.3v1.3h-1.3zM1681.3 885.4h1.3v1.3h-1.3zM1565.1 855.3h1v1h-1zM1580.6 870.5h1v1h-1zM1566.0 825.2h1.6v1.6h-1.6zM1611.0 869.6h1.6v1.6h-1.6zM1565.2 775.2h1v1h-1zM1661.8 870.5h1v1h-1zM1565.1 719.2h1.3v1.3h-1.3zM1718.5 870.5h1.3v1.3h-1.3zM1565.8 719.4h1v1h-1zM1718.3 869.8h1v1h-1zM1579.8 797.0h1.3v1.3h-1.3zM1639.7 856.0h1.3v1.3h-1.3zM1579.0 795.0h1.3v1.3h-1.3zM1641.7 856.8h1.3v1.3h-1.3zM1580.5 747.1h1.3v1.3h-1.3zM1690.3 855.3h1.3v1.3h-1.3zM1594.2 796.6h1.3v1.3h-1.3zM1640.1 841.8h1.3v1.3h-1.3zM1594.7 795.7h1.3v1.3h-1.3zM1640.9 841.4h1.3v1.3h-1.3zM1612.7 796.3h1v1h-1zM1640.4 823.6h1v1h-1zM1613.4 757.6h1v1h-1zM1679.6 822.9h1v1h-1zM1611.7 732.8h1.3v1.3h-1.3zM1704.7 824.5h1.3v1.3h-1.3zM1613.2 731.4h1.6v1.6h-1.6zM1706.2 823.0h1.6v1.6h-1.6zM1613.9 706.7h1v1h-1zM1731.3 822.4h1v1h-1zM1619.6 744.9h1v1h-1zM1692.5 816.8h1v1h-1zM1640.8 720.6h1.3v1.3h-1.3zM1717.1 795.8h1.3v1.3h-1.3zM1662.1 757.7h1.3v1.3h-1.3zM1679.5 774.8h1.3v1.3h-1.3zM1681.2 708.5h1v1h-1zM1729.3 756.0h1v1h-1zM1692.4 709.1h1.6v1.6h-1.6zM1728.7 745.0h1.6v1.6h-1.6z"/>
<line x1="1228.0" y1="1203.0" x2="1738.0" y2="700.0" stroke="#ee7262" stroke-width="1.1"/>
<path d="M1325.8 1092.0L1332.2 1085.6M1325.8 980.4L1332.2 974.0M1327.1 975.2L1330.9 979.1M1325.8 965.8L1332.2 959.4M1327.1 960.6L1330.9 964.5M1325.8 954.2L1332.2 947.8M1327.1 949.1L1330.9 952.9M1340.6 1106.6L1347.0 1100.2M1341.8 1101.5L1345.7 1105.3M1340.6 980.4L1347.0 974.0M1340.6 965.8L1347.0 959.4M1341.8 960.6L1345.7 964.5M1340.6 954.2L1347.0 947.8M1341.8 949.1L1345.7 952.9M1453.8 1106.6L1460.2 1100.2M1455.1 1101.5L1458.9 1105.3M1453.8 1092.0L1460.2 1085.6M1453.8 965.8L1460.2 959.4M1455.1 960.6L1458.9 964.5M1453.8 954.2L1460.2 947.8M1455.1 949.1L1458.9 952.9M1468.6 1106.6L1475.0 1100.2M1468.6 1092.0L1475.0 1085.6M1469.9 1086.9L1473.7 1090.7M1468.6 980.4L1475.0 974.0M1468.6 954.2L1475.0 947.8M1469.9 949.1L1473.7 952.9M1480.3 1106.6L1486.7 1100.2M1480.3 1092.0L1486.7 1085.6M1481.6 1086.9L1485.4 1090.7M1480.3 980.4L1486.7 974.0M1481.6 975.2L1485.4 979.1M1480.3 965.8L1486.7 959.4M1481.6 960.6L1485.4 964.5" stroke="#e8453a" stroke-width="1.3" stroke-opacity="0.75" fill="none"/>
<rect x="1228.0" y="1178.4" width="25.0" height="24.6" fill="#e5413a" fill-opacity="0.95"/>
<rect x="1407.5" y="1016.4" width="9.7" height="9.6" fill="#e5413a" fill-opacity="0.95"/>
<rect x="1448.8" y="979.7" width="5.6" height="5.5" fill="#e5413a" fill-opacity="0.95"/>
<rect x="1526.9" y="888.6" width="19.9" height="19.6" fill="#ef8e82" fill-opacity="0.6"/>
<rect x="1719.6" y="709.1" width="9.2" height="9.1" fill="#e5413a" fill-opacity="0.95"/>
<rect x="1730.9" y="703.5" width="3.6" height="3.5" fill="#e5413a" fill-opacity="0.95"/>
<rect x="1744.00" y="696.80" width="13.80" height="28.30" fill="#55350e" />
<rect x="1744.00" y="724.80" width="13.80" height="28.40" fill="#6a4215" />
<rect x="1744.00" y="752.90" width="13.80" height="7.40" fill="#7b4c1e" />
<rect x="1744.00" y="760.00" width="13.80" height="21.00" fill="#8f5b25" />
<rect x="1744.00" y="780.70" width="13.80" height="21.60" fill="#a56e2c" />
<rect x="1744.00" y="802.00" width="13.80" height="17.20" fill="#be8639" />
<rect x="1744.00" y="818.90" width="13.80" height="27.70" fill="#c99e5e" />
<rect x="1744.00" y="846.30" width="13.80" height="28.40" fill="#d6b877" />
<rect x="1744.00" y="874.40" width="13.80" height="36.50" fill="#e2c992" />
<rect x="1744.00" y="910.60" width="13.80" height="14.90" fill="#efe0ae" />
<rect x="1744.00" y="925.20" width="13.80" height="14.10" fill="#f1e6cb" />
<rect x="1744.00" y="939.00" width="13.80" height="7.30" fill="#f3f1e6" />
<rect x="1744.00" y="946.00" width="13.80" height="14.30" fill="#e3ebe8" />
<rect x="1744.00" y="960.00" width="13.80" height="16.30" fill="#c9e2de" />
<rect x="1744.00" y="976.00" width="13.80" height="21.10" fill="#acd7d1" />
<rect x="1744.00" y="996.80" width="13.80" height="21.50" fill="#8cc6bd" />
<rect x="1744.00" y="1018.00" width="13.80" height="13.90" fill="#6fb8aa" />
<rect x="1744.00" y="1031.60" width="13.80" height="18.10" fill="#4da89b" />
<rect x="1744.00" y="1049.40" width="13.80" height="14.10" fill="#2e968b" />
<rect x="1744.00" y="1063.20" width="13.80" height="21.90" fill="#1b8279" />
<rect x="1744.00" y="1084.80" width="13.80" height="14.20" fill="#106f69" />
<rect x="1744.00" y="1098.70" width="13.80" height="21.90" fill="#0b5d56" />
<rect x="1744.00" y="1120.30" width="13.80" height="38.00" fill="#064c45" />
<rect x="1744.00" y="1158.00" width="13.80" height="44.90" fill="#033d34" />
<text x="1766" y="707.8" text-anchor="start" font-size="25.5" fill="#231f20" >1</text>
<text x="1766" y="1204" text-anchor="start" font-size="25.5" fill="#231f20" >Y</text>
<defs><linearGradient id="gRd" x1="0" y1="0" x2="1" y2="0"><stop offset="0" stop-color="#fdf3ef"/><stop offset="0.5" stop-color="#efa08f"/><stop offset="1" stop-color="#e31e2f"/></linearGradient></defs>
<rect x="1251.30" y="1240.60" width="113.50" height="23.30" fill="url(#gRd)" />
<line x1="1257.7" y1="1258" x2="1257.7" y2="1263.9" stroke="#ffffff" stroke-width="1.2" />
<line x1="1283.2" y1="1258" x2="1283.2" y2="1263.9" stroke="#ffffff" stroke-width="1.2" />
<line x1="1308.7" y1="1258" x2="1308.7" y2="1263.9" stroke="#ffffff" stroke-width="1.2" />
<line x1="1334" y1="1258" x2="1334" y2="1263.9" stroke="#ffffff" stroke-width="1.2" />
<line x1="1359.4" y1="1258" x2="1359.4" y2="1263.9" stroke="#ffffff" stroke-width="1.2" />
<text x="1257.7" y="1292" text-anchor="middle" font-size="26.5" fill="#231f20" >4</text>
<text x="1308.7" y="1292" text-anchor="middle" font-size="26.5" fill="#231f20" >6</text>
<text x="1359.4" y="1292" text-anchor="middle" font-size="26.5" fill="#231f20" >8</text>
<text x="1381.3" y="1262" text-anchor="start" font-size="28" fill="#231f20"  textLength="38.83" lengthAdjust="spacingAndGlyphs">log</text>
<text x="1420.6" y="1270" text-anchor="start" font-size="19" fill="#231f20"  textLength="19.29" lengthAdjust="spacingAndGlyphs">10</text>
<text x="1441.6" y="1262" text-anchor="start" font-size="28" fill="#231f20"  textLength="354.90" lengthAdjust="spacingAndGlyphs">(homologous position pairs)</text>
<text x="1808.3" y="74" text-anchor="start" font-size="25.5" fill="#231f20"  textLength="51.72" lengthAdjust="spacingAndGlyphs">Chr.</text>
<rect x="1825.80" y="94.80" width="24.60" height="42.30" fill="#55350e" />
<text x="1862.2" y="124.4" text-anchor="start" font-size="25.5" fill="#231f20"  textLength="10.95" lengthAdjust="spacingAndGlyphs">1</text>
<rect x="1825.80" y="140.70" width="24.60" height="42.30" fill="#6a4215" />
<text x="1862.2" y="170.29999999999998" text-anchor="start" font-size="25.5" fill="#231f20"  textLength="12.94" lengthAdjust="spacingAndGlyphs">2</text>
<rect x="1825.80" y="186.60" width="24.60" height="42.30" fill="#7b4c1e" />
<text x="1862.2" y="216.2" text-anchor="start" font-size="25.5" fill="#231f20"  textLength="14.23" lengthAdjust="spacingAndGlyphs">3</text>
<rect x="1825.80" y="232.50" width="24.60" height="42.30" fill="#8f5b25" />
<text x="1862.2" y="262.1" text-anchor="start" font-size="25.5" fill="#231f20"  textLength="15.23" lengthAdjust="spacingAndGlyphs">4</text>
<rect x="1825.80" y="278.40" width="24.60" height="42.30" fill="#a56e2c" />
<text x="1862.2" y="308.0" text-anchor="start" font-size="25.5" fill="#231f20"  textLength="13.44" lengthAdjust="spacingAndGlyphs">5</text>
<rect x="1825.80" y="324.30" width="24.60" height="42.30" fill="#be8639" />
<text x="1862.2" y="353.90000000000003" text-anchor="start" font-size="25.5" fill="#231f20"  textLength="15.73" lengthAdjust="spacingAndGlyphs">6</text>
<rect x="1825.80" y="370.20" width="24.60" height="42.30" fill="#c99e5e" />
<text x="1862.2" y="399.8" text-anchor="start" font-size="25.5" fill="#231f20"  textLength="13.84" lengthAdjust="spacingAndGlyphs">7</text>
<rect x="1825.80" y="416.10" width="24.60" height="42.30" fill="#d6b877" />
<text x="1862.2" y="445.70000000000005" text-anchor="start" font-size="25.5" fill="#231f20"  textLength="15.73" lengthAdjust="spacingAndGlyphs">8</text>
<rect x="1825.80" y="462.00" width="24.60" height="42.30" fill="#e2c992" />
<text x="1862.2" y="491.6" text-anchor="start" font-size="25.5" fill="#231f20"  textLength="15.73" lengthAdjust="spacingAndGlyphs">9</text>
<rect x="1825.80" y="507.90" width="24.60" height="42.30" fill="#efe0ae" />
<text x="1862.2" y="537.5" text-anchor="start" font-size="25.5" fill="#231f20"  textLength="29.02" lengthAdjust="spacingAndGlyphs">10</text>
<rect x="1825.80" y="553.80" width="24.60" height="42.30" fill="#f1e6cb" />
<text x="1862.2" y="583.4" text-anchor="start" font-size="25.5" fill="#231f20"  textLength="20.38" lengthAdjust="spacingAndGlyphs">11</text>
<rect x="1825.80" y="599.70" width="24.60" height="42.30" fill="#f3f1e6" />
<text x="1862.2" y="629.3" text-anchor="start" font-size="25.5" fill="#231f20"  textLength="25.10" lengthAdjust="spacingAndGlyphs">12</text>
<rect x="1825.80" y="645.60" width="24.60" height="42.30" fill="#e3ebe8" />
<text x="1862.2" y="675.1999999999999" text-anchor="start" font-size="25.5" fill="#231f20"  textLength="26.31" lengthAdjust="spacingAndGlyphs">13</text>
<rect x="1825.80" y="691.50" width="24.60" height="42.30" fill="#c9e2de" />
<text x="1862.2" y="721.0999999999999" text-anchor="start" font-size="25.5" fill="#231f20"  textLength="27.11" lengthAdjust="spacingAndGlyphs">14</text>
<rect x="1825.80" y="737.40" width="24.60" height="42.30" fill="#acd7d1" />
<text x="1862.2" y="767.0" text-anchor="start" font-size="25.5" fill="#231f20"  textLength="25.51" lengthAdjust="spacingAndGlyphs">15</text>
<rect x="1825.80" y="783.30" width="24.60" height="42.30" fill="#8cc6bd" />
<text x="1862.2" y="812.9" text-anchor="start" font-size="25.5" fill="#231f20"  textLength="26.91" lengthAdjust="spacingAndGlyphs">16</text>
<rect x="1825.80" y="829.20" width="24.60" height="42.30" fill="#6fb8aa" />
<text x="1862.2" y="858.8" text-anchor="start" font-size="25.5" fill="#231f20"  textLength="24.90" lengthAdjust="spacingAndGlyphs">17</text>
<rect x="1825.80" y="875.10" width="24.60" height="42.30" fill="#4da89b" />
<text x="1862.2" y="904.6999999999999" text-anchor="start" font-size="25.5" fill="#231f20"  textLength="26.11" lengthAdjust="spacingAndGlyphs">18</text>
<rect x="1825.80" y="921.00" width="24.60" height="42.30" fill="#2e968b" />
<text x="1862.2" y="950.5999999999999" text-anchor="start" font-size="25.5" fill="#231f20"  textLength="26.91" lengthAdjust="spacingAndGlyphs">19</text>
<rect x="1825.80" y="966.90" width="24.60" height="42.30" fill="#1b8279" />
<text x="1862.2" y="996.5" text-anchor="start" font-size="25.5" fill="#231f20"  textLength="32.94" lengthAdjust="spacingAndGlyphs">20</text>
<rect x="1825.80" y="1012.80" width="24.60" height="42.30" fill="#106f69" />
<text x="1862.2" y="1042.3999999999999" text-anchor="start" font-size="25.5" fill="#231f20"  textLength="24.90" lengthAdjust="spacingAndGlyphs">21</text>
<rect x="1825.80" y="1058.70" width="24.60" height="42.30" fill="#0b5d56" />
<text x="1862.2" y="1088.3" text-anchor="start" font-size="25.5" fill="#231f20"  textLength="28.92" lengthAdjust="spacingAndGlyphs">22</text>
<rect x="1825.80" y="1104.60" width="24.60" height="42.30" fill="#064c45" />
<text x="1862.2" y="1134.1999999999998" text-anchor="start" font-size="25.5" fill="#231f20"  textLength="16.01" lengthAdjust="spacingAndGlyphs">X</text>
<rect x="1825.80" y="1150.50" width="24.60" height="42.30" fill="#033d34" />
<text x="1862.2" y="1180.1" text-anchor="start" font-size="25.5" fill="#231f20"  textLength="15.21" lengthAdjust="spacingAndGlyphs">Y</text>
<text x="1964.2" y="33.5" text-anchor="start" font-size="38" fill="#231f20" font-weight="bold" stroke="#231f20" stroke-width="1.1">c</text>
<rect x="1971.90" y="59.60" width="26.80" height="27.10" fill="#0a8c48" />
<rect x="1971.90" y="89.20" width="26.80" height="26.60" fill="#1fab5a" />
<rect x="1971.90" y="118.20" width="26.80" height="27.10" fill="#b1b2b6" />
<text x="2010.8" y="82" text-anchor="start" font-size="26" fill="#231f20"  textLength="149.76" lengthAdjust="spacingAndGlyphs">CNM × CNM</text>
<text x="2010.8" y="111.3" text-anchor="start" font-size="26" fill="#231f20"  textLength="144.73" lengthAdjust="spacingAndGlyphs">CNU × CNM</text>
<text x="2010.8" y="140.9" text-anchor="start" font-size="26" fill="#231f20"  textLength="140.64" lengthAdjust="spacingAndGlyphs">CNU × CNU</text>
<line x1="2092.6" y1="182.09999999999997" x2="2092.6" y2="1215.0" stroke="#4a4a4c" stroke-width="1.3" />
<line x1="2078.8" y1="182.79999999999995" x2="2093.3" y2="182.79999999999995" stroke="#6a6a6c" stroke-width="1.4" />
<text x="2065.5" y="190.89999999999995" text-anchor="end" font-size="23.5" fill="#231f20"  textLength="45.19" lengthAdjust="spacingAndGlyphs">1.00</text>
<line x1="2078.8" y1="440.67499999999995" x2="2093.3" y2="440.67499999999995" stroke="#6a6a6c" stroke-width="1.4" />
<text x="2065.5" y="448.775" text-anchor="end" font-size="23.5" fill="#231f20"  textLength="44.79" lengthAdjust="spacingAndGlyphs">0.75</text>
<line x1="2078.8" y1="698.55" x2="2093.3" y2="698.55" stroke="#6a6a6c" stroke-width="1.4" />
<text x="2065.5" y="706.65" text-anchor="end" font-size="23.5" fill="#231f20"  textLength="48.39" lengthAdjust="spacingAndGlyphs">0.50</text>
<line x1="2078.8" y1="956.425" x2="2093.3" y2="956.425" stroke="#6a6a6c" stroke-width="1.4" />
<text x="2065.5" y="964.525" text-anchor="end" font-size="23.5" fill="#231f20"  textLength="45.79" lengthAdjust="spacingAndGlyphs">0.25</text>
<line x1="2078.8" y1="1214.3" x2="2093.3" y2="1214.3" stroke="#6a6a6c" stroke-width="1.4" />
<text x="2065.5" y="1222.3999999999999" text-anchor="end" font-size="23.5" fill="#231f20"  textLength="12.37" lengthAdjust="spacingAndGlyphs">0</text>
<rect x="2095.80" y="182.80" width="43.80" height="15.00" fill="#0a8c48" />
<rect x="2095.80" y="197.80" width="43.80" height="9.80" fill="#1fab5a" />
<rect x="2095.80" y="207.60" width="43.80" height="1006.70" fill="#b1b2b6" />
<text x="0" y="0" text-anchor="middle" font-size="28" fill="#231f20" transform="translate(1985.7,699) rotate(-90)" textLength="479.92" lengthAdjust="spacingAndGlyphs">Fraction of homologous position pairs</text>
</svg></body></html>
